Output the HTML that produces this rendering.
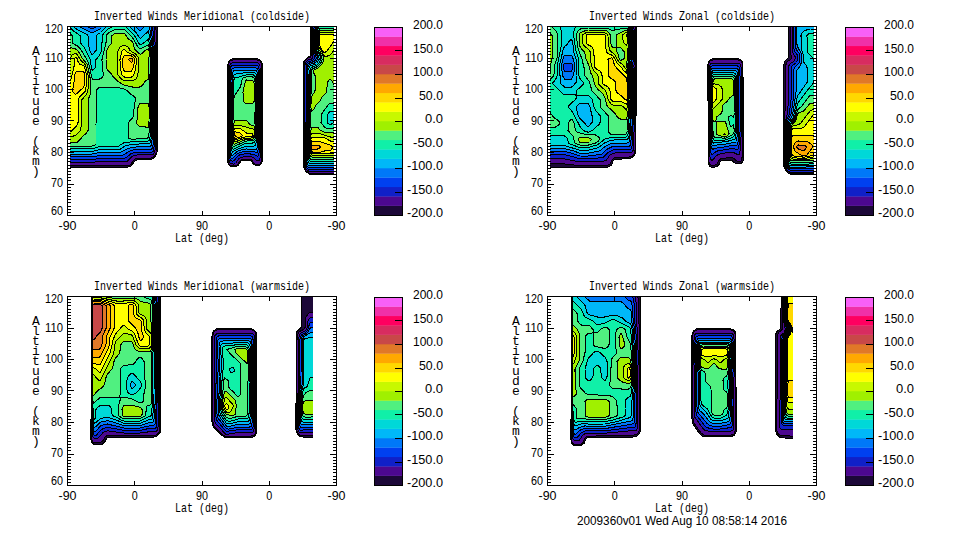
<!DOCTYPE html>
<html><head><meta charset="utf-8"><style>
html,body{margin:0;padding:0;background:#fff;width:960px;height:540px;overflow:hidden}
svg{display:block}
text{font-family:"Liberation Sans",sans-serif;fill:#000}
text.m{font-family:"Liberation Mono",monospace}
</style></head><body>
<svg width="960" height="540" viewBox="0 0 960 540">
<clipPath id="c0"><rect x="70" y="27" width="264" height="188"/></clipPath>
<g clip-path="url(#c0)">
<path fill="#1c0838" fill-rule="evenodd" d="M66.3 25.5L157.1 25.5L157.2 151.5L155.9 155.5L154.5 157.3L151.5 159.2L149.5 159.4L138.5 159.6L135.5 160.4L130.5 166.3L127.5 167.2L66.5 167.3Z"/>
<path fill="#4c0890" fill-rule="evenodd" d="M66.4 25.5L155.9 25.5L156.7 51.5L156.5 151.5L155.6 154.5L154.5 156L152.7 157.5L149.9 158.5L135.5 158.8L132.6 161.5L130.5 164.6L128.5 165.6L66.5 165.8Z"/>
<path fill="#1020c8" fill-rule="evenodd" d="M66.4 25.5L154.1 25.5L155.5 51.5L155.2 148.5L154.9 151.5L153.5 154L151.5 154.9L149.5 154.9L138.5 154.8L134.5 155.3L131.5 156.9L127.5 161.1L125.5 161.5L100.5 161.5L91.5 162.3L66.5 162.3Z"/>
<path fill="#0040f0" fill-rule="evenodd" d="M66.4 25.5L152.6 25.5L154.5 51.5L154.1 145.5L153.8 149.5L153 151.5L151.5 152.3L148.5 152.1L134.5 152.4L130.5 154L126.5 157.5L124.5 158.3L100.5 158.5L91.5 159.5L66.5 159.5Z"/>
<path fill="#0078f8" fill-rule="evenodd" d="M66.4 25.5L88 25.5L88 26.5L89 27.5L91.5 28.8L95 27.5L96 26.5L96 25.5L151 25.5L153.6 51.5L153.2 83.5L153.6 122.5L153.1 144.5L152.5 148.1L151.5 149.2L134.5 149.6L129.5 151.1L124.4 154.5L121.5 155.4L100.5 155.4L91.5 156.9L66.5 156.9Z"/>
<path fill="#00b8f8" fill-rule="evenodd" d="M66.4 25.5L80 25.5L80 26.5L81 27.5L91.5 32.8L92.5 32.8L99.5 29.2L101.5 27.5L102 25.5L136 25.5L136.7 27.5L139.5 30.3L140.5 30.5L143.5 27.5L144 25.5L149.5 25.5L152.7 51.5L152.7 74.5L152.2 83.5L152.7 122.5L152.2 137.5L151.7 144.5L150.5 146.4L133.5 147.1L127.5 148.6L120.5 152.3L100.5 152.4L91.5 154.2L66.5 154.2Z"/>
<path fill="#00d8d8" fill-rule="evenodd" d="M66.5 25.5L74 25.5L74.5 27.5L75.5 28.5L87 34.5L88 35.5L88.2 43.5L90.2 51.5L91.5 54L92.5 54.5L96 50.5L96 35.5L100.5 32.5L105.5 27.5L106 25.5L130 25.5L130.5 27.5L136.1 32.5L139.5 37.8L140.5 38.5L148.5 31L151.8 51.5L151.8 74.5L151.2 83.5L151.8 112.5L151 139.5L150.5 142.5L149.5 143.7L135.5 144.1L128.5 145.1L124.5 146.2L120.5 149L118.5 149.4L100.5 149.4L91.5 151.5L66.5 151.5Z"/>
<path fill="#10f0a8" fill-rule="evenodd" d="M66.5 25.5L70 25.5L70.3 27.5L72.5 30.2L80 35.5L80 42.5L84.3 47.5L89.8 58.5L90.6 61.5L91.5 68.5L92.5 70.7L95.7 67.5L96 59.5L99.5 55.5L101.2 51.5L102 42.5L102 35.5L107.5 29.5L111 27.5L112 26.5L112 25.5L126 25.5L126.5 27.5L134.5 35.6L139.5 44.3L140.5 44.8L144.5 42.5L148.5 39L150.9 51.5L150.9 74.5L150.2 83.5L150.2 96.5L150.9 107.5L150.9 122.5L150 137.5L149.5 139.8L148.5 141L126.5 142.2L123.5 143L118.5 146.2L100.5 146.4L91.5 148.9L66.5 148.9Z"/>
<path fill="#50f080" fill-rule="evenodd" d="M115 29.5L116.5 29L123.5 29L124.5 29.5L133.2 38.5L137.5 46.3L139.5 48.6L140.5 48.8L147.5 45.2L148.5 45L148.7 45.5L150 51.5L150 74.5L149.1 83.5L149.1 98.5L150 107.5L150 122.5L148.7 136.5L147.5 138.3L146.5 138.6L131.5 139.2L128 138.5L128 123.5L129.5 120.8L132.5 118.2L133.8 115.5L134.1 106.5L135.7 98.5L134.2 96.5L129.8 93.5L127.2 90.5L124.5 89.2L115.5 87L100.5 87L98.5 87.9L96.3 90.5L96 125.5L96 144.5L91.5 146.2L66.5 146.4L66.5 31L68.5 31.7L72 35.5L72 42.5L72.8 43.5L77.5 46L80.5 48.9L87.9 61.5L89.3 65.5L91.5 76.6L92.5 79L99.5 79L101.5 78.1L103.7 75.5L102.1 67.5L102 59.5L106 42.5L106 35.5L108.5 32.8Z"/>
<path fill="#a0f000" fill-rule="evenodd" d="M115 33.5L116.5 33L123.5 33L124.5 33.5L126.1 35.5L127.6 38.5L132.5 41.7L134.9 49.5L140.5 54.7L145 50.5L148.5 49L149.1 51.5L148.7 77.5L148.5 79L145.8 80.5L143.5 83.9L141.5 86.1L139.5 87L132.5 87L123.5 84.8L118.1 81.5L113.5 77.2L110.5 72.8L107.5 70.2L106 66.5L106 59.5L106.8 50.5L108.5 46.7L111.7 43.5L112 35.5ZM66.5 47.5L66.5 47L67.5 47L75.5 48.9L78.4 51.5L83.1 59.5L85.5 61.9L87.1 64.5L89.5 74.5L91 83.5L90.3 93.5L89.5 96.6L88 99.5L88 130.5L86.5 133.2L83.5 135.5L78.5 141.2L76.5 142.7L66.5 143ZM139.9 103.5L140.5 103L148.5 103L149.1 107.5L149 123.5L148.5 127L145.5 127L139.5 126.7L136.3 123.5L137.9 115.5L138 107.5Z"/>
<path fill="#c8f800" fill-rule="evenodd" d="M122.4 45.5L124.5 45.1L127.5 46.6L129.1 48.5L129.9 50.5L136.3 54.5L138.8 58.5L137.9 75.5L136.4 78.5L133.6 80.5L131.5 81L123.5 80.7L119.9 77.5L117.9 74.5L117.3 66.5L117.9 51.5L119.5 47.6ZM74.4 53.5L75.5 53.1L76.5 53.6L80.9 60.5L84.5 63.6L85.7 65.5L87.9 74.5L88.9 82.5L87.5 92.3L85.6 95.5L82 99.5L81.9 123.5L80.2 130.5L77.5 133.5L75.5 135.2L73.5 136L66.5 137L66.5 79L67.9 78.5L69.2 75.5L70.1 58.5L71.6 55.5Z"/>
<path fill="#ffff00" fill-rule="evenodd" d="M123.4 49.5L124.5 49.4L127.8 52.5L133.5 54.9L136.7 58.5L135.7 68.5L133.5 75.6L131.5 77L124.5 77L123.5 76.5L121.8 74.5L120.1 67.5L120 59.5L121.8 51.5ZM75.4 57.5L76.5 57.7L77 58.5L78.4 62.5L79.5 64L83.5 65.6L84.5 66.5L86.3 74.5L87 82.5L85 91.5L79.9 96.5L78 99.5L78 122.5L76.5 126.2L73.8 128.5L71.2 131.5L68.5 132.8L66.5 133L66.5 87L67.5 87L68.5 86.2L70.5 81.5L74 66.5L74 59.5Z"/>
<path fill="#ffd800" fill-rule="evenodd" d="M124.2 55.5L131.5 56L134.6 58.5L134.5 61.9L132.6 69.5L131.5 71L124.5 71L123.5 69.7L122.7 66.5L122.7 59.5L123.5 56.3ZM76.1 71.5L76.5 71L83.5 71L84.7 74.5L85 82.5L84.5 85.1L83.5 87.3L78.5 92.1L75.5 94.7L72.3 91.5L73.8 84.5L74.8 74.5Z"/>
<path fill="#ffa800" fill-rule="evenodd" d="M129.5 58.5L131.5 58.1L132.5 58.5L132.7 60.5L131.5 62.7L128.3 59.5Z"/>
<path fill="none" stroke="#000" stroke-width="1.0" shape-rendering="crispEdges" d="M66.3 25.5L157.1 25.5L157.2 151.5L155.9 155.5L154.5 157.3L151.5 159.2L149.5 159.4L138.5 159.6L135.5 160.4L130.5 166.3L127.5 167.2L66.5 167.3ZM66.4 25.5L155.9 25.5L156.7 51.5L156.5 151.5L155.6 154.5L154.5 156L152.7 157.5L149.9 158.5L135.5 158.8L132.6 161.5L130.5 164.6L128.5 165.6L66.5 165.8ZM66.4 25.5L154.1 25.5L155.5 51.5L155.2 148.5L154.9 151.5L153.5 154L151.5 154.9L149.5 154.9L138.5 154.8L134.5 155.3L131.5 156.9L127.5 161.1L125.5 161.5L100.5 161.5L91.5 162.3L66.5 162.3ZM66.4 25.5L152.6 25.5L154.5 51.5L154.1 145.5L153.8 149.5L153 151.5L151.5 152.3L148.5 152.1L134.5 152.4L130.5 154L126.5 157.5L124.5 158.3L100.5 158.5L91.5 159.5L66.5 159.5ZM66.4 25.5L88 25.5L88 26.5L89 27.5L91.5 28.8L95 27.5L96 26.5L96 25.5L151 25.5L153.6 51.5L153.2 83.5L153.6 122.5L153.1 144.5L152.5 148.1L151.5 149.2L134.5 149.6L129.5 151.1L124.4 154.5L121.5 155.4L100.5 155.4L91.5 156.9L66.5 156.9ZM66.4 25.5L80 25.5L80 26.5L81 27.5L91.5 32.8L92.5 32.8L99.5 29.2L101.5 27.5L102 25.5L136 25.5L136.7 27.5L139.5 30.3L140.5 30.5L143.5 27.5L144 25.5L149.5 25.5L152.7 51.5L152.7 74.5L152.2 83.5L152.7 122.5L152.2 137.5L151.7 144.5L150.5 146.4L133.5 147.1L127.5 148.6L120.5 152.3L100.5 152.4L91.5 154.2L66.5 154.2ZM66.5 25.5L74 25.5L74.5 27.5L75.5 28.5L87 34.5L88 35.5L88.2 43.5L90.2 51.5L91.5 54L92.5 54.5L96 50.5L96 35.5L100.5 32.5L105.5 27.5L106 25.5L130 25.5L130.5 27.5L136.1 32.5L139.5 37.8L140.5 38.5L148.5 31L151.8 51.5L151.8 74.5L151.2 83.5L151.8 112.5L151 139.5L150.5 142.5L149.5 143.7L135.5 144.1L128.5 145.1L124.5 146.2L120.5 149L118.5 149.4L100.5 149.4L91.5 151.5L66.5 151.5ZM66.5 25.5L70 25.5L70.3 27.5L72.5 30.2L80 35.5L80 42.5L84.3 47.5L89.8 58.5L90.6 61.5L91.5 68.5L92.5 70.7L95.7 67.5L96 59.5L99.5 55.5L101.2 51.5L102 42.5L102 35.5L107.5 29.5L111 27.5L112 26.5L112 25.5L126 25.5L126.5 27.5L134.5 35.6L139.5 44.3L140.5 44.8L144.5 42.5L148.5 39L150.9 51.5L150.9 74.5L150.2 83.5L150.2 96.5L150.9 107.5L150.9 122.5L150 137.5L149.5 139.8L148.5 141L126.5 142.2L123.5 143L118.5 146.2L100.5 146.4L91.5 148.9L66.5 148.9ZM115 29.5L116.5 29L123.5 29L124.5 29.5L133.2 38.5L137.5 46.3L139.5 48.6L140.5 48.8L147.5 45.2L148.5 45L148.7 45.5L150 51.5L150 74.5L149.1 83.5L149.1 98.5L150 107.5L150 122.5L148.7 136.5L147.5 138.3L146.5 138.6L131.5 139.2L128 138.5L128 123.5L129.5 120.8L132.5 118.2L133.8 115.5L134.1 106.5L135.7 98.5L134.2 96.5L129.8 93.5L127.2 90.5L124.5 89.2L115.5 87L100.5 87L98.5 87.9L96.3 90.5L96 125.5L96 144.5L91.5 146.2L66.5 146.4L66.5 31L68.5 31.7L72 35.5L72 42.5L72.8 43.5L77.5 46L80.5 48.9L87.9 61.5L89.3 65.5L91.5 76.6L92.5 79L99.5 79L101.5 78.1L103.7 75.5L102.1 67.5L102 59.5L106 42.5L106 35.5L108.5 32.8ZM115 33.5L116.5 33L123.5 33L124.5 33.5L126.1 35.5L127.6 38.5L132.5 41.7L134.9 49.5L140.5 54.7L145 50.5L148.5 49L149.1 51.5L148.7 77.5L148.5 79L145.8 80.5L143.5 83.9L141.5 86.1L139.5 87L132.5 87L123.5 84.8L118.1 81.5L113.5 77.2L110.5 72.8L107.5 70.2L106 66.5L106 59.5L106.8 50.5L108.5 46.7L111.7 43.5L112 35.5ZM66.5 47.5L66.5 47L67.5 47L75.5 48.9L78.4 51.5L83.1 59.5L85.5 61.9L87.1 64.5L89.5 74.5L91 83.5L90.3 93.5L89.5 96.6L88 99.5L88 130.5L86.5 133.2L83.5 135.5L78.5 141.2L76.5 142.7L66.5 143ZM139.9 103.5L140.5 103L148.5 103L149.1 107.5L149 123.5L148.5 127L145.5 127L139.5 126.7L136.3 123.5L137.9 115.5L138 107.5ZM122.4 45.5L124.5 45.1L127.5 46.6L129.1 48.5L129.9 50.5L136.3 54.5L138.8 58.5L137.9 75.5L136.4 78.5L133.6 80.5L131.5 81L123.5 80.7L119.9 77.5L117.9 74.5L117.3 66.5L117.9 51.5L119.5 47.6ZM74.4 53.5L75.5 53.1L76.5 53.6L80.9 60.5L84.5 63.6L85.7 65.5L87.9 74.5L88.9 82.5L87.5 92.3L85.6 95.5L82 99.5L81.9 123.5L80.2 130.5L77.5 133.5L75.5 135.2L73.5 136L66.5 137L66.5 79L67.9 78.5L69.2 75.5L70.1 58.5L71.6 55.5ZM123.4 49.5L124.5 49.4L127.8 52.5L133.5 54.9L136.7 58.5L135.7 68.5L133.5 75.6L131.5 77L124.5 77L123.5 76.5L121.8 74.5L120.1 67.5L120 59.5L121.8 51.5ZM75.4 57.5L76.5 57.7L77 58.5L78.4 62.5L79.5 64L83.5 65.6L84.5 66.5L86.3 74.5L87 82.5L85 91.5L79.9 96.5L78 99.5L78 122.5L76.5 126.2L73.8 128.5L71.2 131.5L68.5 132.8L66.5 133L66.5 87L67.5 87L68.5 86.2L70.5 81.5L74 66.5L74 59.5ZM124.2 55.5L131.5 56L134.6 58.5L134.5 61.9L132.6 69.5L131.5 71L124.5 71L123.5 69.7L122.7 66.5L122.7 59.5L123.5 56.3ZM76.1 71.5L76.5 71L83.5 71L84.7 74.5L85 82.5L84.5 85.1L83.5 87.3L78.5 92.1L75.5 94.7L72.3 91.5L73.8 84.5L74.8 74.5ZM129.5 58.5L131.5 58.1L132.5 58.5L132.7 60.5L131.5 62.7L128.3 59.5Z"/>
<path fill="#1c0838" fill-rule="evenodd" d="M230.7 59.5L233.5 58.6L257.5 58.7L260.5 60.6L262.1 63.5L262.1 161.5L261.4 163.5L259.5 165.4L255.5 165.4L253.8 164.5L251.5 161.4L249.5 160.4L241.5 160.5L238.1 165.5L236.5 166.4L230.5 166.4L228.6 164.5L227.8 162.5L227.9 64.5L228.7 61.5Z"/>
<path fill="#4c0890" fill-rule="evenodd" d="M230.4 60.5L234.5 59.6L255.5 59.6L259.5 60.5L260.5 61.5L261.5 64.2L261.6 160.5L260.6 163.5L258.9 164.5L256.5 164.6L254.5 163.7L251.5 159.9L248.5 159.1L243.5 159.2L240.5 160.1L237.8 164.5L235.5 165.8L230.5 165.6L229.2 164.5L228.3 162.5L228.4 66.5L228.5 63.5Z"/>
<path fill="#1020c8" fill-rule="evenodd" d="M230.7 63.5L232.5 62.9L257.5 62.9L259.5 64.1L260 65.5L260.5 155.5L259.8 159.5L258.5 160.9L256.5 160.4L254.5 158.4L252.5 157.2L249.5 156.5L241.5 157.1L238.5 159L235.5 163.5L233.5 164.1L230.5 163.8L229.1 161.5L228.6 155.5L228.4 136.5L229.1 115.5L229.3 69.5L229.6 65.5Z"/>
<path fill="#0040f0" fill-rule="evenodd" d="M232.2 65.5L256.5 65.4L258.5 66.4L258.9 67.5L259.4 74.5L259.6 150.5L258.5 155.8L257.5 156.2L253.5 154.3L246.5 153.6L240.5 154.5L237.5 156.1L234.5 160.1L232.5 161.1L230.5 160.3L229.8 158.5L229 136.5L229.9 116.5L230.2 70.5L230.5 67.4L231.5 65.8Z"/>
<path fill="#0078f8" fill-rule="evenodd" d="M232.1 68.5L234.5 67.8L255.5 67.8L257.5 68.6L258.2 70.5L258.9 130.5L258.6 148.5L257.5 152L256.5 152.3L250.5 151.4L245.5 151.4L239.5 152.6L236.5 154.4L232.5 158.6L231.5 158.6L230.5 157L229.6 135.5L230.6 116.5L231.1 72.5Z"/>
<path fill="#00b8f8" fill-rule="evenodd" d="M240.6 70.5L255.5 70.3L256.5 70.9L257.2 72.5L257.6 77.5L257.6 123.5L258.1 135.5L257.3 147.5L256.5 149L255.5 149.3L246.5 149L242.5 149.6L237.5 151.3L232.5 155.4L231.5 155L230.5 150.2L230 136.5L231.3 116.5L232.2 73.5L233.5 70.9Z"/>
<path fill="#00d8d8" fill-rule="evenodd" d="M245.8 72.5L254.5 72.6L255.7 73.5L256.4 75.5L256.9 84.5L256.7 123.5L257.3 136.5L255.5 145.7L252.5 146.5L246.5 146.3L238.5 148.7L232.5 152L231.5 150.6L231 146.5L230.5 135.5L232 116.5L232.8 79.5L233.5 75.5L234.5 74.1L239.5 73.8Z"/>
<path fill="#10f0a8" fill-rule="evenodd" d="M243.8 75.5L246.5 74.8L253.5 75L254.6 75.5L255.5 77.5L256.1 84.5L255.8 123.5L256.7 135.5L256.1 139.5L254.5 142.1L252.5 143L246.5 143L241.2 145.5L233.5 149.2L232.5 148.9L231.5 145.2L231 135.5L232.7 116.5L232.8 100.5L234 79.5L234.5 78.1L235.5 77.2L239.5 77Z"/>
<path fill="#50f080" fill-rule="evenodd" d="M244.3 77.5L246.5 76.9L252.5 77L253.7 77.5L254.8 79.5L255.3 86.5L254.9 123.5L255.8 129.5L256 135.5L255.4 138.5L253.5 140.6L245.5 141.1L240.5 143.6L233.5 146.6L232.3 144.5L231.4 135.5L233.4 116.5L233.5 99.5L234.5 95.6L240.5 86.9L242.3 78.5Z"/>
<path fill="#a0f000" fill-rule="evenodd" d="M246 80.5L246.5 80L252.5 80.4L253.5 81.3L254.2 83.5L254.5 100.3L253.5 102.7L252.5 103.6L246.5 104L244.5 102.7L243.2 100.5L243 92.5L244.6 83.5ZM234.4 120.5L234.5 120L245.5 120L247.5 121.3L249.8 124.5L254.5 126.1L255.3 132.5L254.7 137.5L252.5 139.4L248.5 139.5L245.5 139.6L234.5 144.2L233.5 143.9L232.5 141.2L231.9 135.5Z"/>
<path fill="#c8f800" fill-rule="evenodd" d="M233.9 126.5L234.5 125.5L240.5 125.6L253.5 129.1L254.5 131.5L254.1 136.5L252.5 137.9L249.5 138.1L245.5 138.2L235.5 141.7L233.9 141.5L232.9 139.5L232.4 135.5Z"/>
<path fill="#ffff00" fill-rule="evenodd" d="M234 129.5L234.5 128.5L240.5 128.7L246.5 133L251.5 133L252.5 133.8L253.1 135.5L252.5 136.5L249.5 136.8L245.5 136.9L234.5 140L233.5 138.8L233 136.5Z"/>
<path fill="#ffd800" fill-rule="evenodd" d="M234.2 132.5L234.5 131.6L239.5 132.8L242.5 135.5L241.5 136.6L236.5 138.2L234.5 138.1L233.6 135.5Z"/>
<path fill="#ffa800" fill-rule="evenodd" d="M234.5 135.5L234.5 135L235.5 135.1L236.5 136.5L235.5 136.8Z"/>
<path fill="none" stroke="#000" stroke-width="1.0" shape-rendering="crispEdges" d="M230.7 59.5L233.5 58.6L257.5 58.7L260.5 60.6L262.1 63.5L262.1 161.5L261.4 163.5L259.5 165.4L255.5 165.4L253.8 164.5L251.5 161.4L249.5 160.4L241.5 160.5L238.1 165.5L236.5 166.4L230.5 166.4L228.6 164.5L227.8 162.5L227.9 64.5L228.7 61.5ZM230.4 60.5L234.5 59.6L255.5 59.6L259.5 60.5L260.5 61.5L261.5 64.2L261.6 160.5L260.6 163.5L258.9 164.5L256.5 164.6L254.5 163.7L251.5 159.9L248.5 159.1L243.5 159.2L240.5 160.1L237.8 164.5L235.5 165.8L230.5 165.6L229.2 164.5L228.3 162.5L228.4 66.5L228.5 63.5ZM230.7 63.5L232.5 62.9L257.5 62.9L259.5 64.1L260 65.5L260.5 155.5L259.8 159.5L258.5 160.9L256.5 160.4L254.5 158.4L252.5 157.2L249.5 156.5L241.5 157.1L238.5 159L235.5 163.5L233.5 164.1L230.5 163.8L229.1 161.5L228.6 155.5L228.4 136.5L229.1 115.5L229.3 69.5L229.6 65.5ZM232.2 65.5L256.5 65.4L258.5 66.4L258.9 67.5L259.4 74.5L259.6 150.5L258.5 155.8L257.5 156.2L253.5 154.3L246.5 153.6L240.5 154.5L237.5 156.1L234.5 160.1L232.5 161.1L230.5 160.3L229.8 158.5L229 136.5L229.9 116.5L230.2 70.5L230.5 67.4L231.5 65.8ZM232.1 68.5L234.5 67.8L255.5 67.8L257.5 68.6L258.2 70.5L258.9 130.5L258.6 148.5L257.5 152L256.5 152.3L250.5 151.4L245.5 151.4L239.5 152.6L236.5 154.4L232.5 158.6L231.5 158.6L230.5 157L229.6 135.5L230.6 116.5L231.1 72.5ZM240.6 70.5L255.5 70.3L256.5 70.9L257.2 72.5L257.6 77.5L257.6 123.5L258.1 135.5L257.3 147.5L256.5 149L255.5 149.3L246.5 149L242.5 149.6L237.5 151.3L232.5 155.4L231.5 155L230.5 150.2L230 136.5L231.3 116.5L232.2 73.5L233.5 70.9ZM245.8 72.5L254.5 72.6L255.7 73.5L256.4 75.5L256.9 84.5L256.7 123.5L257.3 136.5L255.5 145.7L252.5 146.5L246.5 146.3L238.5 148.7L232.5 152L231.5 150.6L231 146.5L230.5 135.5L232 116.5L232.8 79.5L233.5 75.5L234.5 74.1L239.5 73.8ZM243.8 75.5L246.5 74.8L253.5 75L254.6 75.5L255.5 77.5L256.1 84.5L255.8 123.5L256.7 135.5L256.1 139.5L254.5 142.1L252.5 143L246.5 143L241.2 145.5L233.5 149.2L232.5 148.9L231.5 145.2L231 135.5L232.7 116.5L232.8 100.5L234 79.5L234.5 78.1L235.5 77.2L239.5 77ZM244.3 77.5L246.5 76.9L252.5 77L253.7 77.5L254.8 79.5L255.3 86.5L254.9 123.5L255.8 129.5L256 135.5L255.4 138.5L253.5 140.6L245.5 141.1L240.5 143.6L233.5 146.6L232.3 144.5L231.4 135.5L233.4 116.5L233.5 99.5L234.5 95.6L240.5 86.9L242.3 78.5ZM246 80.5L246.5 80L252.5 80.4L253.5 81.3L254.2 83.5L254.5 100.3L253.5 102.7L252.5 103.6L246.5 104L244.5 102.7L243.2 100.5L243 92.5L244.6 83.5ZM234.4 120.5L234.5 120L245.5 120L247.5 121.3L249.8 124.5L254.5 126.1L255.3 132.5L254.7 137.5L252.5 139.4L248.5 139.5L245.5 139.6L234.5 144.2L233.5 143.9L232.5 141.2L231.9 135.5ZM233.9 126.5L234.5 125.5L240.5 125.6L253.5 129.1L254.5 131.5L254.1 136.5L252.5 137.9L249.5 138.1L245.5 138.2L235.5 141.7L233.9 141.5L232.9 139.5L232.4 135.5ZM234 129.5L234.5 128.5L240.5 128.7L246.5 133L251.5 133L252.5 133.8L253.1 135.5L252.5 136.5L249.5 136.8L245.5 136.9L234.5 140L233.5 138.8L233 136.5ZM234.2 132.5L234.5 131.6L239.5 132.8L242.5 135.5L241.5 136.6L236.5 138.2L234.5 138.1L233.6 135.5ZM234.5 135.5L234.5 135L235.5 135.1L236.5 136.5L235.5 136.8Z"/>
<path fill="#1c0838" fill-rule="evenodd" d="M310.8 25.5L337.7 25.5L337.5 174.5L331.5 174.5L309.5 174.2L305.7 171.5L303.7 167.5L303.5 64.5L303.9 61.5L305.2 59.5L310.6 55.5Z"/>
<path fill="#4c0890" fill-rule="evenodd" d="M311.5 25.5L337.6 25.5L337.5 173.8L330.5 173.8L310.5 173.6L306.5 171.5L304.2 167.5L304.2 64.5L304.5 61.7L305.5 60.2L307.5 58.4L310.5 57L311.2 55.5Z"/>
<path fill="#1020c8" fill-rule="evenodd" d="M313.1 25.5L337.6 25.5L337.5 171.8L328.5 171.8L309.5 171.6L306.2 169.5L304.6 165.5L305 65.5L305.6 62.5L306.5 61.2L308.5 59.9L311.5 59L312.7 57.5L312.1 50.5L312.1 35.5Z"/>
<path fill="#0040f0" fill-rule="evenodd" d="M314.4 25.5L337.6 25.5L337.5 169.1L327.5 169.1L308.5 169.2L306.5 167.5L305.4 163.5L304.9 146.5L306 122.5L306 66.5L306.5 63.6L307.5 62.2L312.5 60.6L314.5 58.5L314.5 56.5L313.3 52.5L313.1 48.5L313.1 35.5Z"/>
<path fill="#0078f8" fill-rule="evenodd" d="M315.6 25.5L337.6 25.5L337.5 167.1L325.5 167.1L308.5 167.5L306.7 165.5L306.1 162.5L305.6 146.5L307 122.5L306.6 106.5L307.3 90.5L307 66.5L308.1 63.5L314 61.5L315.5 60L316.1 58.5L316 56.5L314.3 52.5L313.9 49.5L313.9 35.5Z"/>
<path fill="#00b8f8" fill-rule="evenodd" d="M316.8 25.5L337.6 25.5L337.5 165.2L322.5 165.2L309.5 165.6L308.5 165.4L307.6 164.5L306.8 160.5L306.2 147.5L307.9 122.5L307.4 106.5L308.3 90.5L307.9 67.5L308.4 65.5L309.4 64.5L314.5 63L316.3 61.5L317.5 59.5L317.5 56.5L315 51.5L314.7 48.5L314.8 34.5Z"/>
<path fill="#00d8d8" fill-rule="evenodd" d="M317.9 25.5L337.5 25.5L337.5 163.2L322.5 163.2L309.5 163.4L308.5 162.8L307.6 159.5L306.8 147.5L308.8 122.5L308.2 105.5L309.3 90.5L309 68.5L309.5 66.6L310.5 65.8L314.5 64.7L316.5 63.5L319.1 59.5L318.9 56.5L316.1 51.5L315.5 47.5L315.6 34.5Z"/>
<path fill="#10f0a8" fill-rule="evenodd" d="M319.1 25.5L337.5 25.5L337.5 111L330.5 111L329.5 111.7L327 115.5L327 122.5L329.5 124.7L330.5 124.7L332.4 123.5L335.5 119.4L337.5 119L337.5 161.2L310.5 161.3L309.1 160.5L308.4 158.5L307.4 146.5L309.7 122.5L309 105.5L310.3 90.5L310.1 69.5L311.2 67.5L315.5 65.9L317.6 64.5L319.5 62.2L320.7 59.5L320 55.5L316.8 50.5L316.3 47.5L316.4 34.5Z"/>
<path fill="#50f080" fill-rule="evenodd" d="M319.5 28.5L320.5 28L337.5 28L337.5 103L330.5 103L328.5 104.3L321.2 114.5L321 122.5L324.5 127.3L327.5 128.5L330.5 128.9L337.5 127L337.5 156.5L337.5 159.3L311.5 159.3L310.5 159.1L309.5 158L308.5 152.9L307.9 146.5L310.7 122.5L310.7 115.5L309.8 106.5L311.3 90.5L311.2 71.5L311.5 70.1L312.5 68.9L316.5 67.1L319.5 64.7L321.1 62.5L322.2 59.5L321.4 55.5L318.1 50.5L317.2 47.5L317 35.5Z"/>
<path fill="#a0f000" fill-rule="evenodd" d="M319.5 30.5L320.5 30L337.5 30L337.5 87L335.3 86.5L331.6 80.5L330.5 79.4L329.5 79.4L327.2 82.5L326.8 91.5L325.5 93.7L322.4 96.5L320.3 100.5L316.4 104.5L314.3 108.5L312.5 110.6L311.5 111L310.8 106.5L311.5 97.6L312.5 94.6L314.3 92.5L315 90.5L315 75.5L313.1 71.5L313.5 70.5L318.5 67.6L320.8 65.5L322.8 62.5L323.8 59.5L322.8 55.5L318.9 49.5L317.9 46.5L317.8 35.5ZM311.4 127.5L311.5 127L317.5 127L320.6 130.5L324.5 132.4L337.5 133L337.5 157.3L336.5 157.3L312.5 157.3L310.5 156.5L309.2 152.5L308.5 146.5Z"/>
<path fill="#c8f800" fill-rule="evenodd" d="M319.6 32.5L320.5 32L337.5 32L337.5 47L335.5 47.7L332.5 52.1L330.7 54.5L329.1 55.5L325.5 56.7L324.5 56.2L318.8 46.5L318.6 35.5ZM311.3 133.5L311.5 133L317.5 133L330.5 137L337.5 137L337.5 155.3L336.5 155.3L313.5 155.3L311.5 154.9L310 152.5L309.1 147.5L310.3 137.5Z"/>
<path fill="#ffff00" fill-rule="evenodd" d="M319.7 34.5L320.5 34L337.5 34L337.5 39L335.5 39.4L334.5 40.3L330.5 46.3L326.4 51.5L324.5 52.7L323.5 52.1L320.4 47.5L319.5 44.8ZM311.3 137.5L311.5 137L317.5 137L323.5 137.6L326 138.5L329.5 140.7L337.5 143L337.5 153.4L336.5 153.4L314.5 153.9L311.5 153.2L310.5 151.6L309.7 147.5L310.5 140.3Z"/>
<path fill="#ffd800" fill-rule="evenodd" d="M311.4 141.5L311.5 141L318.5 141.1L330.5 145.3L332.4 146.5L332.8 147.5L330.5 150.6L324.5 151L319 152.5L312.5 152.2L311.1 150.5L310.3 147.5Z"/>
<path fill="#ffa800" fill-rule="evenodd" d="M311.4 145.5L311.5 145L318.5 145.3L320.4 146.5L320.4 147.5L319.5 148.1L317.5 149L311.5 149Z"/>
<path fill="none" stroke="#000" stroke-width="1.0" shape-rendering="crispEdges" d="M310.8 25.5L337.7 25.5L337.5 174.5L331.5 174.5L309.5 174.2L305.7 171.5L303.7 167.5L303.5 64.5L303.9 61.5L305.2 59.5L310.6 55.5ZM311.5 25.5L337.6 25.5L337.5 173.8L330.5 173.8L310.5 173.6L306.5 171.5L304.2 167.5L304.2 64.5L304.5 61.7L305.5 60.2L307.5 58.4L310.5 57L311.2 55.5ZM313.1 25.5L337.6 25.5L337.5 171.8L328.5 171.8L309.5 171.6L306.2 169.5L304.6 165.5L305 65.5L305.6 62.5L306.5 61.2L308.5 59.9L311.5 59L312.7 57.5L312.1 50.5L312.1 35.5ZM314.4 25.5L337.6 25.5L337.5 169.1L327.5 169.1L308.5 169.2L306.5 167.5L305.4 163.5L304.9 146.5L306 122.5L306 66.5L306.5 63.6L307.5 62.2L312.5 60.6L314.5 58.5L314.5 56.5L313.3 52.5L313.1 48.5L313.1 35.5ZM315.6 25.5L337.6 25.5L337.5 167.1L325.5 167.1L308.5 167.5L306.7 165.5L306.1 162.5L305.6 146.5L307 122.5L306.6 106.5L307.3 90.5L307 66.5L308.1 63.5L314 61.5L315.5 60L316.1 58.5L316 56.5L314.3 52.5L313.9 49.5L313.9 35.5ZM316.8 25.5L337.6 25.5L337.5 165.2L322.5 165.2L309.5 165.6L308.5 165.4L307.6 164.5L306.8 160.5L306.2 147.5L307.9 122.5L307.4 106.5L308.3 90.5L307.9 67.5L308.4 65.5L309.4 64.5L314.5 63L316.3 61.5L317.5 59.5L317.5 56.5L315 51.5L314.7 48.5L314.8 34.5ZM317.9 25.5L337.5 25.5L337.5 163.2L322.5 163.2L309.5 163.4L308.5 162.8L307.6 159.5L306.8 147.5L308.8 122.5L308.2 105.5L309.3 90.5L309 68.5L309.5 66.6L310.5 65.8L314.5 64.7L316.5 63.5L319.1 59.5L318.9 56.5L316.1 51.5L315.5 47.5L315.6 34.5ZM319.1 25.5L337.5 25.5L337.5 111L330.5 111L329.5 111.7L327 115.5L327 122.5L329.5 124.7L330.5 124.7L332.4 123.5L335.5 119.4L337.5 119L337.5 161.2L310.5 161.3L309.1 160.5L308.4 158.5L307.4 146.5L309.7 122.5L309 105.5L310.3 90.5L310.1 69.5L311.2 67.5L315.5 65.9L317.6 64.5L319.5 62.2L320.7 59.5L320 55.5L316.8 50.5L316.3 47.5L316.4 34.5ZM319.5 28.5L320.5 28L337.5 28L337.5 103L330.5 103L328.5 104.3L321.2 114.5L321 122.5L324.5 127.3L327.5 128.5L330.5 128.9L337.5 127L337.5 156.5L337.5 159.3L311.5 159.3L310.5 159.1L309.5 158L308.5 152.9L307.9 146.5L310.7 122.5L310.7 115.5L309.8 106.5L311.3 90.5L311.2 71.5L311.5 70.1L312.5 68.9L316.5 67.1L319.5 64.7L321.1 62.5L322.2 59.5L321.4 55.5L318.1 50.5L317.2 47.5L317 35.5ZM319.5 30.5L320.5 30L337.5 30L337.5 87L335.3 86.5L331.6 80.5L330.5 79.4L329.5 79.4L327.2 82.5L326.8 91.5L325.5 93.7L322.4 96.5L320.3 100.5L316.4 104.5L314.3 108.5L312.5 110.6L311.5 111L310.8 106.5L311.5 97.6L312.5 94.6L314.3 92.5L315 90.5L315 75.5L313.1 71.5L313.5 70.5L318.5 67.6L320.8 65.5L322.8 62.5L323.8 59.5L322.8 55.5L318.9 49.5L317.9 46.5L317.8 35.5ZM311.4 127.5L311.5 127L317.5 127L320.6 130.5L324.5 132.4L337.5 133L337.5 157.3L336.5 157.3L312.5 157.3L310.5 156.5L309.2 152.5L308.5 146.5ZM319.6 32.5L320.5 32L337.5 32L337.5 47L335.5 47.7L332.5 52.1L330.7 54.5L329.1 55.5L325.5 56.7L324.5 56.2L318.8 46.5L318.6 35.5ZM311.3 133.5L311.5 133L317.5 133L330.5 137L337.5 137L337.5 155.3L336.5 155.3L313.5 155.3L311.5 154.9L310 152.5L309.1 147.5L310.3 137.5ZM319.7 34.5L320.5 34L337.5 34L337.5 39L335.5 39.4L334.5 40.3L330.5 46.3L326.4 51.5L324.5 52.7L323.5 52.1L320.4 47.5L319.5 44.8ZM311.3 137.5L311.5 137L317.5 137L323.5 137.6L326 138.5L329.5 140.7L337.5 143L337.5 153.4L336.5 153.4L314.5 153.9L311.5 153.2L310.5 151.6L309.7 147.5L310.5 140.3ZM311.4 141.5L311.5 141L318.5 141.1L330.5 145.3L332.4 146.5L332.8 147.5L330.5 150.6L324.5 151L319 152.5L312.5 152.2L311.1 150.5L310.3 147.5ZM311.4 145.5L311.5 145L318.5 145.3L320.4 146.5L320.4 147.5L319.5 148.1L317.5 149L311.5 149Z"/>
</g>
<rect x="67.5" y="26.5" width="269" height="189" fill="none" stroke="#000" stroke-width="1"/>
<line x1="68" y1="212.5" x2="71" y2="212.5" stroke="#000" stroke-width="1"/>
<line x1="336" y1="212.5" x2="333" y2="212.5" stroke="#000" stroke-width="1"/>
<line x1="68" y1="209.5" x2="71" y2="209.5" stroke="#000" stroke-width="1"/>
<line x1="336" y1="209.5" x2="333" y2="209.5" stroke="#000" stroke-width="1"/>
<line x1="68" y1="206.5" x2="71" y2="206.5" stroke="#000" stroke-width="1"/>
<line x1="336" y1="206.5" x2="333" y2="206.5" stroke="#000" stroke-width="1"/>
<line x1="68" y1="202.5" x2="71" y2="202.5" stroke="#000" stroke-width="1"/>
<line x1="336" y1="202.5" x2="333" y2="202.5" stroke="#000" stroke-width="1"/>
<line x1="68" y1="199.5" x2="71" y2="199.5" stroke="#000" stroke-width="1"/>
<line x1="336" y1="199.5" x2="333" y2="199.5" stroke="#000" stroke-width="1"/>
<line x1="68" y1="196.5" x2="71" y2="196.5" stroke="#000" stroke-width="1"/>
<line x1="336" y1="196.5" x2="333" y2="196.5" stroke="#000" stroke-width="1"/>
<line x1="68" y1="193.5" x2="71" y2="193.5" stroke="#000" stroke-width="1"/>
<line x1="336" y1="193.5" x2="333" y2="193.5" stroke="#000" stroke-width="1"/>
<line x1="68" y1="190.5" x2="71" y2="190.5" stroke="#000" stroke-width="1"/>
<line x1="336" y1="190.5" x2="333" y2="190.5" stroke="#000" stroke-width="1"/>
<line x1="68" y1="187.5" x2="71" y2="187.5" stroke="#000" stroke-width="1"/>
<line x1="336" y1="187.5" x2="333" y2="187.5" stroke="#000" stroke-width="1"/>
<line x1="68" y1="184.5" x2="74" y2="184.5" stroke="#000" stroke-width="1"/>
<line x1="336" y1="184.5" x2="330" y2="184.5" stroke="#000" stroke-width="1"/>
<line x1="68" y1="180.5" x2="71" y2="180.5" stroke="#000" stroke-width="1"/>
<line x1="336" y1="180.5" x2="333" y2="180.5" stroke="#000" stroke-width="1"/>
<line x1="68" y1="177.5" x2="71" y2="177.5" stroke="#000" stroke-width="1"/>
<line x1="336" y1="177.5" x2="333" y2="177.5" stroke="#000" stroke-width="1"/>
<line x1="68" y1="174.5" x2="71" y2="174.5" stroke="#000" stroke-width="1"/>
<line x1="336" y1="174.5" x2="333" y2="174.5" stroke="#000" stroke-width="1"/>
<line x1="68" y1="171.5" x2="71" y2="171.5" stroke="#000" stroke-width="1"/>
<line x1="336" y1="171.5" x2="333" y2="171.5" stroke="#000" stroke-width="1"/>
<line x1="68" y1="168.5" x2="71" y2="168.5" stroke="#000" stroke-width="1"/>
<line x1="336" y1="168.5" x2="333" y2="168.5" stroke="#000" stroke-width="1"/>
<line x1="68" y1="165.5" x2="71" y2="165.5" stroke="#000" stroke-width="1"/>
<line x1="336" y1="165.5" x2="333" y2="165.5" stroke="#000" stroke-width="1"/>
<line x1="68" y1="161.5" x2="71" y2="161.5" stroke="#000" stroke-width="1"/>
<line x1="336" y1="161.5" x2="333" y2="161.5" stroke="#000" stroke-width="1"/>
<line x1="68" y1="158.5" x2="71" y2="158.5" stroke="#000" stroke-width="1"/>
<line x1="336" y1="158.5" x2="333" y2="158.5" stroke="#000" stroke-width="1"/>
<line x1="68" y1="155.5" x2="71" y2="155.5" stroke="#000" stroke-width="1"/>
<line x1="336" y1="155.5" x2="333" y2="155.5" stroke="#000" stroke-width="1"/>
<line x1="68" y1="152.5" x2="74" y2="152.5" stroke="#000" stroke-width="1"/>
<line x1="336" y1="152.5" x2="330" y2="152.5" stroke="#000" stroke-width="1"/>
<line x1="68" y1="149.5" x2="71" y2="149.5" stroke="#000" stroke-width="1"/>
<line x1="336" y1="149.5" x2="333" y2="149.5" stroke="#000" stroke-width="1"/>
<line x1="68" y1="146.5" x2="71" y2="146.5" stroke="#000" stroke-width="1"/>
<line x1="336" y1="146.5" x2="333" y2="146.5" stroke="#000" stroke-width="1"/>
<line x1="68" y1="143.5" x2="71" y2="143.5" stroke="#000" stroke-width="1"/>
<line x1="336" y1="143.5" x2="333" y2="143.5" stroke="#000" stroke-width="1"/>
<line x1="68" y1="139.5" x2="71" y2="139.5" stroke="#000" stroke-width="1"/>
<line x1="336" y1="139.5" x2="333" y2="139.5" stroke="#000" stroke-width="1"/>
<line x1="68" y1="136.5" x2="71" y2="136.5" stroke="#000" stroke-width="1"/>
<line x1="336" y1="136.5" x2="333" y2="136.5" stroke="#000" stroke-width="1"/>
<line x1="68" y1="133.5" x2="71" y2="133.5" stroke="#000" stroke-width="1"/>
<line x1="336" y1="133.5" x2="333" y2="133.5" stroke="#000" stroke-width="1"/>
<line x1="68" y1="130.5" x2="71" y2="130.5" stroke="#000" stroke-width="1"/>
<line x1="336" y1="130.5" x2="333" y2="130.5" stroke="#000" stroke-width="1"/>
<line x1="68" y1="127.5" x2="71" y2="127.5" stroke="#000" stroke-width="1"/>
<line x1="336" y1="127.5" x2="333" y2="127.5" stroke="#000" stroke-width="1"/>
<line x1="68" y1="124.5" x2="71" y2="124.5" stroke="#000" stroke-width="1"/>
<line x1="336" y1="124.5" x2="333" y2="124.5" stroke="#000" stroke-width="1"/>
<line x1="68" y1="120.5" x2="74" y2="120.5" stroke="#000" stroke-width="1"/>
<line x1="336" y1="120.5" x2="330" y2="120.5" stroke="#000" stroke-width="1"/>
<line x1="68" y1="117.5" x2="71" y2="117.5" stroke="#000" stroke-width="1"/>
<line x1="336" y1="117.5" x2="333" y2="117.5" stroke="#000" stroke-width="1"/>
<line x1="68" y1="114.5" x2="71" y2="114.5" stroke="#000" stroke-width="1"/>
<line x1="336" y1="114.5" x2="333" y2="114.5" stroke="#000" stroke-width="1"/>
<line x1="68" y1="111.5" x2="71" y2="111.5" stroke="#000" stroke-width="1"/>
<line x1="336" y1="111.5" x2="333" y2="111.5" stroke="#000" stroke-width="1"/>
<line x1="68" y1="108.5" x2="71" y2="108.5" stroke="#000" stroke-width="1"/>
<line x1="336" y1="108.5" x2="333" y2="108.5" stroke="#000" stroke-width="1"/>
<line x1="68" y1="105.5" x2="71" y2="105.5" stroke="#000" stroke-width="1"/>
<line x1="336" y1="105.5" x2="333" y2="105.5" stroke="#000" stroke-width="1"/>
<line x1="68" y1="102.5" x2="71" y2="102.5" stroke="#000" stroke-width="1"/>
<line x1="336" y1="102.5" x2="333" y2="102.5" stroke="#000" stroke-width="1"/>
<line x1="68" y1="98.5" x2="71" y2="98.5" stroke="#000" stroke-width="1"/>
<line x1="336" y1="98.5" x2="333" y2="98.5" stroke="#000" stroke-width="1"/>
<line x1="68" y1="95.5" x2="71" y2="95.5" stroke="#000" stroke-width="1"/>
<line x1="336" y1="95.5" x2="333" y2="95.5" stroke="#000" stroke-width="1"/>
<line x1="68" y1="92.5" x2="71" y2="92.5" stroke="#000" stroke-width="1"/>
<line x1="336" y1="92.5" x2="333" y2="92.5" stroke="#000" stroke-width="1"/>
<line x1="68" y1="89.5" x2="74" y2="89.5" stroke="#000" stroke-width="1"/>
<line x1="336" y1="89.5" x2="330" y2="89.5" stroke="#000" stroke-width="1"/>
<line x1="68" y1="86.5" x2="71" y2="86.5" stroke="#000" stroke-width="1"/>
<line x1="336" y1="86.5" x2="333" y2="86.5" stroke="#000" stroke-width="1"/>
<line x1="68" y1="83.5" x2="71" y2="83.5" stroke="#000" stroke-width="1"/>
<line x1="336" y1="83.5" x2="333" y2="83.5" stroke="#000" stroke-width="1"/>
<line x1="68" y1="80.5" x2="71" y2="80.5" stroke="#000" stroke-width="1"/>
<line x1="336" y1="80.5" x2="333" y2="80.5" stroke="#000" stroke-width="1"/>
<line x1="68" y1="76.5" x2="71" y2="76.5" stroke="#000" stroke-width="1"/>
<line x1="336" y1="76.5" x2="333" y2="76.5" stroke="#000" stroke-width="1"/>
<line x1="68" y1="73.5" x2="71" y2="73.5" stroke="#000" stroke-width="1"/>
<line x1="336" y1="73.5" x2="333" y2="73.5" stroke="#000" stroke-width="1"/>
<line x1="68" y1="70.5" x2="71" y2="70.5" stroke="#000" stroke-width="1"/>
<line x1="336" y1="70.5" x2="333" y2="70.5" stroke="#000" stroke-width="1"/>
<line x1="68" y1="67.5" x2="71" y2="67.5" stroke="#000" stroke-width="1"/>
<line x1="336" y1="67.5" x2="333" y2="67.5" stroke="#000" stroke-width="1"/>
<line x1="68" y1="64.5" x2="71" y2="64.5" stroke="#000" stroke-width="1"/>
<line x1="336" y1="64.5" x2="333" y2="64.5" stroke="#000" stroke-width="1"/>
<line x1="68" y1="61.5" x2="71" y2="61.5" stroke="#000" stroke-width="1"/>
<line x1="336" y1="61.5" x2="333" y2="61.5" stroke="#000" stroke-width="1"/>
<line x1="68" y1="58.5" x2="74" y2="58.5" stroke="#000" stroke-width="1"/>
<line x1="336" y1="58.5" x2="330" y2="58.5" stroke="#000" stroke-width="1"/>
<line x1="68" y1="54.5" x2="71" y2="54.5" stroke="#000" stroke-width="1"/>
<line x1="336" y1="54.5" x2="333" y2="54.5" stroke="#000" stroke-width="1"/>
<line x1="68" y1="51.5" x2="71" y2="51.5" stroke="#000" stroke-width="1"/>
<line x1="336" y1="51.5" x2="333" y2="51.5" stroke="#000" stroke-width="1"/>
<line x1="68" y1="48.5" x2="71" y2="48.5" stroke="#000" stroke-width="1"/>
<line x1="336" y1="48.5" x2="333" y2="48.5" stroke="#000" stroke-width="1"/>
<line x1="68" y1="45.5" x2="71" y2="45.5" stroke="#000" stroke-width="1"/>
<line x1="336" y1="45.5" x2="333" y2="45.5" stroke="#000" stroke-width="1"/>
<line x1="68" y1="42.5" x2="71" y2="42.5" stroke="#000" stroke-width="1"/>
<line x1="336" y1="42.5" x2="333" y2="42.5" stroke="#000" stroke-width="1"/>
<line x1="68" y1="39.5" x2="71" y2="39.5" stroke="#000" stroke-width="1"/>
<line x1="336" y1="39.5" x2="333" y2="39.5" stroke="#000" stroke-width="1"/>
<line x1="68" y1="35.5" x2="71" y2="35.5" stroke="#000" stroke-width="1"/>
<line x1="336" y1="35.5" x2="333" y2="35.5" stroke="#000" stroke-width="1"/>
<line x1="68" y1="32.5" x2="71" y2="32.5" stroke="#000" stroke-width="1"/>
<line x1="336" y1="32.5" x2="333" y2="32.5" stroke="#000" stroke-width="1"/>
<line x1="68" y1="29.5" x2="71" y2="29.5" stroke="#000" stroke-width="1"/>
<line x1="336" y1="29.5" x2="333" y2="29.5" stroke="#000" stroke-width="1"/>
<line x1="134.5" y1="215" x2="134.5" y2="211" stroke="#000" stroke-width="1"/>
<line x1="134.5" y1="27" x2="134.5" y2="31" stroke="#000" stroke-width="1"/>
<line x1="202.5" y1="215" x2="202.5" y2="211" stroke="#000" stroke-width="1"/>
<line x1="202.5" y1="27" x2="202.5" y2="31" stroke="#000" stroke-width="1"/>
<line x1="269.5" y1="215" x2="269.5" y2="211" stroke="#000" stroke-width="1"/>
<line x1="269.5" y1="27" x2="269.5" y2="31" stroke="#000" stroke-width="1"/>
<text x="51.00" y="215.00" font-size="13.0" textLength="12.00" lengthAdjust="spacingAndGlyphs">60</text>
<text x="51.00" y="186.50" font-size="13.0" textLength="12.00" lengthAdjust="spacingAndGlyphs">70</text>
<text x="51.00" y="156.00" font-size="13.0" textLength="12.00" lengthAdjust="spacingAndGlyphs">80</text>
<text x="51.00" y="124.50" font-size="13.0" textLength="12.00" lengthAdjust="spacingAndGlyphs">90</text>
<text x="45.00" y="93.00" font-size="13.0" textLength="18.00" lengthAdjust="spacingAndGlyphs">100</text>
<text x="45.00" y="61.50" font-size="13.0" textLength="18.00" lengthAdjust="spacingAndGlyphs">110</text>
<text x="45.00" y="33.00" font-size="13.0" textLength="18.00" lengthAdjust="spacingAndGlyphs">120</text>
<text x="58.50" y="230.00" font-size="13.0" textLength="18.00" lengthAdjust="spacingAndGlyphs">-90</text>
<text x="131.75" y="230.00" font-size="13.0" textLength="6.00" lengthAdjust="spacingAndGlyphs">0</text>
<text x="196.00" y="230.00" font-size="13.0" textLength="12.00" lengthAdjust="spacingAndGlyphs">90</text>
<text x="266.25" y="230.00" font-size="13.0" textLength="6.00" lengthAdjust="spacingAndGlyphs">0</text>
<text x="327.50" y="230.00" font-size="13.0" textLength="18.00" lengthAdjust="spacingAndGlyphs">-90</text>
<text class="m" x="175.00" y="242.00" font-size="13.0" textLength="54.00" lengthAdjust="spacingAndGlyphs">Lat (deg)</text>
<text class="m" x="36.00" y="55.00" font-size="13.0" text-anchor="middle">A</text>
<text class="m" x="36.00" y="65.00" font-size="13.0" text-anchor="middle">l</text>
<text class="m" x="36.00" y="75.00" font-size="13.0" text-anchor="middle">t</text>
<text class="m" x="36.00" y="85.00" font-size="13.0" text-anchor="middle">i</text>
<text class="m" x="36.00" y="95.00" font-size="13.0" text-anchor="middle">t</text>
<text class="m" x="36.00" y="105.00" font-size="13.0" text-anchor="middle">u</text>
<text class="m" x="36.00" y="115.00" font-size="13.0" text-anchor="middle">d</text>
<text class="m" x="36.00" y="125.00" font-size="13.0" text-anchor="middle">e</text>
<text class="m" x="36.00" y="145.00" font-size="13.0" text-anchor="middle">(</text>
<text class="m" x="36.00" y="155.00" font-size="13.0" text-anchor="middle">k</text>
<text class="m" x="36.00" y="165.00" font-size="13.0" text-anchor="middle">m</text>
<text class="m" x="36.00" y="175.00" font-size="13.0" text-anchor="middle">)</text>
<text class="m" x="94.00" y="20.00" font-size="13.0" textLength="216.00" lengthAdjust="spacingAndGlyphs">Inverted Winds Meridional (coldside)</text>
<rect x="374" y="205.60" width="29" height="9.70" fill="#1c0838"/>
<rect x="374" y="196.20" width="29" height="9.70" fill="#4c0890"/>
<rect x="374" y="186.80" width="29" height="9.70" fill="#1020c8"/>
<rect x="374" y="177.40" width="29" height="9.70" fill="#0040f0"/>
<rect x="374" y="168.00" width="29" height="9.70" fill="#0078f8"/>
<rect x="374" y="158.60" width="29" height="9.70" fill="#00b8f8"/>
<rect x="374" y="149.20" width="29" height="9.70" fill="#00d8d8"/>
<rect x="374" y="139.80" width="29" height="9.70" fill="#10f0a8"/>
<rect x="374" y="130.40" width="29" height="9.70" fill="#50f080"/>
<rect x="374" y="121.00" width="29" height="9.70" fill="#a0f000"/>
<rect x="374" y="111.60" width="29" height="9.70" fill="#c8f800"/>
<rect x="374" y="102.20" width="29" height="9.70" fill="#ffff00"/>
<rect x="374" y="92.80" width="29" height="9.70" fill="#ffd800"/>
<rect x="374" y="83.40" width="29" height="9.70" fill="#ffa800"/>
<rect x="374" y="74.00" width="29" height="9.70" fill="#e07828"/>
<rect x="374" y="64.60" width="29" height="9.70" fill="#c84848"/>
<rect x="374" y="55.20" width="29" height="9.70" fill="#d82c60"/>
<rect x="374" y="45.80" width="29" height="9.70" fill="#ff0060"/>
<rect x="374" y="36.40" width="29" height="9.70" fill="#f030a8"/>
<rect x="374" y="27.00" width="29" height="9.70" fill="#f860f8"/>
<rect x="374.5" y="27.5" width="28" height="188" fill="none" stroke="#000"/>
<line x1="395" y1="50.5" x2="402" y2="50.5" stroke="#000" stroke-width="1"/>
<line x1="395" y1="74.5" x2="402" y2="74.5" stroke="#000" stroke-width="1"/>
<line x1="395" y1="98.5" x2="402" y2="98.5" stroke="#000" stroke-width="1"/>
<line x1="395" y1="121.5" x2="402" y2="121.5" stroke="#000" stroke-width="1"/>
<line x1="395" y1="144.5" x2="402" y2="144.5" stroke="#000" stroke-width="1"/>
<line x1="395" y1="168.5" x2="402" y2="168.5" stroke="#000" stroke-width="1"/>
<line x1="395" y1="192.5" x2="402" y2="192.5" stroke="#000" stroke-width="1"/>
<text x="413.00" y="29.00" font-size="13.0" textLength="30.00" lengthAdjust="spacingAndGlyphs">200.0</text>
<text x="413.00" y="52.50" font-size="13.0" textLength="30.00" lengthAdjust="spacingAndGlyphs">150.0</text>
<text x="413.00" y="76.00" font-size="13.0" textLength="30.00" lengthAdjust="spacingAndGlyphs">100.0</text>
<text x="419.00" y="99.50" font-size="13.0" textLength="24.00" lengthAdjust="spacingAndGlyphs">50.0</text>
<text x="425.00" y="123.00" font-size="13.0" textLength="18.00" lengthAdjust="spacingAndGlyphs">0.0</text>
<text x="413.00" y="146.50" font-size="13.0" textLength="30.00" lengthAdjust="spacingAndGlyphs">-50.0</text>
<text x="407.00" y="170.00" font-size="13.0" textLength="36.00" lengthAdjust="spacingAndGlyphs">-100.0</text>
<text x="407.00" y="193.50" font-size="13.0" textLength="36.00" lengthAdjust="spacingAndGlyphs">-150.0</text>
<text x="407.00" y="217.00" font-size="13.0" textLength="36.00" lengthAdjust="spacingAndGlyphs">-200.0</text>
<clipPath id="c1"><rect x="550" y="27" width="264" height="188"/></clipPath>
<g clip-path="url(#c1)">
<path fill="#1c0838" fill-rule="evenodd" d="M546.3 25.5L636.1 25.5L636 149.5L635.3 153.5L634.2 155.5L632.5 157.2L630.5 158.3L628.5 158.6L614.5 159.5L613.4 160.5L611.2 165.5L607.5 167.2L546.5 167.2Z"/>
<path fill="#4c0890" fill-rule="evenodd" d="M546.3 25.5L635.2 25.5L635.6 35.5L635.7 98.5L635.2 148.5L634.5 153.1L633.5 154.7L631.5 156.4L628.5 157.2L614.5 157.6L612.2 159.5L609.7 164.5L607 165.5L579.5 165.7L563.5 163.8L546.5 163.8Z"/>
<path fill="#1020c8" fill-rule="evenodd" d="M546.4 25.5L633.7 25.5L634.7 35.5L634 66.5L634.7 75.5L634.9 98.5L633.6 147.5L633.1 150.5L631.7 152.5L630.5 153L627.5 152.9L616.5 152.8L612.6 153.5L609.5 155.5L606.5 160L603.5 161.1L580.5 162L563.5 158.7L546.5 158.7Z"/>
<path fill="#0040f0" fill-rule="evenodd" d="M546.4 25.5L632.4 25.5L633.7 35.5L632.9 66.5L633.7 75.5L634 98.5L632.3 144.5L631.5 148.8L630.5 149.6L626.5 149.6L616.5 149.6L612.5 150.1L608.5 152.1L603.1 157.5L587.5 159L579.5 158.9L571.5 156.3L563.5 154.5L546.5 154.5Z"/>
<path fill="#0078f8" fill-rule="evenodd" d="M546.4 25.5L631.2 25.5L632.9 35.5L631.8 66.5L632.8 74.5L633.1 83.5L633.1 98.5L631.8 131.5L630.5 145L629.5 146.1L628.5 146.3L624.5 146.3L615.5 146.4L611.5 147L606.5 149.5L601.5 154.2L587.5 156.1L579.5 156L572.5 153.3L563.5 151.3L546.5 151.3ZM564.5 63L563.5 65L563.1 67.5L564.5 71L571.5 71L572.9 67.5L572.5 64.9L571.5 63Z"/>
<path fill="#00b8f8" fill-rule="evenodd" d="M546.4 25.5L630 25.5L632.1 35.5L630.8 66.5L632.1 74.5L632.4 83.5L632.4 98.5L630.8 122.5L630.7 131.5L629.3 141.5L628.5 142.6L627.5 143L623.5 143.1L614.5 143.2L610.5 143.9L605.5 146.2L599.5 151L587.5 153.3L579.5 153.1L572.5 150.6L563.5 148.4L546.5 148.4ZM564.5 55L563.5 56.9L561.1 66.5L563 76.5L564.5 79L571.5 79L573 76.5L574.9 67.5L573.5 59.5L571.5 55Z"/>
<path fill="#00d8d8" fill-rule="evenodd" d="M546.4 25.5L628.9 25.5L631.3 35.5L629.7 66.5L631.4 75.5L631.7 99.5L629.1 135.5L628.5 137.9L627.5 139.3L623.5 139.8L614.5 139.9L609.5 140.8L604.5 143L598.5 147.6L587.5 150.4L579.5 150.2L563.5 145.2L546.5 145.2ZM571.5 39.3L569.5 40.8L567.1 44.5L564.5 46.7L563.5 48.3L559.1 66.5L560 75.5L560 82.5L560.5 83.5L564.5 87L571.5 87L572.5 86.5L576 82.5L576 75.5L576.9 65.5L576.1 59.5L573.3 50.5L572.9 42.5ZM579.5 103.5L576.5 106.5L576.2 107.5L578.2 115.5L580.5 119.3L582.5 120.8L587.5 126.5L588.5 126.5L592 122.5L592 115.5L589.8 106.5L588.5 103.8L587.5 103L580.5 103Z"/>
<path fill="#10f0a8" fill-rule="evenodd" d="M546.5 25.5L560 25.5L561.9 34.5L562 42.5L557.1 66.5L557.2 75.5L555.6 79.5L552.3 83.5L563.5 94.7L575.5 95L576 95.5L576 98.5L575.5 99.5L569.5 104.8L568.3 106.5L568.3 107.5L572.5 111.8L580.5 127.5L583.5 130.5L585.5 131.6L588.5 132.2L592.5 130.5L599.5 123.9L600 122.5L600 115.5L595.5 110.2L594.2 107.5L592.2 99.5L588.5 95.5L587.5 95L576.5 95L576 94.5L576 91.5L576.5 90.5L582.2 85.5L583.7 83.5L583.5 82.5L579.9 78.5L578.8 75.5L578.7 59.5L575.9 50.5L573.4 34.5L574.1 30.5L576 25.5L595.5 25.5L627.7 25.5L630.5 35.5L628.7 66.5L630.6 75.5L630.9 99.5L628.7 122.5L628.6 131.5L628 134.5L626.9 136.5L625.5 137.1L613.5 137.4L607.5 138.2L604.5 139.3L597.5 144.9L587.5 147.6L579.5 147.4L568.5 143.5L567.5 138.5L563.5 135L546.5 135Z"/>
<path fill="#50f080" fill-rule="evenodd" d="M546.5 25.5L552 25.5L552.5 27.5L556.5 31.8L558 35.5L557 58.5L554.2 66.5L554 74.5L553.5 75.8L549.5 80L546.5 81ZM582.7 28.5L588.5 28L604.5 28L609.5 29.1L612.5 30.8L616.8 29.5L626.5 28.1L627.5 28.9L628.5 31.1L629.8 35.5L627.8 66.5L629.8 75.5L630.3 98.5L627.7 122.5L627.5 130.5L626.7 133.5L625.5 134.7L612.5 134.8L611.1 134.5L608.9 132.5L608 130.5L608 115.5L600.5 107.5L600 106.5L600 99.5L591.8 90.5L589.4 81.5L584 74.5L584 67.5L581.8 58.5L578.3 49.5L576.1 35.5L576.6 33.5L578.5 30.4L580.5 28.9ZM546.5 111.5L546.5 111L547.5 111L549.5 111.9L553.8 117.5L558.5 120.8L559.7 122.5L559.7 123.5L558.5 125.2L555.5 127L546.5 127ZM571.1 119.5L571.5 119.3L572.5 120L573.8 122.5L575.5 129.9L576.3 131.5L577.5 132.4L587.5 134.9L595.5 135L598.2 136.5L599.7 138.5L599.7 139.5L598 141.5L595.5 143L587.5 145.3L580.5 145.3L575.2 143.5L574.6 142.5L573.4 136.5L568 130.5L568.3 122.5Z"/>
<path fill="#a0f000" fill-rule="evenodd" d="M585.7 30.5L588.5 30L603.5 30L606.5 30.9L608.5 32.2L610.7 35.5L610.7 42.5L611.5 45.7L612.5 47L615.5 47L616 47.5L616 50.5L617.9 53.5L619.3 59.5L620.5 60.3L623.3 59.5L624 58.5L624 51.5L620.5 47.5L619.5 47L616.5 47L616 46.5L616 35.5L616.8 34.5L623.5 31.2L626.5 30.3L627.5 31.1L629 35.5L626.6 66.5L628.9 74.5L629.6 85.5L629.5 99.5L627.5 115.3L626.5 119L620.5 119L619.1 118.5L616.9 116.5L614.5 112.8L607.6 106.5L606.5 104.5L605.2 98.5L603.5 94.5L597.1 88.5L594.6 84.5L592.6 76.5L590.5 72.5L588.9 65.5L586.2 59.5L584.5 52.1L580.5 47.7L579.5 45.1L579 42.5L579 34.5L580.7 32.5ZM546.5 31.5L546.5 31L548.5 31.5L552 35.5L552 58.5L550.1 66.5L550 74.5L548.5 76.5L546.5 77ZM579.3 137.5L580.5 137.1L587.5 137.6L590.9 138.5L591.5 139.5L589.5 141.5L587.5 142.8L580.5 142.8L579.5 142.2L578.2 139.5L578.3 138.5Z"/>
<path fill="#c8f800" fill-rule="evenodd" d="M586.5 32.5L588.5 32L603.5 32L607.5 34.4L608 35.5L608.1 43.5L609.8 50.5L614.8 54.5L618.5 61.5L622.6 64.5L626.5 69.9L628.3 75.5L628.9 83.5L628.9 98.5L626.5 110.1L625.5 109.2L623 106.5L620.5 105.2L612.5 105L611.4 104.5L608.5 100.3L605.6 90.5L600.8 86.5L598.3 83.5L598 75.5L597.5 74.4L593.6 70.5L592.2 67.5L590 58.5L590 51.5L588.6 49.5L583.9 45.5L582 42.5L582 35.5L582.7 34.5ZM624.3 33.5L626.5 32.5L627.5 33.2L628 34.5L627.5 42.4L626.5 45.5L623.8 42.5L622.4 37.5L622.1 35.5Z"/>
<path fill="#ffff00" fill-rule="evenodd" d="M586.9 34.5L588.5 34L603.5 34L604.7 34.5L605.3 35.5L605.5 45.7L606.5 52.1L607.8 53.5L611.5 54.9L613.5 56.5L617.2 63.5L620.9 66.5L623.5 70.5L626.5 72.9L627.5 75.3L628.1 83.5L628.1 98.5L626.9 103.5L626.5 104.2L619.5 101L612.5 101L611 99.5L610.1 91.5L609.1 88.5L607.4 86.5L603.5 84.5L602.5 83.5L602 82.5L602 75.5L601.1 72.5L599.5 70.6L596.5 69.1L595 67.5L594.1 59.5L593.9 50.5L592.4 47.5L590.5 45.9L587.5 44.5L586 42.5L586 35.5ZM626.2 35.5L626.5 35.1L626.7 35.5L626.5 36.2Z"/>
<path fill="#ffd800" fill-rule="evenodd" d="M608.9 58.5L611.5 57.8L612.5 58.3L614.6 65.5L617.5 69.2L626.5 78.1L627.3 83.5L627.2 98.5L626.5 100.2L623.7 98.5L622.2 96.5L616.9 92.5L616 90.5L615.7 82.5L614.2 80.5L610.5 78.1L608.3 75.5L608 59.5Z"/>
<path fill="none" stroke="#000" stroke-width="1.0" shape-rendering="crispEdges" d="M546.3 25.5L636.1 25.5L636 149.5L635.3 153.5L634.2 155.5L632.5 157.2L630.5 158.3L628.5 158.6L614.5 159.5L613.4 160.5L611.2 165.5L607.5 167.2L546.5 167.2ZM546.3 25.5L635.2 25.5L635.6 35.5L635.7 98.5L635.2 148.5L634.5 153.1L633.5 154.7L631.5 156.4L628.5 157.2L614.5 157.6L612.2 159.5L609.7 164.5L607 165.5L579.5 165.7L563.5 163.8L546.5 163.8ZM546.4 25.5L633.7 25.5L634.7 35.5L634 66.5L634.7 75.5L634.9 98.5L633.6 147.5L633.1 150.5L631.7 152.5L630.5 153L627.5 152.9L616.5 152.8L612.6 153.5L609.5 155.5L606.5 160L603.5 161.1L580.5 162L563.5 158.7L546.5 158.7ZM546.4 25.5L632.4 25.5L633.7 35.5L632.9 66.5L633.7 75.5L634 98.5L632.3 144.5L631.5 148.8L630.5 149.6L626.5 149.6L616.5 149.6L612.5 150.1L608.5 152.1L603.1 157.5L587.5 159L579.5 158.9L571.5 156.3L563.5 154.5L546.5 154.5ZM546.4 25.5L631.2 25.5L632.9 35.5L631.8 66.5L632.8 74.5L633.1 83.5L633.1 98.5L631.8 131.5L630.5 145L629.5 146.1L628.5 146.3L624.5 146.3L615.5 146.4L611.5 147L606.5 149.5L601.5 154.2L587.5 156.1L579.5 156L572.5 153.3L563.5 151.3L546.5 151.3ZM564.5 63L563.5 65L563.1 67.5L564.5 71L571.5 71L572.9 67.5L572.5 64.9L571.5 63ZM546.4 25.5L630 25.5L632.1 35.5L630.8 66.5L632.1 74.5L632.4 83.5L632.4 98.5L630.8 122.5L630.7 131.5L629.3 141.5L628.5 142.6L627.5 143L623.5 143.1L614.5 143.2L610.5 143.9L605.5 146.2L599.5 151L587.5 153.3L579.5 153.1L572.5 150.6L563.5 148.4L546.5 148.4ZM564.5 55L563.5 56.9L561.1 66.5L563 76.5L564.5 79L571.5 79L573 76.5L574.9 67.5L573.5 59.5L571.5 55ZM546.4 25.5L628.9 25.5L631.3 35.5L629.7 66.5L631.4 75.5L631.7 99.5L629.1 135.5L628.5 137.9L627.5 139.3L623.5 139.8L614.5 139.9L609.5 140.8L604.5 143L598.5 147.6L587.5 150.4L579.5 150.2L563.5 145.2L546.5 145.2ZM571.5 39.3L569.5 40.8L567.1 44.5L564.5 46.7L563.5 48.3L559.1 66.5L560 75.5L560 82.5L560.5 83.5L564.5 87L571.5 87L572.5 86.5L576 82.5L576 75.5L576.9 65.5L576.1 59.5L573.3 50.5L572.9 42.5ZM579.5 103.5L576.5 106.5L576.2 107.5L578.2 115.5L580.5 119.3L582.5 120.8L587.5 126.5L588.5 126.5L592 122.5L592 115.5L589.8 106.5L588.5 103.8L587.5 103L580.5 103ZM546.5 25.5L560 25.5L561.9 34.5L562 42.5L557.1 66.5L557.2 75.5L555.6 79.5L552.3 83.5L563.5 94.7L575.5 95L576 95.5L576 98.5L575.5 99.5L569.5 104.8L568.3 106.5L568.3 107.5L572.5 111.8L580.5 127.5L583.5 130.5L585.5 131.6L588.5 132.2L592.5 130.5L599.5 123.9L600 122.5L600 115.5L595.5 110.2L594.2 107.5L592.2 99.5L588.5 95.5L587.5 95L576.5 95L576 94.5L576 91.5L576.5 90.5L582.2 85.5L583.7 83.5L583.5 82.5L579.9 78.5L578.8 75.5L578.7 59.5L575.9 50.5L573.4 34.5L574.1 30.5L576 25.5L595.5 25.5L627.7 25.5L630.5 35.5L628.7 66.5L630.6 75.5L630.9 99.5L628.7 122.5L628.6 131.5L628 134.5L626.9 136.5L625.5 137.1L613.5 137.4L607.5 138.2L604.5 139.3L597.5 144.9L587.5 147.6L579.5 147.4L568.5 143.5L567.5 138.5L563.5 135L546.5 135ZM546.5 25.5L552 25.5L552.5 27.5L556.5 31.8L558 35.5L557 58.5L554.2 66.5L554 74.5L553.5 75.8L549.5 80L546.5 81ZM582.7 28.5L588.5 28L604.5 28L609.5 29.1L612.5 30.8L616.8 29.5L626.5 28.1L627.5 28.9L628.5 31.1L629.8 35.5L627.8 66.5L629.8 75.5L630.3 98.5L627.7 122.5L627.5 130.5L626.7 133.5L625.5 134.7L612.5 134.8L611.1 134.5L608.9 132.5L608 130.5L608 115.5L600.5 107.5L600 106.5L600 99.5L591.8 90.5L589.4 81.5L584 74.5L584 67.5L581.8 58.5L578.3 49.5L576.1 35.5L576.6 33.5L578.5 30.4L580.5 28.9ZM546.5 111.5L546.5 111L547.5 111L549.5 111.9L553.8 117.5L558.5 120.8L559.7 122.5L559.7 123.5L558.5 125.2L555.5 127L546.5 127ZM571.1 119.5L571.5 119.3L572.5 120L573.8 122.5L575.5 129.9L576.3 131.5L577.5 132.4L587.5 134.9L595.5 135L598.2 136.5L599.7 138.5L599.7 139.5L598 141.5L595.5 143L587.5 145.3L580.5 145.3L575.2 143.5L574.6 142.5L573.4 136.5L568 130.5L568.3 122.5ZM585.7 30.5L588.5 30L603.5 30L606.5 30.9L608.5 32.2L610.7 35.5L610.7 42.5L611.5 45.7L612.5 47L615.5 47L616 47.5L616 50.5L617.9 53.5L619.3 59.5L620.5 60.3L623.3 59.5L624 58.5L624 51.5L620.5 47.5L619.5 47L616.5 47L616 46.5L616 35.5L616.8 34.5L623.5 31.2L626.5 30.3L627.5 31.1L629 35.5L626.6 66.5L628.9 74.5L629.6 85.5L629.5 99.5L627.5 115.3L626.5 119L620.5 119L619.1 118.5L616.9 116.5L614.5 112.8L607.6 106.5L606.5 104.5L605.2 98.5L603.5 94.5L597.1 88.5L594.6 84.5L592.6 76.5L590.5 72.5L588.9 65.5L586.2 59.5L584.5 52.1L580.5 47.7L579.5 45.1L579 42.5L579 34.5L580.7 32.5ZM546.5 31.5L546.5 31L548.5 31.5L552 35.5L552 58.5L550.1 66.5L550 74.5L548.5 76.5L546.5 77ZM579.3 137.5L580.5 137.1L587.5 137.6L590.9 138.5L591.5 139.5L589.5 141.5L587.5 142.8L580.5 142.8L579.5 142.2L578.2 139.5L578.3 138.5ZM586.5 32.5L588.5 32L603.5 32L607.5 34.4L608 35.5L608.1 43.5L609.8 50.5L614.8 54.5L618.5 61.5L622.6 64.5L626.5 69.9L628.3 75.5L628.9 83.5L628.9 98.5L626.5 110.1L625.5 109.2L623 106.5L620.5 105.2L612.5 105L611.4 104.5L608.5 100.3L605.6 90.5L600.8 86.5L598.3 83.5L598 75.5L597.5 74.4L593.6 70.5L592.2 67.5L590 58.5L590 51.5L588.6 49.5L583.9 45.5L582 42.5L582 35.5L582.7 34.5ZM624.3 33.5L626.5 32.5L627.5 33.2L628 34.5L627.5 42.4L626.5 45.5L623.8 42.5L622.4 37.5L622.1 35.5ZM586.9 34.5L588.5 34L603.5 34L604.7 34.5L605.3 35.5L605.5 45.7L606.5 52.1L607.8 53.5L611.5 54.9L613.5 56.5L617.2 63.5L620.9 66.5L623.5 70.5L626.5 72.9L627.5 75.3L628.1 83.5L628.1 98.5L626.9 103.5L626.5 104.2L619.5 101L612.5 101L611 99.5L610.1 91.5L609.1 88.5L607.4 86.5L603.5 84.5L602.5 83.5L602 82.5L602 75.5L601.1 72.5L599.5 70.6L596.5 69.1L595 67.5L594.1 59.5L593.9 50.5L592.4 47.5L590.5 45.9L587.5 44.5L586 42.5L586 35.5ZM626.2 35.5L626.5 35.1L626.7 35.5L626.5 36.2ZM608.9 58.5L611.5 57.8L612.5 58.3L614.6 65.5L617.5 69.2L626.5 78.1L627.3 83.5L627.2 98.5L626.5 100.2L623.7 98.5L622.2 96.5L616.9 92.5L616 90.5L615.7 82.5L614.2 80.5L610.5 78.1L608.3 75.5L608 59.5Z"/>
<path fill="#1c0838" fill-rule="evenodd" d="M710.8 59.5L713.5 58.6L738.5 58.7L741.5 60.3L743 62.5L743.1 160.5L742.3 162.5L740.5 163.9L736.5 164L734.5 162.8L731.5 160.3L722.5 160.2L720.5 161.3L719 164.5L717.5 166.3L714.5 167.2L711.5 167.1L709.5 166.2L708.2 163.5L707.9 64.5L708.8 61.5Z"/>
<path fill="#4c0890" fill-rule="evenodd" d="M710.5 60.5L714.5 59.7L736.5 59.7L740.5 60.5L742.5 63.5L742.2 156.5L741.5 160.4L740.5 161.3L737.5 161.4L735.5 160.1L733.5 158.2L731.5 157.5L721.5 158.4L719.5 159.6L716.5 164.7L713.5 165.4L711.5 165.4L709.7 164.5L708.7 161.5L708.4 66.5L708.7 63.5L709.5 61.5Z"/>
<path fill="#1020c8" fill-rule="evenodd" d="M710.8 63.5L712.5 63.1L737.5 63.2L739.5 63.6L740.9 65.5L741.3 71.5L741.3 129.5L740.6 147.5L739.5 154.4L738.5 154.9L733.5 152.6L730.5 152.4L720.5 153.6L716.5 155.5L712.5 160.2L711.5 160.2L710.1 158.5L708.9 142.5L708.6 88.5L709.1 69.5L709.6 65.5Z"/>
<path fill="#0040f0" fill-rule="evenodd" d="M711 66.5L712.5 65.8L736.5 65.8L738.5 66.2L739.5 67.5L740.1 77.5L740.1 129.5L739.6 142.5L738.4 148.5L737.5 149.3L733.5 148.8L730.5 148.7L725.5 149.8L718.5 150.5L715.5 151.9L712.5 154.3L711.5 154.4L710.5 151.6L709.6 141.5L709 88.5L709.7 71.5Z"/>
<path fill="#0078f8" fill-rule="evenodd" d="M712.2 68.5L735.5 68.3L737.5 68.8L738.5 70.3L739 76.5L738.9 130.5L737.9 143.5L736.5 145.7L734.5 145.8L731.5 145.5L725.5 146.9L719.5 147.3L712.5 149.3L711.2 147.5L710.3 141.5L709.5 88.5L710.3 72.5L711.1 69.5Z"/>
<path fill="#00b8f8" fill-rule="evenodd" d="M713.2 70.5L734.5 70.6L736.5 71.3L737.5 73.2L737.8 130.5L736.5 141.5L735.5 142.6L732.5 142.7L725.5 144.2L718.5 144.7L713.5 145.9L712.5 145.8L711.5 144.1L710.8 136.5L709.9 88.5L710.8 74.5L711.5 71.7Z"/>
<path fill="#00d8d8" fill-rule="evenodd" d="M713.7 72.5L732.5 72.6L735.5 73.5L736.4 75.5L736.7 130.5L735.3 138.5L734.5 139.6L730.5 140.4L725.5 141.9L719.5 142.1L713.5 143.1L712.5 142.4L712.2 141.5L711.4 134.5L710.4 88.5L711.4 75.5L712.5 73Z"/>
<path fill="#10f0a8" fill-rule="evenodd" d="M713.8 74.5L731.5 74.4L734.5 75.5L735.5 77.5L735.6 129.5L734.5 135.6L732.5 137.6L724.5 140.2L714.5 140.1L713.5 139.7L712.5 137.5L711.4 118.5L710.8 88.5L712.1 76.5L712.5 75.4Z"/>
<path fill="#50f080" fill-rule="evenodd" d="M714.1 76.5L730.5 76.2L732.5 76.8L734.2 78.5L734.9 85.5L734.5 112.5L733.5 117.1L731.5 115.3L730.5 115.3L728.5 117.1L728.2 118.5L730.5 126.2L731.5 126.7L733.5 124.9L734.3 130.5L733.5 133.5L732.5 134.8L725.5 138.4L715.5 137.4L714.5 137.1L713.5 135.8L711.9 118.5L711.2 88.5L712.5 78.9Z"/>
<path fill="#a0f000" fill-rule="evenodd" d="M715.4 78.5L730.5 78.4L732.5 79.3L733.6 81.5L733.5 94.9L729.5 98L727 101.5L722.5 105.5L722 106.5L722 111.5L721 113.5L716.5 117.1L716 120.5L715.5 121L713.5 121L712.5 119.5L711.6 99.5L711.7 87.5L713.5 79.7ZM716 121.5L716.5 121L724.5 121L725.5 121.8L729.1 133.5L727.9 135.5L724.5 137L716 134.5Z"/>
<path fill="#c8f800" fill-rule="evenodd" d="M713 84.5L713.5 83.6L718.5 84.8L721 86.5L722 88.5L722 99.5L717.5 104.5L713.5 108.7L712.5 107.6L712 88.5ZM724.1 133.5L724.9 133.5L725.2 134.5L724 134.5Z"/>
<path fill="#ffff00" fill-rule="evenodd" d="M712.8 87.5L713.5 86.7L716 88.5L716 99.5L714.5 101.5L713.5 102.5L712.5 101.4L712.5 88.5Z"/>
<path fill="none" stroke="#000" stroke-width="1.0" shape-rendering="crispEdges" d="M710.8 59.5L713.5 58.6L738.5 58.7L741.5 60.3L743 62.5L743.1 160.5L742.3 162.5L740.5 163.9L736.5 164L734.5 162.8L731.5 160.3L722.5 160.2L720.5 161.3L719 164.5L717.5 166.3L714.5 167.2L711.5 167.1L709.5 166.2L708.2 163.5L707.9 64.5L708.8 61.5ZM710.5 60.5L714.5 59.7L736.5 59.7L740.5 60.5L742.5 63.5L742.2 156.5L741.5 160.4L740.5 161.3L737.5 161.4L735.5 160.1L733.5 158.2L731.5 157.5L721.5 158.4L719.5 159.6L716.5 164.7L713.5 165.4L711.5 165.4L709.7 164.5L708.7 161.5L708.4 66.5L708.7 63.5L709.5 61.5ZM710.8 63.5L712.5 63.1L737.5 63.2L739.5 63.6L740.9 65.5L741.3 71.5L741.3 129.5L740.6 147.5L739.5 154.4L738.5 154.9L733.5 152.6L730.5 152.4L720.5 153.6L716.5 155.5L712.5 160.2L711.5 160.2L710.1 158.5L708.9 142.5L708.6 88.5L709.1 69.5L709.6 65.5ZM711 66.5L712.5 65.8L736.5 65.8L738.5 66.2L739.5 67.5L740.1 77.5L740.1 129.5L739.6 142.5L738.4 148.5L737.5 149.3L733.5 148.8L730.5 148.7L725.5 149.8L718.5 150.5L715.5 151.9L712.5 154.3L711.5 154.4L710.5 151.6L709.6 141.5L709 88.5L709.7 71.5ZM712.2 68.5L735.5 68.3L737.5 68.8L738.5 70.3L739 76.5L738.9 130.5L737.9 143.5L736.5 145.7L734.5 145.8L731.5 145.5L725.5 146.9L719.5 147.3L712.5 149.3L711.2 147.5L710.3 141.5L709.5 88.5L710.3 72.5L711.1 69.5ZM713.2 70.5L734.5 70.6L736.5 71.3L737.5 73.2L737.8 130.5L736.5 141.5L735.5 142.6L732.5 142.7L725.5 144.2L718.5 144.7L713.5 145.9L712.5 145.8L711.5 144.1L710.8 136.5L709.9 88.5L710.8 74.5L711.5 71.7ZM713.7 72.5L732.5 72.6L735.5 73.5L736.4 75.5L736.7 130.5L735.3 138.5L734.5 139.6L730.5 140.4L725.5 141.9L719.5 142.1L713.5 143.1L712.5 142.4L712.2 141.5L711.4 134.5L710.4 88.5L711.4 75.5L712.5 73ZM713.8 74.5L731.5 74.4L734.5 75.5L735.5 77.5L735.6 129.5L734.5 135.6L732.5 137.6L724.5 140.2L714.5 140.1L713.5 139.7L712.5 137.5L711.4 118.5L710.8 88.5L712.1 76.5L712.5 75.4ZM714.1 76.5L730.5 76.2L732.5 76.8L734.2 78.5L734.9 85.5L734.5 112.5L733.5 117.1L731.5 115.3L730.5 115.3L728.5 117.1L728.2 118.5L730.5 126.2L731.5 126.7L733.5 124.9L734.3 130.5L733.5 133.5L732.5 134.8L725.5 138.4L715.5 137.4L714.5 137.1L713.5 135.8L711.9 118.5L711.2 88.5L712.5 78.9ZM715.4 78.5L730.5 78.4L732.5 79.3L733.6 81.5L733.5 94.9L729.5 98L727 101.5L722.5 105.5L722 106.5L722 111.5L721 113.5L716.5 117.1L716 120.5L715.5 121L713.5 121L712.5 119.5L711.6 99.5L711.7 87.5L713.5 79.7ZM716 121.5L716.5 121L724.5 121L725.5 121.8L729.1 133.5L727.9 135.5L724.5 137L716 134.5ZM713 84.5L713.5 83.6L718.5 84.8L721 86.5L722 88.5L722 99.5L717.5 104.5L713.5 108.7L712.5 107.6L712 88.5ZM724.1 133.5L724.9 133.5L725.2 134.5L724 134.5ZM712.8 87.5L713.5 86.7L716 88.5L716 99.5L714.5 101.5L713.5 102.5L712.5 101.4L712.5 88.5Z"/>
<path fill="#1c0838" fill-rule="evenodd" d="M788.9 25.5L817.6 25.5L817.5 173.5L817.5 174.5L813.5 174.5L790.5 174.1L788.5 173.2L785.7 170.5L783.8 166.5L783.7 65.5L784.8 61.5L788.5 57.8L788.9 56.5Z"/>
<path fill="#4c0890" fill-rule="evenodd" d="M790.2 25.5L817.6 25.5L817.5 173.8L810.5 173.9L791.5 173.7L786.5 170.7L784.3 166.5L784.2 125.5L785.7 98.5L785.7 65.5L786.6 62.5L788.5 60.7L790.7 59.5L791.6 58.5L791.7 57.5L790.2 52.5Z"/>
<path fill="#1020c8" fill-rule="evenodd" d="M792 25.5L817.6 25.5L817.5 172.2L808.5 172.6L793.5 172.5L790.5 172.1L788.5 171.2L786.5 169.3L784.7 164.5L784.8 130.5L785.5 120.5L787.2 114.5L788.6 99.5L788.7 66.5L789.5 64.1L793.7 61.5L795.3 58.5L795.1 56.5L792.5 52.5L792.1 50.5Z"/>
<path fill="#0040f0" fill-rule="evenodd" d="M793.7 25.5L817.6 25.5L817.5 169.9L806.5 170.3L792.5 170.4L789.5 169.9L786.8 167.5L785.6 163.5L786 125.5L786.5 120.5L789.1 114.5L791.1 99.5L791.3 67.5L792.4 65.5L796.5 62.5L798 58.5L797.5 55.3L794.5 51.1L793.8 48.5Z"/>
<path fill="#0078f8" fill-rule="evenodd" d="M795.3 25.5L817.5 25.5L817.5 168.2L804.5 168.7L789.5 168.5L787.3 166.5L786.3 162.5L786.2 138.5L786.8 125.5L787.5 121.1L791 114.5L793.3 99.5L793.9 69.5L794.8 67.5L798.8 63.5L800 59.5L799.9 56.5L799.2 53.5L796.4 49.5L795.5 47.3Z"/>
<path fill="#00b8f8" fill-rule="evenodd" d="M796.9 25.5L817.5 25.5L817.5 166.5L803.5 167.1L789.5 167.1L787.5 165L786.9 161.5L786.9 138.5L787.8 124.5L788.5 121.7L791.6 117.5L792.7 114.5L796.3 90.5L796.6 70.5L800.5 65.5L801.8 60.5L801.2 53.5L797.5 46.6L797 44.5Z"/>
<path fill="#00d8d8" fill-rule="evenodd" d="M807.6 29.5L810.5 29L817.5 29L817.5 164.8L809.5 165.6L791.5 165.9L789.5 165.6L788.5 164.8L787.6 161.5L787.5 139.5L788.2 127.5L789.4 122.5L792.5 118.8L793.5 116.5L797.5 95.9L807 82.5L807 67.5L806.3 65.5L804 62.5L803.2 54.5L801.2 48.5L801 35.5L801.7 33.5L803.3 31.5Z"/>
<path fill="#10f0a8" fill-rule="evenodd" d="M809.1 33.5L810.5 33L817.5 33L817.5 63L816.5 63L814.4 61.5L811.6 56.5L808.5 53.7L807.2 51.5L807 35.5ZM815.3 79.5L817.5 79L817.5 163.1L809.5 164L791.5 164.3L789.2 163.5L788.2 159.5L788.2 138.5L788.6 130.5L789.5 124.8L794.1 118.5L797.5 104.2L798.5 102.3L809.5 87.7L811.6 85.5Z"/>
<path fill="#50f080" fill-rule="evenodd" d="M809.8 95.5L810.5 95L817.5 95L817.5 161.4L809.5 162.5L797.5 162.5L790.5 162.5L789.2 160.5L788.8 139.5L789.7 127.5L790.8 124.5L795 119.5L797.5 109.8L801.4 106.5Z"/>
<path fill="#a0f000" fill-rule="evenodd" d="M809.8 103.5L810.5 103L817.5 103L817.5 159.7L809.5 160.9L797.5 160.9L791.5 160.9L790.5 160.3L789.8 158.5L789.4 139.5L790.5 127.7L791.5 125.3L796 120.5L797.5 113.9L798.5 112.9L803.5 111.3Z"/>
<path fill="#c8f800" fill-rule="evenodd" d="M813.6 109.5L817.5 109L817.5 158L804.5 159.8L795.5 159.3L791.5 158.9L790.4 156.5L790.1 138.5L791.4 127.5L793.5 125.2L797.5 125L800.4 123.5L809.5 111.7L810.9 110.5Z"/>
<path fill="#ffff00" fill-rule="evenodd" d="M815.1 113.5L817.5 113L817.5 156.3L804.5 158.5L794.5 157.8L792.5 157.5L791.5 156.5L790.9 153.5L790.7 139.5L791.5 130.3L792.5 129L798.5 128.9L802.5 127.8L804.5 126.6L813.6 114.5Z"/>
<path fill="#ffd800" fill-rule="evenodd" d="M792.3 135.5L792.5 135L817.5 135L817.5 151L815.5 151.7L814.1 153.5L812.7 155.5L804.5 157.2L794.5 156.2L792.5 155.4L791.6 152.5L791.4 148.5L791.4 138.5Z"/>
<path fill="#ffa800" fill-rule="evenodd" d="M796.8 141.5L798.5 141L804.5 141.1L808.5 142.2L811.5 144.3L812.8 146.5L812.6 147.5L808.1 153.5L806.5 155.5L803.5 155.9L801.5 155.5L795.4 151.5L794.2 149.5L793.6 146.5L794.7 143.5Z"/>
<path fill="#e07828" fill-rule="evenodd" d="M797.6 145.5L798.5 145L804.5 145.3L806.4 146.5L806.6 147.5L805.1 149.5L803.5 150.7L798.5 149.1L796.8 147.5L796.8 146.5Z"/>
<path fill="none" stroke="#000" stroke-width="1.0" shape-rendering="crispEdges" d="M788.9 25.5L817.6 25.5L817.5 173.5L817.5 174.5L813.5 174.5L790.5 174.1L788.5 173.2L785.7 170.5L783.8 166.5L783.7 65.5L784.8 61.5L788.5 57.8L788.9 56.5ZM790.2 25.5L817.6 25.5L817.5 173.8L810.5 173.9L791.5 173.7L786.5 170.7L784.3 166.5L784.2 125.5L785.7 98.5L785.7 65.5L786.6 62.5L788.5 60.7L790.7 59.5L791.6 58.5L791.7 57.5L790.2 52.5ZM792 25.5L817.6 25.5L817.5 172.2L808.5 172.6L793.5 172.5L790.5 172.1L788.5 171.2L786.5 169.3L784.7 164.5L784.8 130.5L785.5 120.5L787.2 114.5L788.6 99.5L788.7 66.5L789.5 64.1L793.7 61.5L795.3 58.5L795.1 56.5L792.5 52.5L792.1 50.5ZM793.7 25.5L817.6 25.5L817.5 169.9L806.5 170.3L792.5 170.4L789.5 169.9L786.8 167.5L785.6 163.5L786 125.5L786.5 120.5L789.1 114.5L791.1 99.5L791.3 67.5L792.4 65.5L796.5 62.5L798 58.5L797.5 55.3L794.5 51.1L793.8 48.5ZM795.3 25.5L817.5 25.5L817.5 168.2L804.5 168.7L789.5 168.5L787.3 166.5L786.3 162.5L786.2 138.5L786.8 125.5L787.5 121.1L791 114.5L793.3 99.5L793.9 69.5L794.8 67.5L798.8 63.5L800 59.5L799.9 56.5L799.2 53.5L796.4 49.5L795.5 47.3ZM796.9 25.5L817.5 25.5L817.5 166.5L803.5 167.1L789.5 167.1L787.5 165L786.9 161.5L786.9 138.5L787.8 124.5L788.5 121.7L791.6 117.5L792.7 114.5L796.3 90.5L796.6 70.5L800.5 65.5L801.8 60.5L801.2 53.5L797.5 46.6L797 44.5ZM807.6 29.5L810.5 29L817.5 29L817.5 164.8L809.5 165.6L791.5 165.9L789.5 165.6L788.5 164.8L787.6 161.5L787.5 139.5L788.2 127.5L789.4 122.5L792.5 118.8L793.5 116.5L797.5 95.9L807 82.5L807 67.5L806.3 65.5L804 62.5L803.2 54.5L801.2 48.5L801 35.5L801.7 33.5L803.3 31.5ZM809.1 33.5L810.5 33L817.5 33L817.5 63L816.5 63L814.4 61.5L811.6 56.5L808.5 53.7L807.2 51.5L807 35.5ZM815.3 79.5L817.5 79L817.5 163.1L809.5 164L791.5 164.3L789.2 163.5L788.2 159.5L788.2 138.5L788.6 130.5L789.5 124.8L794.1 118.5L797.5 104.2L798.5 102.3L809.5 87.7L811.6 85.5ZM809.8 95.5L810.5 95L817.5 95L817.5 161.4L809.5 162.5L797.5 162.5L790.5 162.5L789.2 160.5L788.8 139.5L789.7 127.5L790.8 124.5L795 119.5L797.5 109.8L801.4 106.5ZM809.8 103.5L810.5 103L817.5 103L817.5 159.7L809.5 160.9L797.5 160.9L791.5 160.9L790.5 160.3L789.8 158.5L789.4 139.5L790.5 127.7L791.5 125.3L796 120.5L797.5 113.9L798.5 112.9L803.5 111.3ZM813.6 109.5L817.5 109L817.5 158L804.5 159.8L795.5 159.3L791.5 158.9L790.4 156.5L790.1 138.5L791.4 127.5L793.5 125.2L797.5 125L800.4 123.5L809.5 111.7L810.9 110.5ZM815.1 113.5L817.5 113L817.5 156.3L804.5 158.5L794.5 157.8L792.5 157.5L791.5 156.5L790.9 153.5L790.7 139.5L791.5 130.3L792.5 129L798.5 128.9L802.5 127.8L804.5 126.6L813.6 114.5ZM792.3 135.5L792.5 135L817.5 135L817.5 151L815.5 151.7L814.1 153.5L812.7 155.5L804.5 157.2L794.5 156.2L792.5 155.4L791.6 152.5L791.4 148.5L791.4 138.5ZM796.8 141.5L798.5 141L804.5 141.1L808.5 142.2L811.5 144.3L812.8 146.5L812.6 147.5L808.1 153.5L806.5 155.5L803.5 155.9L801.5 155.5L795.4 151.5L794.2 149.5L793.6 146.5L794.7 143.5ZM797.6 145.5L798.5 145L804.5 145.3L806.4 146.5L806.6 147.5L805.1 149.5L803.5 150.7L798.5 149.1L796.8 147.5L796.8 146.5Z"/>
</g>
<rect x="547.5" y="26.5" width="269" height="189" fill="none" stroke="#000" stroke-width="1"/>
<line x1="548" y1="212.5" x2="551" y2="212.5" stroke="#000" stroke-width="1"/>
<line x1="816" y1="212.5" x2="813" y2="212.5" stroke="#000" stroke-width="1"/>
<line x1="548" y1="209.5" x2="551" y2="209.5" stroke="#000" stroke-width="1"/>
<line x1="816" y1="209.5" x2="813" y2="209.5" stroke="#000" stroke-width="1"/>
<line x1="548" y1="206.5" x2="551" y2="206.5" stroke="#000" stroke-width="1"/>
<line x1="816" y1="206.5" x2="813" y2="206.5" stroke="#000" stroke-width="1"/>
<line x1="548" y1="202.5" x2="551" y2="202.5" stroke="#000" stroke-width="1"/>
<line x1="816" y1="202.5" x2="813" y2="202.5" stroke="#000" stroke-width="1"/>
<line x1="548" y1="199.5" x2="551" y2="199.5" stroke="#000" stroke-width="1"/>
<line x1="816" y1="199.5" x2="813" y2="199.5" stroke="#000" stroke-width="1"/>
<line x1="548" y1="196.5" x2="551" y2="196.5" stroke="#000" stroke-width="1"/>
<line x1="816" y1="196.5" x2="813" y2="196.5" stroke="#000" stroke-width="1"/>
<line x1="548" y1="193.5" x2="551" y2="193.5" stroke="#000" stroke-width="1"/>
<line x1="816" y1="193.5" x2="813" y2="193.5" stroke="#000" stroke-width="1"/>
<line x1="548" y1="190.5" x2="551" y2="190.5" stroke="#000" stroke-width="1"/>
<line x1="816" y1="190.5" x2="813" y2="190.5" stroke="#000" stroke-width="1"/>
<line x1="548" y1="187.5" x2="551" y2="187.5" stroke="#000" stroke-width="1"/>
<line x1="816" y1="187.5" x2="813" y2="187.5" stroke="#000" stroke-width="1"/>
<line x1="548" y1="184.5" x2="554" y2="184.5" stroke="#000" stroke-width="1"/>
<line x1="816" y1="184.5" x2="810" y2="184.5" stroke="#000" stroke-width="1"/>
<line x1="548" y1="180.5" x2="551" y2="180.5" stroke="#000" stroke-width="1"/>
<line x1="816" y1="180.5" x2="813" y2="180.5" stroke="#000" stroke-width="1"/>
<line x1="548" y1="177.5" x2="551" y2="177.5" stroke="#000" stroke-width="1"/>
<line x1="816" y1="177.5" x2="813" y2="177.5" stroke="#000" stroke-width="1"/>
<line x1="548" y1="174.5" x2="551" y2="174.5" stroke="#000" stroke-width="1"/>
<line x1="816" y1="174.5" x2="813" y2="174.5" stroke="#000" stroke-width="1"/>
<line x1="548" y1="171.5" x2="551" y2="171.5" stroke="#000" stroke-width="1"/>
<line x1="816" y1="171.5" x2="813" y2="171.5" stroke="#000" stroke-width="1"/>
<line x1="548" y1="168.5" x2="551" y2="168.5" stroke="#000" stroke-width="1"/>
<line x1="816" y1="168.5" x2="813" y2="168.5" stroke="#000" stroke-width="1"/>
<line x1="548" y1="165.5" x2="551" y2="165.5" stroke="#000" stroke-width="1"/>
<line x1="816" y1="165.5" x2="813" y2="165.5" stroke="#000" stroke-width="1"/>
<line x1="548" y1="161.5" x2="551" y2="161.5" stroke="#000" stroke-width="1"/>
<line x1="816" y1="161.5" x2="813" y2="161.5" stroke="#000" stroke-width="1"/>
<line x1="548" y1="158.5" x2="551" y2="158.5" stroke="#000" stroke-width="1"/>
<line x1="816" y1="158.5" x2="813" y2="158.5" stroke="#000" stroke-width="1"/>
<line x1="548" y1="155.5" x2="551" y2="155.5" stroke="#000" stroke-width="1"/>
<line x1="816" y1="155.5" x2="813" y2="155.5" stroke="#000" stroke-width="1"/>
<line x1="548" y1="152.5" x2="554" y2="152.5" stroke="#000" stroke-width="1"/>
<line x1="816" y1="152.5" x2="810" y2="152.5" stroke="#000" stroke-width="1"/>
<line x1="548" y1="149.5" x2="551" y2="149.5" stroke="#000" stroke-width="1"/>
<line x1="816" y1="149.5" x2="813" y2="149.5" stroke="#000" stroke-width="1"/>
<line x1="548" y1="146.5" x2="551" y2="146.5" stroke="#000" stroke-width="1"/>
<line x1="816" y1="146.5" x2="813" y2="146.5" stroke="#000" stroke-width="1"/>
<line x1="548" y1="143.5" x2="551" y2="143.5" stroke="#000" stroke-width="1"/>
<line x1="816" y1="143.5" x2="813" y2="143.5" stroke="#000" stroke-width="1"/>
<line x1="548" y1="139.5" x2="551" y2="139.5" stroke="#000" stroke-width="1"/>
<line x1="816" y1="139.5" x2="813" y2="139.5" stroke="#000" stroke-width="1"/>
<line x1="548" y1="136.5" x2="551" y2="136.5" stroke="#000" stroke-width="1"/>
<line x1="816" y1="136.5" x2="813" y2="136.5" stroke="#000" stroke-width="1"/>
<line x1="548" y1="133.5" x2="551" y2="133.5" stroke="#000" stroke-width="1"/>
<line x1="816" y1="133.5" x2="813" y2="133.5" stroke="#000" stroke-width="1"/>
<line x1="548" y1="130.5" x2="551" y2="130.5" stroke="#000" stroke-width="1"/>
<line x1="816" y1="130.5" x2="813" y2="130.5" stroke="#000" stroke-width="1"/>
<line x1="548" y1="127.5" x2="551" y2="127.5" stroke="#000" stroke-width="1"/>
<line x1="816" y1="127.5" x2="813" y2="127.5" stroke="#000" stroke-width="1"/>
<line x1="548" y1="124.5" x2="551" y2="124.5" stroke="#000" stroke-width="1"/>
<line x1="816" y1="124.5" x2="813" y2="124.5" stroke="#000" stroke-width="1"/>
<line x1="548" y1="120.5" x2="554" y2="120.5" stroke="#000" stroke-width="1"/>
<line x1="816" y1="120.5" x2="810" y2="120.5" stroke="#000" stroke-width="1"/>
<line x1="548" y1="117.5" x2="551" y2="117.5" stroke="#000" stroke-width="1"/>
<line x1="816" y1="117.5" x2="813" y2="117.5" stroke="#000" stroke-width="1"/>
<line x1="548" y1="114.5" x2="551" y2="114.5" stroke="#000" stroke-width="1"/>
<line x1="816" y1="114.5" x2="813" y2="114.5" stroke="#000" stroke-width="1"/>
<line x1="548" y1="111.5" x2="551" y2="111.5" stroke="#000" stroke-width="1"/>
<line x1="816" y1="111.5" x2="813" y2="111.5" stroke="#000" stroke-width="1"/>
<line x1="548" y1="108.5" x2="551" y2="108.5" stroke="#000" stroke-width="1"/>
<line x1="816" y1="108.5" x2="813" y2="108.5" stroke="#000" stroke-width="1"/>
<line x1="548" y1="105.5" x2="551" y2="105.5" stroke="#000" stroke-width="1"/>
<line x1="816" y1="105.5" x2="813" y2="105.5" stroke="#000" stroke-width="1"/>
<line x1="548" y1="102.5" x2="551" y2="102.5" stroke="#000" stroke-width="1"/>
<line x1="816" y1="102.5" x2="813" y2="102.5" stroke="#000" stroke-width="1"/>
<line x1="548" y1="98.5" x2="551" y2="98.5" stroke="#000" stroke-width="1"/>
<line x1="816" y1="98.5" x2="813" y2="98.5" stroke="#000" stroke-width="1"/>
<line x1="548" y1="95.5" x2="551" y2="95.5" stroke="#000" stroke-width="1"/>
<line x1="816" y1="95.5" x2="813" y2="95.5" stroke="#000" stroke-width="1"/>
<line x1="548" y1="92.5" x2="551" y2="92.5" stroke="#000" stroke-width="1"/>
<line x1="816" y1="92.5" x2="813" y2="92.5" stroke="#000" stroke-width="1"/>
<line x1="548" y1="89.5" x2="554" y2="89.5" stroke="#000" stroke-width="1"/>
<line x1="816" y1="89.5" x2="810" y2="89.5" stroke="#000" stroke-width="1"/>
<line x1="548" y1="86.5" x2="551" y2="86.5" stroke="#000" stroke-width="1"/>
<line x1="816" y1="86.5" x2="813" y2="86.5" stroke="#000" stroke-width="1"/>
<line x1="548" y1="83.5" x2="551" y2="83.5" stroke="#000" stroke-width="1"/>
<line x1="816" y1="83.5" x2="813" y2="83.5" stroke="#000" stroke-width="1"/>
<line x1="548" y1="80.5" x2="551" y2="80.5" stroke="#000" stroke-width="1"/>
<line x1="816" y1="80.5" x2="813" y2="80.5" stroke="#000" stroke-width="1"/>
<line x1="548" y1="76.5" x2="551" y2="76.5" stroke="#000" stroke-width="1"/>
<line x1="816" y1="76.5" x2="813" y2="76.5" stroke="#000" stroke-width="1"/>
<line x1="548" y1="73.5" x2="551" y2="73.5" stroke="#000" stroke-width="1"/>
<line x1="816" y1="73.5" x2="813" y2="73.5" stroke="#000" stroke-width="1"/>
<line x1="548" y1="70.5" x2="551" y2="70.5" stroke="#000" stroke-width="1"/>
<line x1="816" y1="70.5" x2="813" y2="70.5" stroke="#000" stroke-width="1"/>
<line x1="548" y1="67.5" x2="551" y2="67.5" stroke="#000" stroke-width="1"/>
<line x1="816" y1="67.5" x2="813" y2="67.5" stroke="#000" stroke-width="1"/>
<line x1="548" y1="64.5" x2="551" y2="64.5" stroke="#000" stroke-width="1"/>
<line x1="816" y1="64.5" x2="813" y2="64.5" stroke="#000" stroke-width="1"/>
<line x1="548" y1="61.5" x2="551" y2="61.5" stroke="#000" stroke-width="1"/>
<line x1="816" y1="61.5" x2="813" y2="61.5" stroke="#000" stroke-width="1"/>
<line x1="548" y1="58.5" x2="554" y2="58.5" stroke="#000" stroke-width="1"/>
<line x1="816" y1="58.5" x2="810" y2="58.5" stroke="#000" stroke-width="1"/>
<line x1="548" y1="54.5" x2="551" y2="54.5" stroke="#000" stroke-width="1"/>
<line x1="816" y1="54.5" x2="813" y2="54.5" stroke="#000" stroke-width="1"/>
<line x1="548" y1="51.5" x2="551" y2="51.5" stroke="#000" stroke-width="1"/>
<line x1="816" y1="51.5" x2="813" y2="51.5" stroke="#000" stroke-width="1"/>
<line x1="548" y1="48.5" x2="551" y2="48.5" stroke="#000" stroke-width="1"/>
<line x1="816" y1="48.5" x2="813" y2="48.5" stroke="#000" stroke-width="1"/>
<line x1="548" y1="45.5" x2="551" y2="45.5" stroke="#000" stroke-width="1"/>
<line x1="816" y1="45.5" x2="813" y2="45.5" stroke="#000" stroke-width="1"/>
<line x1="548" y1="42.5" x2="551" y2="42.5" stroke="#000" stroke-width="1"/>
<line x1="816" y1="42.5" x2="813" y2="42.5" stroke="#000" stroke-width="1"/>
<line x1="548" y1="39.5" x2="551" y2="39.5" stroke="#000" stroke-width="1"/>
<line x1="816" y1="39.5" x2="813" y2="39.5" stroke="#000" stroke-width="1"/>
<line x1="548" y1="35.5" x2="551" y2="35.5" stroke="#000" stroke-width="1"/>
<line x1="816" y1="35.5" x2="813" y2="35.5" stroke="#000" stroke-width="1"/>
<line x1="548" y1="32.5" x2="551" y2="32.5" stroke="#000" stroke-width="1"/>
<line x1="816" y1="32.5" x2="813" y2="32.5" stroke="#000" stroke-width="1"/>
<line x1="548" y1="29.5" x2="551" y2="29.5" stroke="#000" stroke-width="1"/>
<line x1="816" y1="29.5" x2="813" y2="29.5" stroke="#000" stroke-width="1"/>
<line x1="614.5" y1="215" x2="614.5" y2="211" stroke="#000" stroke-width="1"/>
<line x1="614.5" y1="27" x2="614.5" y2="31" stroke="#000" stroke-width="1"/>
<line x1="682.5" y1="215" x2="682.5" y2="211" stroke="#000" stroke-width="1"/>
<line x1="682.5" y1="27" x2="682.5" y2="31" stroke="#000" stroke-width="1"/>
<line x1="749.5" y1="215" x2="749.5" y2="211" stroke="#000" stroke-width="1"/>
<line x1="749.5" y1="27" x2="749.5" y2="31" stroke="#000" stroke-width="1"/>
<text x="531.00" y="215.00" font-size="13.0" textLength="12.00" lengthAdjust="spacingAndGlyphs">60</text>
<text x="531.00" y="186.50" font-size="13.0" textLength="12.00" lengthAdjust="spacingAndGlyphs">70</text>
<text x="531.00" y="156.00" font-size="13.0" textLength="12.00" lengthAdjust="spacingAndGlyphs">80</text>
<text x="531.00" y="124.50" font-size="13.0" textLength="12.00" lengthAdjust="spacingAndGlyphs">90</text>
<text x="525.00" y="93.00" font-size="13.0" textLength="18.00" lengthAdjust="spacingAndGlyphs">100</text>
<text x="525.00" y="61.50" font-size="13.0" textLength="18.00" lengthAdjust="spacingAndGlyphs">110</text>
<text x="525.00" y="33.00" font-size="13.0" textLength="18.00" lengthAdjust="spacingAndGlyphs">120</text>
<text x="538.50" y="230.00" font-size="13.0" textLength="18.00" lengthAdjust="spacingAndGlyphs">-90</text>
<text x="611.75" y="230.00" font-size="13.0" textLength="6.00" lengthAdjust="spacingAndGlyphs">0</text>
<text x="676.00" y="230.00" font-size="13.0" textLength="12.00" lengthAdjust="spacingAndGlyphs">90</text>
<text x="746.25" y="230.00" font-size="13.0" textLength="6.00" lengthAdjust="spacingAndGlyphs">0</text>
<text x="807.50" y="230.00" font-size="13.0" textLength="18.00" lengthAdjust="spacingAndGlyphs">-90</text>
<text class="m" x="655.00" y="242.00" font-size="13.0" textLength="54.00" lengthAdjust="spacingAndGlyphs">Lat (deg)</text>
<text class="m" x="516.00" y="55.00" font-size="13.0" text-anchor="middle">A</text>
<text class="m" x="516.00" y="65.00" font-size="13.0" text-anchor="middle">l</text>
<text class="m" x="516.00" y="75.00" font-size="13.0" text-anchor="middle">t</text>
<text class="m" x="516.00" y="85.00" font-size="13.0" text-anchor="middle">i</text>
<text class="m" x="516.00" y="95.00" font-size="13.0" text-anchor="middle">t</text>
<text class="m" x="516.00" y="105.00" font-size="13.0" text-anchor="middle">u</text>
<text class="m" x="516.00" y="115.00" font-size="13.0" text-anchor="middle">d</text>
<text class="m" x="516.00" y="125.00" font-size="13.0" text-anchor="middle">e</text>
<text class="m" x="516.00" y="145.00" font-size="13.0" text-anchor="middle">(</text>
<text class="m" x="516.00" y="155.00" font-size="13.0" text-anchor="middle">k</text>
<text class="m" x="516.00" y="165.00" font-size="13.0" text-anchor="middle">m</text>
<text class="m" x="516.00" y="175.00" font-size="13.0" text-anchor="middle">)</text>
<text class="m" x="589.00" y="20.00" font-size="13.0" textLength="186.00" lengthAdjust="spacingAndGlyphs">Inverted Winds Zonal (coldside)</text>
<rect x="845" y="205.60" width="29" height="9.70" fill="#1c0838"/>
<rect x="845" y="196.20" width="29" height="9.70" fill="#4c0890"/>
<rect x="845" y="186.80" width="29" height="9.70" fill="#1020c8"/>
<rect x="845" y="177.40" width="29" height="9.70" fill="#0040f0"/>
<rect x="845" y="168.00" width="29" height="9.70" fill="#0078f8"/>
<rect x="845" y="158.60" width="29" height="9.70" fill="#00b8f8"/>
<rect x="845" y="149.20" width="29" height="9.70" fill="#00d8d8"/>
<rect x="845" y="139.80" width="29" height="9.70" fill="#10f0a8"/>
<rect x="845" y="130.40" width="29" height="9.70" fill="#50f080"/>
<rect x="845" y="121.00" width="29" height="9.70" fill="#a0f000"/>
<rect x="845" y="111.60" width="29" height="9.70" fill="#c8f800"/>
<rect x="845" y="102.20" width="29" height="9.70" fill="#ffff00"/>
<rect x="845" y="92.80" width="29" height="9.70" fill="#ffd800"/>
<rect x="845" y="83.40" width="29" height="9.70" fill="#ffa800"/>
<rect x="845" y="74.00" width="29" height="9.70" fill="#e07828"/>
<rect x="845" y="64.60" width="29" height="9.70" fill="#c84848"/>
<rect x="845" y="55.20" width="29" height="9.70" fill="#d82c60"/>
<rect x="845" y="45.80" width="29" height="9.70" fill="#ff0060"/>
<rect x="845" y="36.40" width="29" height="9.70" fill="#f030a8"/>
<rect x="845" y="27.00" width="29" height="9.70" fill="#f860f8"/>
<rect x="845.5" y="27.5" width="28" height="188" fill="none" stroke="#000"/>
<line x1="866" y1="50.5" x2="873" y2="50.5" stroke="#000" stroke-width="1"/>
<line x1="866" y1="74.5" x2="873" y2="74.5" stroke="#000" stroke-width="1"/>
<line x1="866" y1="98.5" x2="873" y2="98.5" stroke="#000" stroke-width="1"/>
<line x1="866" y1="121.5" x2="873" y2="121.5" stroke="#000" stroke-width="1"/>
<line x1="866" y1="144.5" x2="873" y2="144.5" stroke="#000" stroke-width="1"/>
<line x1="866" y1="168.5" x2="873" y2="168.5" stroke="#000" stroke-width="1"/>
<line x1="866" y1="192.5" x2="873" y2="192.5" stroke="#000" stroke-width="1"/>
<text x="884.00" y="29.00" font-size="13.0" textLength="30.00" lengthAdjust="spacingAndGlyphs">200.0</text>
<text x="884.00" y="52.50" font-size="13.0" textLength="30.00" lengthAdjust="spacingAndGlyphs">150.0</text>
<text x="884.00" y="76.00" font-size="13.0" textLength="30.00" lengthAdjust="spacingAndGlyphs">100.0</text>
<text x="890.00" y="99.50" font-size="13.0" textLength="24.00" lengthAdjust="spacingAndGlyphs">50.0</text>
<text x="896.00" y="123.00" font-size="13.0" textLength="18.00" lengthAdjust="spacingAndGlyphs">0.0</text>
<text x="884.00" y="146.50" font-size="13.0" textLength="30.00" lengthAdjust="spacingAndGlyphs">-50.0</text>
<text x="878.00" y="170.00" font-size="13.0" textLength="36.00" lengthAdjust="spacingAndGlyphs">-100.0</text>
<text x="878.00" y="193.50" font-size="13.0" textLength="36.00" lengthAdjust="spacingAndGlyphs">-150.0</text>
<text x="878.00" y="217.00" font-size="13.0" textLength="36.00" lengthAdjust="spacingAndGlyphs">-200.0</text>
<clipPath id="c2"><rect x="70" y="297" width="264" height="188"/></clipPath>
<g clip-path="url(#c2)">
<path fill="#1c0838" fill-rule="evenodd" d="M91.2 295.5L160.5 295.5L160.5 429.5L160.1 432.5L158.5 434.7L156.5 436.3L153.5 437.2L108.5 437.4L106.5 438.4L105.1 441.5L102.5 444.2L94.5 444.4L93.5 444.2L91.8 442.5L91 439.5Z"/>
<path fill="#4c0890" fill-rule="evenodd" d="M91.3 295.5L159.7 295.5L159.6 429.5L159.4 431.5L157.5 434.3L155.5 435.3L152.5 435.6L124.5 436L108.5 435.2L105.2 436.5L103 440.5L101.5 442L94.5 442.8L92.5 441.9L91.7 439.5L91.5 434.5Z"/>
<path fill="#1020c8" fill-rule="evenodd" d="M91.4 295.5L158.2 295.5L158.8 337.5L158.1 426.5L157.7 429.5L156.5 431.2L154.5 431.7L150.5 431.6L139.5 433.1L124.5 433.1L107.5 430.8L103.1 432.5L98.5 437.9L94.5 438.7L93.1 437.5L92.1 431.5L91.6 416.5Z"/>
<path fill="#0040f0" fill-rule="evenodd" d="M91.5 295.5L156.9 295.5L157.7 337.5L156.8 424.5L156.5 426.7L155.5 428.3L147.5 428.8L139.5 430.5L124.5 430.5L115.5 428.6L106.5 427.5L101.3 429.5L96.5 435L94.5 435.4L93.5 434.5L92.3 426.5L91.6 396.5Z"/>
<path fill="#0078f8" fill-rule="evenodd" d="M91.7 295.5L155.7 295.5L156.3 305.5L156.7 337.5L156.3 345.5L156.3 400.5L155.6 421.5L154.9 424.5L153.7 425.5L146.5 426.3L139.5 428.2L124.5 428.2L107.5 424L103.5 424.7L100.5 426L95.5 431.6L94.5 431.9L93.5 430.5L92.4 420.5L91.7 394.5Z"/>
<path fill="#00b8f8" fill-rule="evenodd" d="M91.8 295.5L154.4 295.5L155.2 305.5L155.2 328.5L155.8 337.5L155.2 353.5L155.2 400.5L154.4 417.5L153.6 421.5L152.6 422.5L148.5 422.8L146.5 423.5L139.5 425.9L124.5 425.9L115.5 422.7L107.5 420.6L100.5 422.2L94.5 427.7L93.5 425.8L92.5 415.9L91.9 393.5Z"/>
<path fill="#00d8d8" fill-rule="evenodd" d="M92 295.5L153.2 295.5L154.2 305.5L154.2 328.5L154.9 337.5L154.1 353.5L154 401.5L152.5 418.4L151.5 419.5L148.5 419.9L146.5 420.7L139.5 423.6L124.5 423.6L115.5 419.7L107.5 417.2L100.5 418.5L95.5 422.9L94.5 423.2L94.1 422.5L93.5 421L92.9 415.5L92 393.5L91.6 336.5ZM132.5 381.5L131.5 381.8L130.2 384.5L131.5 388.2L132.5 388.5L135.5 385.5L135.5 384.5Z"/>
<path fill="#10f0a8" fill-rule="evenodd" d="M92.1 295.5L151.9 295.5L153.2 305.5L153.2 328.5L154.1 337.5L152.9 353.5L152.9 401.5L151.1 415.5L150.5 416.4L147.5 417.2L140.5 421L124.5 421.3L121.5 420.1L115.5 416.7L112.1 415.5L111.7 408.5L109.5 405.9L107.5 405L100.5 405L96.5 408.5L96 409.5L95.9 418.5L94.5 419.2L94.2 418.5L93.4 415.5L92.2 393.5L91.7 336.5ZM131.5 373.3L128.9 375.5L127.4 378.5L126.1 384.5L126.5 388.2L127.8 392.5L128.8 393.5L132.5 394.9L135.4 393.5L140.5 388.2L141.8 384.5L140.3 381.5L134.5 374.8L132.5 373.3Z"/>
<path fill="#50f080" fill-rule="evenodd" d="M92.3 295.5L144 295.5L144 296.5L144.8 297.5L147.5 298.8L150.5 299.4L151.5 300.5L152.3 305.5L152.3 328.5L153.3 337.5L151.8 353.5L151.5 403.5L150.5 405L147.5 405.3L146.6 406.5L146.1 408.5L145.9 415.5L139.5 418.9L124.5 418.9L122.5 418.2L118.1 415.5L118.2 407.5L120 400.5L120 397.5L120.5 397L123.5 397L132.5 399.1L136.5 401.3L140.5 402.9L143.7 401.5L144 393.5L145.9 385.5L145.4 381.5L144 376.5L144 361.5L142.2 358.5L140.5 357.3L139.5 357.3L136.9 359.5L134.5 363.2L132.5 364.7L123.5 365.3L120.3 368.5L120 396.5L119.5 397L100.5 397L93.5 403.5L92.5 398.9L92.3 392.5L91.8 329.5Z"/>
<path fill="#a0f000" fill-rule="evenodd" d="M92.4 295.5L104 295.5L104 296.5L108.5 297.8L116.5 298.3L134.5 298.3L137.5 299.1L141.1 301.5L148.5 303.2L150.8 304.5L151.1 328.5L152.5 337.5L152.1 345.5L150.9 350.5L150.5 351.1L147.5 351.7L139.5 351.6L136.5 350.6L134.4 348.5L132.5 342.5L131.5 341L124.5 341L123.5 341.5L120 345.5L120 350.5L119.7 353.5L115.5 358L114.2 360.5L113 366.5L111.7 369.5L107.5 374L106.2 376.5L105 382.5L103.5 385.9L101.5 388.1L97.8 390.5L93.5 395.5L92.5 394.8L91.9 336.5L91.9 305.5ZM123.9 405.5L124.5 405L131.5 405L140.5 407.3L142 409.5L142 414.5L141.9 415.5L139.9 416.5L124.5 416.6L122.1 415.5L122 409.5Z"/>
<path fill="#c8f800" fill-rule="evenodd" d="M92.4 298.5L92.5 297.7L100.5 297.8L116.5 301L123.5 301L132.5 300.1L135.5 301.5L137.5 303.2L138.7 305.5L138.7 312.5L139.5 313.9L143.7 315.5L145.5 317.3L146.6 320.5L147 329.5L150.5 332.9L151.5 335L151.5 344L150.8 346.5L149.5 348.1L147.5 349L139.5 348.7L136.3 345.5L132.5 335.7L131.5 334.9L124.5 333.2L122.5 334.5L116.5 340.5L115.5 342.3L114.6 345.5L113.8 353.5L100.5 380.2L99.5 380.7L98.5 380.1L92.5 373.5L92 336.5Z"/>
<path fill="#ffff00" fill-rule="evenodd" d="M92.5 299.5L92.5 299L100.5 299.1L111.5 301.8L116.5 303.7L123.5 303.7L131.5 302.1L134.5 303.5L136 305.5L136.3 313.5L137.8 315.5L141.5 317.9L143.7 320.5L144.2 329.5L145.6 332.5L149.5 336.5L149.9 337.5L149.4 344.5L148.5 345.9L147.5 346.3L140.5 346.3L139.5 345.9L138.5 344.5L134.4 333.5L132.5 331.4L128.8 329.5L125.5 326.5L123.5 325.3L122.5 325.9L115.5 334L113.2 339.5L110.2 352.5L100.5 372L99.5 372.5L95.5 368.7L92.5 367.2L92.1 336.5Z"/>
<path fill="#ffd800" fill-rule="evenodd" d="M92.5 300.5L100.5 300.5L110.8 303.5L113.1 304.5L114 305.5L114 328.5L109.9 337.5L109.4 344.5L108.6 347.5L104.8 355.5L100.5 364L99.5 364.8L92.5 363.1ZM129.9 304.5L132.5 304.3L133.3 305.5L133.4 313.5L134.5 316.7L136.3 318.5L140.5 320.1L141.3 321.5L141.5 330.5L143.7 337.5L141.5 340.1L140.5 340.7L139.5 339.5L137.5 331.5L135.5 328.1L128 320.5L128 305.5Z"/>
<path fill="#ffa800" fill-rule="evenodd" d="M92.4 302.5L92.5 301.7L100.5 301.8L108.8 304.5L110 305.5L110 328.5L106.2 336.5L106 344.5L103.5 350L100.5 356L99.5 357L92.5 357Z"/>
<path fill="#e07828" fill-rule="evenodd" d="M92.5 303.5L92.5 303L100.5 303.1L104.6 304.5L106 305.5L106 328.5L102.2 336.5L102 344.5L100.5 348L99.5 349L92.5 349Z"/>
<path fill="#c84848" fill-rule="evenodd" d="M92.5 304.5L99.5 304.3L102 305.5L102 328.5L100.5 332L96.9 335.5L95.1 338.5L92.5 340.7Z"/>
<path fill="none" stroke="#000" stroke-width="1.0" shape-rendering="crispEdges" d="M91.2 295.5L160.5 295.5L160.5 429.5L160.1 432.5L158.5 434.7L156.5 436.3L153.5 437.2L108.5 437.4L106.5 438.4L105.1 441.5L102.5 444.2L94.5 444.4L93.5 444.2L91.8 442.5L91 439.5ZM91.3 295.5L159.7 295.5L159.6 429.5L159.4 431.5L157.5 434.3L155.5 435.3L152.5 435.6L124.5 436L108.5 435.2L105.2 436.5L103 440.5L101.5 442L94.5 442.8L92.5 441.9L91.7 439.5L91.5 434.5ZM91.4 295.5L158.2 295.5L158.8 337.5L158.1 426.5L157.7 429.5L156.5 431.2L154.5 431.7L150.5 431.6L139.5 433.1L124.5 433.1L107.5 430.8L103.1 432.5L98.5 437.9L94.5 438.7L93.1 437.5L92.1 431.5L91.6 416.5ZM91.5 295.5L156.9 295.5L157.7 337.5L156.8 424.5L156.5 426.7L155.5 428.3L147.5 428.8L139.5 430.5L124.5 430.5L115.5 428.6L106.5 427.5L101.3 429.5L96.5 435L94.5 435.4L93.5 434.5L92.3 426.5L91.6 396.5ZM91.7 295.5L155.7 295.5L156.3 305.5L156.7 337.5L156.3 345.5L156.3 400.5L155.6 421.5L154.9 424.5L153.7 425.5L146.5 426.3L139.5 428.2L124.5 428.2L107.5 424L103.5 424.7L100.5 426L95.5 431.6L94.5 431.9L93.5 430.5L92.4 420.5L91.7 394.5ZM91.8 295.5L154.4 295.5L155.2 305.5L155.2 328.5L155.8 337.5L155.2 353.5L155.2 400.5L154.4 417.5L153.6 421.5L152.6 422.5L148.5 422.8L146.5 423.5L139.5 425.9L124.5 425.9L115.5 422.7L107.5 420.6L100.5 422.2L94.5 427.7L93.5 425.8L92.5 415.9L91.9 393.5ZM92 295.5L153.2 295.5L154.2 305.5L154.2 328.5L154.9 337.5L154.1 353.5L154 401.5L152.5 418.4L151.5 419.5L148.5 419.9L146.5 420.7L139.5 423.6L124.5 423.6L115.5 419.7L107.5 417.2L100.5 418.5L95.5 422.9L94.5 423.2L94.1 422.5L93.5 421L92.9 415.5L92 393.5L91.6 336.5ZM132.5 381.5L131.5 381.8L130.2 384.5L131.5 388.2L132.5 388.5L135.5 385.5L135.5 384.5ZM92.1 295.5L151.9 295.5L153.2 305.5L153.2 328.5L154.1 337.5L152.9 353.5L152.9 401.5L151.1 415.5L150.5 416.4L147.5 417.2L140.5 421L124.5 421.3L121.5 420.1L115.5 416.7L112.1 415.5L111.7 408.5L109.5 405.9L107.5 405L100.5 405L96.5 408.5L96 409.5L95.9 418.5L94.5 419.2L94.2 418.5L93.4 415.5L92.2 393.5L91.7 336.5ZM131.5 373.3L128.9 375.5L127.4 378.5L126.1 384.5L126.5 388.2L127.8 392.5L128.8 393.5L132.5 394.9L135.4 393.5L140.5 388.2L141.8 384.5L140.3 381.5L134.5 374.8L132.5 373.3ZM92.3 295.5L144 295.5L144 296.5L144.8 297.5L147.5 298.8L150.5 299.4L151.5 300.5L152.3 305.5L152.3 328.5L153.3 337.5L151.8 353.5L151.5 403.5L150.5 405L147.5 405.3L146.6 406.5L146.1 408.5L145.9 415.5L139.5 418.9L124.5 418.9L122.5 418.2L118.1 415.5L118.2 407.5L120 400.5L120 397.5L120.5 397L123.5 397L132.5 399.1L136.5 401.3L140.5 402.9L143.7 401.5L144 393.5L145.9 385.5L145.4 381.5L144 376.5L144 361.5L142.2 358.5L140.5 357.3L139.5 357.3L136.9 359.5L134.5 363.2L132.5 364.7L123.5 365.3L120.3 368.5L120 396.5L119.5 397L100.5 397L93.5 403.5L92.5 398.9L92.3 392.5L91.8 329.5ZM92.4 295.5L104 295.5L104 296.5L108.5 297.8L116.5 298.3L134.5 298.3L137.5 299.1L141.1 301.5L148.5 303.2L150.8 304.5L151.1 328.5L152.5 337.5L152.1 345.5L150.9 350.5L150.5 351.1L147.5 351.7L139.5 351.6L136.5 350.6L134.4 348.5L132.5 342.5L131.5 341L124.5 341L123.5 341.5L120 345.5L120 350.5L119.7 353.5L115.5 358L114.2 360.5L113 366.5L111.7 369.5L107.5 374L106.2 376.5L105 382.5L103.5 385.9L101.5 388.1L97.8 390.5L93.5 395.5L92.5 394.8L91.9 336.5L91.9 305.5ZM123.9 405.5L124.5 405L131.5 405L140.5 407.3L142 409.5L142 414.5L141.9 415.5L139.9 416.5L124.5 416.6L122.1 415.5L122 409.5ZM92.4 298.5L92.5 297.7L100.5 297.8L116.5 301L123.5 301L132.5 300.1L135.5 301.5L137.5 303.2L138.7 305.5L138.7 312.5L139.5 313.9L143.7 315.5L145.5 317.3L146.6 320.5L147 329.5L150.5 332.9L151.5 335L151.5 344L150.8 346.5L149.5 348.1L147.5 349L139.5 348.7L136.3 345.5L132.5 335.7L131.5 334.9L124.5 333.2L122.5 334.5L116.5 340.5L115.5 342.3L114.6 345.5L113.8 353.5L100.5 380.2L99.5 380.7L98.5 380.1L92.5 373.5L92 336.5ZM92.5 299.5L92.5 299L100.5 299.1L111.5 301.8L116.5 303.7L123.5 303.7L131.5 302.1L134.5 303.5L136 305.5L136.3 313.5L137.8 315.5L141.5 317.9L143.7 320.5L144.2 329.5L145.6 332.5L149.5 336.5L149.9 337.5L149.4 344.5L148.5 345.9L147.5 346.3L140.5 346.3L139.5 345.9L138.5 344.5L134.4 333.5L132.5 331.4L128.8 329.5L125.5 326.5L123.5 325.3L122.5 325.9L115.5 334L113.2 339.5L110.2 352.5L100.5 372L99.5 372.5L95.5 368.7L92.5 367.2L92.1 336.5ZM92.5 300.5L100.5 300.5L110.8 303.5L113.1 304.5L114 305.5L114 328.5L109.9 337.5L109.4 344.5L108.6 347.5L104.8 355.5L100.5 364L99.5 364.8L92.5 363.1ZM129.9 304.5L132.5 304.3L133.3 305.5L133.4 313.5L134.5 316.7L136.3 318.5L140.5 320.1L141.3 321.5L141.5 330.5L143.7 337.5L141.5 340.1L140.5 340.7L139.5 339.5L137.5 331.5L135.5 328.1L128 320.5L128 305.5ZM92.4 302.5L92.5 301.7L100.5 301.8L108.8 304.5L110 305.5L110 328.5L106.2 336.5L106 344.5L103.5 350L100.5 356L99.5 357L92.5 357ZM92.5 303.5L92.5 303L100.5 303.1L104.6 304.5L106 305.5L106 328.5L102.2 336.5L102 344.5L100.5 348L99.5 349L92.5 349ZM92.5 304.5L99.5 304.3L102 305.5L102 328.5L100.5 332L96.9 335.5L95.1 338.5L92.5 340.7Z"/>
<path fill="#1c0838" fill-rule="evenodd" d="M215.5 329.5L216.5 328.8L218.5 328.6L250.5 328.6L253.5 329.6L256.2 332.5L256.8 338.5L256.7 429.5L256 434.5L253.5 436.9L250.5 437.4L224.5 437.2L221.5 435.1L213.8 427.5L212.2 424.5L211.8 419.5L211.8 336.5L213.1 331.5Z"/>
<path fill="#4c0890" fill-rule="evenodd" d="M219.1 329.5L249.7 329.5L253.5 330.5L255.5 332.9L256 352.5L255.8 431.5L255.5 433.6L253.7 435.5L248.5 436.4L225.5 436.5L223.3 435.5L213.4 425.5L212.5 418.5L212.7 337.5L213.5 332.4L215.5 330.4Z"/>
<path fill="#1020c8" fill-rule="evenodd" d="M216.8 333.5L219.5 333.1L251.5 333.1L253.5 334.1L254.2 335.5L255 352.5L254.6 426.5L253.6 431.5L252.5 432.3L250.5 432.5L237.7 432.5L227.5 434.2L225.5 434.1L215.8 423.5L214.7 421.5L214.2 413.5L215 369.5L214.6 338.5L215 335.5Z"/>
<path fill="#0040f0" fill-rule="evenodd" d="M217.1 336.5L219.5 335.7L250.5 335.7L252.5 336.5L252.9 337.5L253.8 352.5L253.5 422.5L253 427.5L252.5 428.8L251.5 429.5L238.5 429.7L226.5 431.3L224.5 429.7L216.2 419.5L215.7 412.5L216.1 376.5L216.7 369.5L216.1 342.5L216.3 338.5Z"/>
<path fill="#0078f8" fill-rule="evenodd" d="M219.3 338.5L248.5 338.2L250.5 338.5L251.6 339.5L252.8 352.5L252.3 420.5L251.7 425.5L250.9 426.5L249.5 427L238.5 427L228.5 429.1L226.5 428.8L217.5 417.5L217 413.5L216.9 400.5L217.5 393.5L217.5 376.5L218.3 369.5L217.6 343.5L217.9 340.5Z"/>
<path fill="#00b8f8" fill-rule="evenodd" d="M234.7 340.5L248.5 340.6L250.1 341.5L251 343.5L251.9 352.5L251.2 417.5L250.7 422.5L249.5 424L238.5 424.3L233.1 425.5L228.5 426.7L226.5 426.2L219.4 416.5L218.5 414.4L218.2 400.5L219 393.5L219 376.5L219.9 369.5L219.9 358.5L219 352.5L219 346.5L219.4 342.5L220.5 341.1Z"/>
<path fill="#00d8d8" fill-rule="evenodd" d="M236.4 342.5L243.5 342.3L247.5 342.8L249.5 344.4L250.3 347.5L250.9 352.5L250.9 375.5L250.2 382.5L250.1 416.5L249.5 420L248.5 421.2L238.5 421.6L231.5 423.5L228.5 424L226.5 423.4L221 415.5L219.8 412.5L219.5 400.5L220.3 393.5L220.5 376.5L221.5 369.5L221.5 358.5L220.5 351.5L220.5 347.1L221.1 344.5L222.5 343.4L231.5 343.2Z"/>
<path fill="#10f0a8" fill-rule="evenodd" d="M236.6 344.5L243.5 344.2L246.5 344.8L248.5 346.3L249.5 349.5L249.8 375.5L249 382.5L249 413.5L248.5 417L247.5 418.5L238.5 418.9L233.2 420.5L229.5 421.4L226.5 420.6L221.7 413.5L220.8 410.5L220.7 400.5L221.5 393.5L222.1 378.5L223.1 369.5L223.1 358.5L222.2 349.5L222.5 347.4L223.5 346.1L231.5 345.7ZM231.5 367.3L229.5 369.1L229.3 370.5L231.1 372.5L232.5 372.7L234.5 370.9L234.7 369.5L232.9 367.5Z"/>
<path fill="#50f080" fill-rule="evenodd" d="M236.7 346.5L243.5 346.1L245.5 346.6L247.5 347.8L248.7 351.5L248.7 375.5L247.9 382.5L247.5 413.9L246.7 415.5L245.5 416.1L238.5 416.2L230.5 418.4L226.5 417.7L222.9 412.5L221.8 409.5L221.6 404.5L222.1 397.5L223.2 388.5L223.3 381.5L224.5 378L227.5 380L228.7 381.5L229 387.5L229.5 388.5L233.5 392L237.5 396.5L238.5 396.7L240.7 394.5L241 364.5L240.5 363.5L230 353.5L227 349.5Z"/>
<path fill="#a0f000" fill-rule="evenodd" d="M237.6 348.5L244.5 348.5L246.5 349.4L247.2 350.5L247.7 352.5L247.8 358.5L247.5 363.5L246.5 363.1L235.5 352.5L235 349.5ZM225.1 391.5L226.5 391.5L234.5 399.5L235.5 401.2L236.4 406.5L235 412.5L235 414.5L233.5 415.2L226.5 414.9L223 409.5L222.5 405.5L222.9 399.5L224.5 392Z"/>
<path fill="#c8f800" fill-rule="evenodd" d="M224.5 398.5L225.5 397.5L226.5 397.5L232.9 404.5L233.3 406.5L230.7 411.5L229.5 412.2L226.5 412.1L224.5 409.5L223.4 405.5Z"/>
<path fill="#ffff00" fill-rule="evenodd" d="M225.1 404.5L226.5 403.5L228.5 405.5L228.8 406.5L228.1 408.5L227.5 409.6L225.5 408.6L224.7 406.5Z"/>
<path fill="none" stroke="#000" stroke-width="1.0" shape-rendering="crispEdges" d="M215.5 329.5L216.5 328.8L218.5 328.6L250.5 328.6L253.5 329.6L256.2 332.5L256.8 338.5L256.7 429.5L256 434.5L253.5 436.9L250.5 437.4L224.5 437.2L221.5 435.1L213.8 427.5L212.2 424.5L211.8 419.5L211.8 336.5L213.1 331.5ZM219.1 329.5L249.7 329.5L253.5 330.5L255.5 332.9L256 352.5L255.8 431.5L255.5 433.6L253.7 435.5L248.5 436.4L225.5 436.5L223.3 435.5L213.4 425.5L212.5 418.5L212.7 337.5L213.5 332.4L215.5 330.4ZM216.8 333.5L219.5 333.1L251.5 333.1L253.5 334.1L254.2 335.5L255 352.5L254.6 426.5L253.6 431.5L252.5 432.3L250.5 432.5L237.7 432.5L227.5 434.2L225.5 434.1L215.8 423.5L214.7 421.5L214.2 413.5L215 369.5L214.6 338.5L215 335.5ZM217.1 336.5L219.5 335.7L250.5 335.7L252.5 336.5L252.9 337.5L253.8 352.5L253.5 422.5L253 427.5L252.5 428.8L251.5 429.5L238.5 429.7L226.5 431.3L224.5 429.7L216.2 419.5L215.7 412.5L216.1 376.5L216.7 369.5L216.1 342.5L216.3 338.5ZM219.3 338.5L248.5 338.2L250.5 338.5L251.6 339.5L252.8 352.5L252.3 420.5L251.7 425.5L250.9 426.5L249.5 427L238.5 427L228.5 429.1L226.5 428.8L217.5 417.5L217 413.5L216.9 400.5L217.5 393.5L217.5 376.5L218.3 369.5L217.6 343.5L217.9 340.5ZM234.7 340.5L248.5 340.6L250.1 341.5L251 343.5L251.9 352.5L251.2 417.5L250.7 422.5L249.5 424L238.5 424.3L233.1 425.5L228.5 426.7L226.5 426.2L219.4 416.5L218.5 414.4L218.2 400.5L219 393.5L219 376.5L219.9 369.5L219.9 358.5L219 352.5L219 346.5L219.4 342.5L220.5 341.1ZM236.4 342.5L243.5 342.3L247.5 342.8L249.5 344.4L250.3 347.5L250.9 352.5L250.9 375.5L250.2 382.5L250.1 416.5L249.5 420L248.5 421.2L238.5 421.6L231.5 423.5L228.5 424L226.5 423.4L221 415.5L219.8 412.5L219.5 400.5L220.3 393.5L220.5 376.5L221.5 369.5L221.5 358.5L220.5 351.5L220.5 347.1L221.1 344.5L222.5 343.4L231.5 343.2ZM236.6 344.5L243.5 344.2L246.5 344.8L248.5 346.3L249.5 349.5L249.8 375.5L249 382.5L249 413.5L248.5 417L247.5 418.5L238.5 418.9L233.2 420.5L229.5 421.4L226.5 420.6L221.7 413.5L220.8 410.5L220.7 400.5L221.5 393.5L222.1 378.5L223.1 369.5L223.1 358.5L222.2 349.5L222.5 347.4L223.5 346.1L231.5 345.7ZM231.5 367.3L229.5 369.1L229.3 370.5L231.1 372.5L232.5 372.7L234.5 370.9L234.7 369.5L232.9 367.5ZM236.7 346.5L243.5 346.1L245.5 346.6L247.5 347.8L248.7 351.5L248.7 375.5L247.9 382.5L247.5 413.9L246.7 415.5L245.5 416.1L238.5 416.2L230.5 418.4L226.5 417.7L222.9 412.5L221.8 409.5L221.6 404.5L222.1 397.5L223.2 388.5L223.3 381.5L224.5 378L227.5 380L228.7 381.5L229 387.5L229.5 388.5L233.5 392L237.5 396.5L238.5 396.7L240.7 394.5L241 364.5L240.5 363.5L230 353.5L227 349.5ZM237.6 348.5L244.5 348.5L246.5 349.4L247.2 350.5L247.7 352.5L247.8 358.5L247.5 363.5L246.5 363.1L235.5 352.5L235 349.5ZM225.1 391.5L226.5 391.5L234.5 399.5L235.5 401.2L236.4 406.5L235 412.5L235 414.5L233.5 415.2L226.5 414.9L223 409.5L222.5 405.5L222.9 399.5L224.5 392ZM224.5 398.5L225.5 397.5L226.5 397.5L232.9 404.5L233.3 406.5L230.7 411.5L229.5 412.2L226.5 412.1L224.5 409.5L223.4 405.5ZM225.1 404.5L226.5 403.5L228.5 405.5L228.8 406.5L228.1 408.5L227.5 409.6L225.5 408.6L224.7 406.5Z"/>
<clipPath id="c2_2"><rect x="290" y="296" width="23" height="189"/></clipPath><g clip-path="url(#c2_2)">
<path fill="#1c0838" fill-rule="evenodd" d="M301.5 295.5L317.5 295.5L318.2 433.5L317.9 435.5L317.2 436.5L315.5 437.2L313.5 437.3L303.5 437.2L299.5 436L297.2 433.5L296 429.5L296.1 335.5L297 331.5L301 327.5L301.3 326.5Z"/>
<path fill="#4c0890" fill-rule="evenodd" d="M308.3 313.5L310.5 312.5L316.5 312.5L317.5 316.5L317.7 430.5L317.6 433.5L316.5 435.7L305.5 435.9L300.5 435.6L299 434.5L297.3 432.5L296.4 428.5L296.9 340.5L297.7 334.5L298.7 332.5L300.5 330.9L303.5 329.5L305 327.5L305.7 325.5L305.1 321.5L305.5 317.7Z"/>
<path fill="#1020c8" fill-rule="evenodd" d="M309.3 318.5L310.5 317.5L316.5 317.5L317 321.5L317.7 341.5L317.5 421L317 428.5L316.5 430.9L315.5 432.3L306.5 432.8L301.5 433L299.5 432.5L298.5 431.5L297.6 428.5L297.4 405.5L298.5 383.5L298.5 340.5L299.3 335.5L300.3 333.5L305.5 330.7L306.6 329.5L307.6 326.5L307.9 321.5Z"/>
<path fill="#0040f0" fill-rule="evenodd" d="M309.6 323.5L310.5 322.5L316.5 322.5L316.7 324.5L317.6 341.5L317.4 413.5L316.8 424.5L315.5 429.2L313.5 429.9L306.5 429.9L300.5 430.1L299.5 429.6L299 428.5L298.4 425.5L298.2 404.5L299.7 383.5L299.7 340.5L300.5 336.8L301.5 334.7L305.6 332.5L307.6 330.5Z"/>
<path fill="#0078f8" fill-rule="evenodd" d="M310 328.5L310.5 327.5L316.5 327.5L317.4 342.5L317.4 407.5L316.7 421.5L315.5 426.4L313.5 427.3L307.5 427.3L301.5 427.4L300.5 427.1L299.5 425.5L299 419.5L298.9 405.5L300 389.5L301 383.5L301.1 339.5L302.5 336L307.5 332.6Z"/>
<path fill="#00b8f8" fill-rule="evenodd" d="M309.1 333.5L310.5 332.5L316.5 332.5L317.1 342.5L317.3 402.5L316.6 418.5L315.5 423.6L313.5 424.8L308.5 424.8L302.5 424.8L301.5 424.6L300.5 423.5L299.8 418.5L299.6 405.5L300.9 390.5L302.2 384.5L302.2 340.5L303.9 336.5Z"/>
<path fill="#00d8d8" fill-rule="evenodd" d="M305.5 338.5L310.5 337.5L316.5 337.5L317.1 397.5L316.7 412.5L315.5 420.8L314.5 422L311.5 422.2L302.5 422L301.2 420.5L300.5 416.8L300.4 404.5L301.9 390.5L303.4 384.5L303.5 340.5L304.5 338.5Z"/>
<path fill="#10f0a8" fill-rule="evenodd" d="M309.6 378.5L310.5 377.5L316.5 377.5L316.9 404.5L316.5 412L315.5 418L314.5 419.4L313.5 419.6L308.5 419.7L303.5 419.5L302.2 418.5L301.3 414.5L301.1 405.5L302.5 392.8L303.5 388.6L306.5 387L307.7 385.5Z"/>
<path fill="#50f080" fill-rule="evenodd" d="M309.6 390.5L310.5 390L316.5 390L316.7 402.5L315.5 415.2L314.5 416.8L309.5 417.1L304.5 417L303.5 416.7L302.6 415.5L301.8 405.5L302.5 399.3L303.5 395.8L305.5 393Z"/>
<path fill="#a0f000" fill-rule="evenodd" d="M305.6 400.5L306.5 400L316.5 400L315.5 412.4L314.5 414.2L313.5 414.5L305.5 414.5L303.5 413.3L302.9 410.5L302.7 404.5L303.5 401.9Z"/>
<path fill="none" stroke="#000" stroke-width="1.0" shape-rendering="crispEdges" d="M301.5 295.5L317.5 295.5L318.2 433.5L317.9 435.5L317.2 436.5L315.5 437.2L313.5 437.3L303.5 437.2L299.5 436L297.2 433.5L296 429.5L296.1 335.5L297 331.5L301 327.5L301.3 326.5ZM308.3 313.5L310.5 312.5L316.5 312.5L317.5 316.5L317.7 430.5L317.6 433.5L316.5 435.7L305.5 435.9L300.5 435.6L299 434.5L297.3 432.5L296.4 428.5L296.9 340.5L297.7 334.5L298.7 332.5L300.5 330.9L303.5 329.5L305 327.5L305.7 325.5L305.1 321.5L305.5 317.7ZM309.3 318.5L310.5 317.5L316.5 317.5L317 321.5L317.7 341.5L317.5 421L317 428.5L316.5 430.9L315.5 432.3L306.5 432.8L301.5 433L299.5 432.5L298.5 431.5L297.6 428.5L297.4 405.5L298.5 383.5L298.5 340.5L299.3 335.5L300.3 333.5L305.5 330.7L306.6 329.5L307.6 326.5L307.9 321.5ZM309.6 323.5L310.5 322.5L316.5 322.5L316.7 324.5L317.6 341.5L317.4 413.5L316.8 424.5L315.5 429.2L313.5 429.9L306.5 429.9L300.5 430.1L299.5 429.6L299 428.5L298.4 425.5L298.2 404.5L299.7 383.5L299.7 340.5L300.5 336.8L301.5 334.7L305.6 332.5L307.6 330.5ZM310 328.5L310.5 327.5L316.5 327.5L317.4 342.5L317.4 407.5L316.7 421.5L315.5 426.4L313.5 427.3L307.5 427.3L301.5 427.4L300.5 427.1L299.5 425.5L299 419.5L298.9 405.5L300 389.5L301 383.5L301.1 339.5L302.5 336L307.5 332.6ZM309.1 333.5L310.5 332.5L316.5 332.5L317.1 342.5L317.3 402.5L316.6 418.5L315.5 423.6L313.5 424.8L308.5 424.8L302.5 424.8L301.5 424.6L300.5 423.5L299.8 418.5L299.6 405.5L300.9 390.5L302.2 384.5L302.2 340.5L303.9 336.5ZM305.5 338.5L310.5 337.5L316.5 337.5L317.1 397.5L316.7 412.5L315.5 420.8L314.5 422L311.5 422.2L302.5 422L301.2 420.5L300.5 416.8L300.4 404.5L301.9 390.5L303.4 384.5L303.5 340.5L304.5 338.5ZM309.6 378.5L310.5 377.5L316.5 377.5L316.9 404.5L316.5 412L315.5 418L314.5 419.4L313.5 419.6L308.5 419.7L303.5 419.5L302.2 418.5L301.3 414.5L301.1 405.5L302.5 392.8L303.5 388.6L306.5 387L307.7 385.5ZM309.6 390.5L310.5 390L316.5 390L316.7 402.5L315.5 415.2L314.5 416.8L309.5 417.1L304.5 417L303.5 416.7L302.6 415.5L301.8 405.5L302.5 399.3L303.5 395.8L305.5 393ZM305.6 400.5L306.5 400L316.5 400L315.5 412.4L314.5 414.2L313.5 414.5L305.5 414.5L303.5 413.3L302.9 410.5L302.7 404.5L303.5 401.9Z"/>
</g>
</g>
<rect x="67.5" y="296.5" width="269" height="189" fill="none" stroke="#000" stroke-width="1"/>
<line x1="68" y1="482.5" x2="71" y2="482.5" stroke="#000" stroke-width="1"/>
<line x1="336" y1="482.5" x2="333" y2="482.5" stroke="#000" stroke-width="1"/>
<line x1="68" y1="479.5" x2="71" y2="479.5" stroke="#000" stroke-width="1"/>
<line x1="336" y1="479.5" x2="333" y2="479.5" stroke="#000" stroke-width="1"/>
<line x1="68" y1="476.5" x2="71" y2="476.5" stroke="#000" stroke-width="1"/>
<line x1="336" y1="476.5" x2="333" y2="476.5" stroke="#000" stroke-width="1"/>
<line x1="68" y1="472.5" x2="71" y2="472.5" stroke="#000" stroke-width="1"/>
<line x1="336" y1="472.5" x2="333" y2="472.5" stroke="#000" stroke-width="1"/>
<line x1="68" y1="469.5" x2="71" y2="469.5" stroke="#000" stroke-width="1"/>
<line x1="336" y1="469.5" x2="333" y2="469.5" stroke="#000" stroke-width="1"/>
<line x1="68" y1="466.5" x2="71" y2="466.5" stroke="#000" stroke-width="1"/>
<line x1="336" y1="466.5" x2="333" y2="466.5" stroke="#000" stroke-width="1"/>
<line x1="68" y1="463.5" x2="71" y2="463.5" stroke="#000" stroke-width="1"/>
<line x1="336" y1="463.5" x2="333" y2="463.5" stroke="#000" stroke-width="1"/>
<line x1="68" y1="460.5" x2="71" y2="460.5" stroke="#000" stroke-width="1"/>
<line x1="336" y1="460.5" x2="333" y2="460.5" stroke="#000" stroke-width="1"/>
<line x1="68" y1="457.5" x2="71" y2="457.5" stroke="#000" stroke-width="1"/>
<line x1="336" y1="457.5" x2="333" y2="457.5" stroke="#000" stroke-width="1"/>
<line x1="68" y1="454.5" x2="74" y2="454.5" stroke="#000" stroke-width="1"/>
<line x1="336" y1="454.5" x2="330" y2="454.5" stroke="#000" stroke-width="1"/>
<line x1="68" y1="450.5" x2="71" y2="450.5" stroke="#000" stroke-width="1"/>
<line x1="336" y1="450.5" x2="333" y2="450.5" stroke="#000" stroke-width="1"/>
<line x1="68" y1="447.5" x2="71" y2="447.5" stroke="#000" stroke-width="1"/>
<line x1="336" y1="447.5" x2="333" y2="447.5" stroke="#000" stroke-width="1"/>
<line x1="68" y1="444.5" x2="71" y2="444.5" stroke="#000" stroke-width="1"/>
<line x1="336" y1="444.5" x2="333" y2="444.5" stroke="#000" stroke-width="1"/>
<line x1="68" y1="441.5" x2="71" y2="441.5" stroke="#000" stroke-width="1"/>
<line x1="336" y1="441.5" x2="333" y2="441.5" stroke="#000" stroke-width="1"/>
<line x1="68" y1="438.5" x2="71" y2="438.5" stroke="#000" stroke-width="1"/>
<line x1="336" y1="438.5" x2="333" y2="438.5" stroke="#000" stroke-width="1"/>
<line x1="68" y1="435.5" x2="71" y2="435.5" stroke="#000" stroke-width="1"/>
<line x1="336" y1="435.5" x2="333" y2="435.5" stroke="#000" stroke-width="1"/>
<line x1="68" y1="431.5" x2="71" y2="431.5" stroke="#000" stroke-width="1"/>
<line x1="336" y1="431.5" x2="333" y2="431.5" stroke="#000" stroke-width="1"/>
<line x1="68" y1="428.5" x2="71" y2="428.5" stroke="#000" stroke-width="1"/>
<line x1="336" y1="428.5" x2="333" y2="428.5" stroke="#000" stroke-width="1"/>
<line x1="68" y1="425.5" x2="71" y2="425.5" stroke="#000" stroke-width="1"/>
<line x1="336" y1="425.5" x2="333" y2="425.5" stroke="#000" stroke-width="1"/>
<line x1="68" y1="422.5" x2="74" y2="422.5" stroke="#000" stroke-width="1"/>
<line x1="336" y1="422.5" x2="330" y2="422.5" stroke="#000" stroke-width="1"/>
<line x1="68" y1="419.5" x2="71" y2="419.5" stroke="#000" stroke-width="1"/>
<line x1="336" y1="419.5" x2="333" y2="419.5" stroke="#000" stroke-width="1"/>
<line x1="68" y1="416.5" x2="71" y2="416.5" stroke="#000" stroke-width="1"/>
<line x1="336" y1="416.5" x2="333" y2="416.5" stroke="#000" stroke-width="1"/>
<line x1="68" y1="413.5" x2="71" y2="413.5" stroke="#000" stroke-width="1"/>
<line x1="336" y1="413.5" x2="333" y2="413.5" stroke="#000" stroke-width="1"/>
<line x1="68" y1="409.5" x2="71" y2="409.5" stroke="#000" stroke-width="1"/>
<line x1="336" y1="409.5" x2="333" y2="409.5" stroke="#000" stroke-width="1"/>
<line x1="68" y1="406.5" x2="71" y2="406.5" stroke="#000" stroke-width="1"/>
<line x1="336" y1="406.5" x2="333" y2="406.5" stroke="#000" stroke-width="1"/>
<line x1="68" y1="403.5" x2="71" y2="403.5" stroke="#000" stroke-width="1"/>
<line x1="336" y1="403.5" x2="333" y2="403.5" stroke="#000" stroke-width="1"/>
<line x1="68" y1="400.5" x2="71" y2="400.5" stroke="#000" stroke-width="1"/>
<line x1="336" y1="400.5" x2="333" y2="400.5" stroke="#000" stroke-width="1"/>
<line x1="68" y1="397.5" x2="71" y2="397.5" stroke="#000" stroke-width="1"/>
<line x1="336" y1="397.5" x2="333" y2="397.5" stroke="#000" stroke-width="1"/>
<line x1="68" y1="394.5" x2="71" y2="394.5" stroke="#000" stroke-width="1"/>
<line x1="336" y1="394.5" x2="333" y2="394.5" stroke="#000" stroke-width="1"/>
<line x1="68" y1="390.5" x2="74" y2="390.5" stroke="#000" stroke-width="1"/>
<line x1="336" y1="390.5" x2="330" y2="390.5" stroke="#000" stroke-width="1"/>
<line x1="68" y1="387.5" x2="71" y2="387.5" stroke="#000" stroke-width="1"/>
<line x1="336" y1="387.5" x2="333" y2="387.5" stroke="#000" stroke-width="1"/>
<line x1="68" y1="384.5" x2="71" y2="384.5" stroke="#000" stroke-width="1"/>
<line x1="336" y1="384.5" x2="333" y2="384.5" stroke="#000" stroke-width="1"/>
<line x1="68" y1="381.5" x2="71" y2="381.5" stroke="#000" stroke-width="1"/>
<line x1="336" y1="381.5" x2="333" y2="381.5" stroke="#000" stroke-width="1"/>
<line x1="68" y1="378.5" x2="71" y2="378.5" stroke="#000" stroke-width="1"/>
<line x1="336" y1="378.5" x2="333" y2="378.5" stroke="#000" stroke-width="1"/>
<line x1="68" y1="375.5" x2="71" y2="375.5" stroke="#000" stroke-width="1"/>
<line x1="336" y1="375.5" x2="333" y2="375.5" stroke="#000" stroke-width="1"/>
<line x1="68" y1="372.5" x2="71" y2="372.5" stroke="#000" stroke-width="1"/>
<line x1="336" y1="372.5" x2="333" y2="372.5" stroke="#000" stroke-width="1"/>
<line x1="68" y1="368.5" x2="71" y2="368.5" stroke="#000" stroke-width="1"/>
<line x1="336" y1="368.5" x2="333" y2="368.5" stroke="#000" stroke-width="1"/>
<line x1="68" y1="365.5" x2="71" y2="365.5" stroke="#000" stroke-width="1"/>
<line x1="336" y1="365.5" x2="333" y2="365.5" stroke="#000" stroke-width="1"/>
<line x1="68" y1="362.5" x2="71" y2="362.5" stroke="#000" stroke-width="1"/>
<line x1="336" y1="362.5" x2="333" y2="362.5" stroke="#000" stroke-width="1"/>
<line x1="68" y1="359.5" x2="74" y2="359.5" stroke="#000" stroke-width="1"/>
<line x1="336" y1="359.5" x2="330" y2="359.5" stroke="#000" stroke-width="1"/>
<line x1="68" y1="356.5" x2="71" y2="356.5" stroke="#000" stroke-width="1"/>
<line x1="336" y1="356.5" x2="333" y2="356.5" stroke="#000" stroke-width="1"/>
<line x1="68" y1="353.5" x2="71" y2="353.5" stroke="#000" stroke-width="1"/>
<line x1="336" y1="353.5" x2="333" y2="353.5" stroke="#000" stroke-width="1"/>
<line x1="68" y1="350.5" x2="71" y2="350.5" stroke="#000" stroke-width="1"/>
<line x1="336" y1="350.5" x2="333" y2="350.5" stroke="#000" stroke-width="1"/>
<line x1="68" y1="346.5" x2="71" y2="346.5" stroke="#000" stroke-width="1"/>
<line x1="336" y1="346.5" x2="333" y2="346.5" stroke="#000" stroke-width="1"/>
<line x1="68" y1="343.5" x2="71" y2="343.5" stroke="#000" stroke-width="1"/>
<line x1="336" y1="343.5" x2="333" y2="343.5" stroke="#000" stroke-width="1"/>
<line x1="68" y1="340.5" x2="71" y2="340.5" stroke="#000" stroke-width="1"/>
<line x1="336" y1="340.5" x2="333" y2="340.5" stroke="#000" stroke-width="1"/>
<line x1="68" y1="337.5" x2="71" y2="337.5" stroke="#000" stroke-width="1"/>
<line x1="336" y1="337.5" x2="333" y2="337.5" stroke="#000" stroke-width="1"/>
<line x1="68" y1="334.5" x2="71" y2="334.5" stroke="#000" stroke-width="1"/>
<line x1="336" y1="334.5" x2="333" y2="334.5" stroke="#000" stroke-width="1"/>
<line x1="68" y1="331.5" x2="71" y2="331.5" stroke="#000" stroke-width="1"/>
<line x1="336" y1="331.5" x2="333" y2="331.5" stroke="#000" stroke-width="1"/>
<line x1="68" y1="328.5" x2="74" y2="328.5" stroke="#000" stroke-width="1"/>
<line x1="336" y1="328.5" x2="330" y2="328.5" stroke="#000" stroke-width="1"/>
<line x1="68" y1="324.5" x2="71" y2="324.5" stroke="#000" stroke-width="1"/>
<line x1="336" y1="324.5" x2="333" y2="324.5" stroke="#000" stroke-width="1"/>
<line x1="68" y1="321.5" x2="71" y2="321.5" stroke="#000" stroke-width="1"/>
<line x1="336" y1="321.5" x2="333" y2="321.5" stroke="#000" stroke-width="1"/>
<line x1="68" y1="318.5" x2="71" y2="318.5" stroke="#000" stroke-width="1"/>
<line x1="336" y1="318.5" x2="333" y2="318.5" stroke="#000" stroke-width="1"/>
<line x1="68" y1="315.5" x2="71" y2="315.5" stroke="#000" stroke-width="1"/>
<line x1="336" y1="315.5" x2="333" y2="315.5" stroke="#000" stroke-width="1"/>
<line x1="68" y1="312.5" x2="71" y2="312.5" stroke="#000" stroke-width="1"/>
<line x1="336" y1="312.5" x2="333" y2="312.5" stroke="#000" stroke-width="1"/>
<line x1="68" y1="309.5" x2="71" y2="309.5" stroke="#000" stroke-width="1"/>
<line x1="336" y1="309.5" x2="333" y2="309.5" stroke="#000" stroke-width="1"/>
<line x1="68" y1="305.5" x2="71" y2="305.5" stroke="#000" stroke-width="1"/>
<line x1="336" y1="305.5" x2="333" y2="305.5" stroke="#000" stroke-width="1"/>
<line x1="68" y1="302.5" x2="71" y2="302.5" stroke="#000" stroke-width="1"/>
<line x1="336" y1="302.5" x2="333" y2="302.5" stroke="#000" stroke-width="1"/>
<line x1="68" y1="299.5" x2="71" y2="299.5" stroke="#000" stroke-width="1"/>
<line x1="336" y1="299.5" x2="333" y2="299.5" stroke="#000" stroke-width="1"/>
<line x1="134.5" y1="485" x2="134.5" y2="481" stroke="#000" stroke-width="1"/>
<line x1="134.5" y1="297" x2="134.5" y2="301" stroke="#000" stroke-width="1"/>
<line x1="202.5" y1="485" x2="202.5" y2="481" stroke="#000" stroke-width="1"/>
<line x1="202.5" y1="297" x2="202.5" y2="301" stroke="#000" stroke-width="1"/>
<line x1="269.5" y1="485" x2="269.5" y2="481" stroke="#000" stroke-width="1"/>
<line x1="269.5" y1="297" x2="269.5" y2="301" stroke="#000" stroke-width="1"/>
<text x="51.00" y="485.00" font-size="13.0" textLength="12.00" lengthAdjust="spacingAndGlyphs">60</text>
<text x="51.00" y="456.50" font-size="13.0" textLength="12.00" lengthAdjust="spacingAndGlyphs">70</text>
<text x="51.00" y="426.00" font-size="13.0" textLength="12.00" lengthAdjust="spacingAndGlyphs">80</text>
<text x="51.00" y="394.50" font-size="13.0" textLength="12.00" lengthAdjust="spacingAndGlyphs">90</text>
<text x="45.00" y="363.00" font-size="13.0" textLength="18.00" lengthAdjust="spacingAndGlyphs">100</text>
<text x="45.00" y="331.50" font-size="13.0" textLength="18.00" lengthAdjust="spacingAndGlyphs">110</text>
<text x="45.00" y="303.00" font-size="13.0" textLength="18.00" lengthAdjust="spacingAndGlyphs">120</text>
<text x="58.50" y="500.00" font-size="13.0" textLength="18.00" lengthAdjust="spacingAndGlyphs">-90</text>
<text x="131.75" y="500.00" font-size="13.0" textLength="6.00" lengthAdjust="spacingAndGlyphs">0</text>
<text x="196.00" y="500.00" font-size="13.0" textLength="12.00" lengthAdjust="spacingAndGlyphs">90</text>
<text x="266.25" y="500.00" font-size="13.0" textLength="6.00" lengthAdjust="spacingAndGlyphs">0</text>
<text x="327.50" y="500.00" font-size="13.0" textLength="18.00" lengthAdjust="spacingAndGlyphs">-90</text>
<text class="m" x="175.00" y="512.00" font-size="13.0" textLength="54.00" lengthAdjust="spacingAndGlyphs">Lat (deg)</text>
<text class="m" x="36.00" y="325.00" font-size="13.0" text-anchor="middle">A</text>
<text class="m" x="36.00" y="335.00" font-size="13.0" text-anchor="middle">l</text>
<text class="m" x="36.00" y="345.00" font-size="13.0" text-anchor="middle">t</text>
<text class="m" x="36.00" y="355.00" font-size="13.0" text-anchor="middle">i</text>
<text class="m" x="36.00" y="365.00" font-size="13.0" text-anchor="middle">t</text>
<text class="m" x="36.00" y="375.00" font-size="13.0" text-anchor="middle">u</text>
<text class="m" x="36.00" y="385.00" font-size="13.0" text-anchor="middle">d</text>
<text class="m" x="36.00" y="395.00" font-size="13.0" text-anchor="middle">e</text>
<text class="m" x="36.00" y="415.00" font-size="13.0" text-anchor="middle">(</text>
<text class="m" x="36.00" y="425.00" font-size="13.0" text-anchor="middle">k</text>
<text class="m" x="36.00" y="435.00" font-size="13.0" text-anchor="middle">m</text>
<text class="m" x="36.00" y="445.00" font-size="13.0" text-anchor="middle">)</text>
<text class="m" x="94.00" y="290.00" font-size="13.0" textLength="216.00" lengthAdjust="spacingAndGlyphs">Inverted Winds Meridional (warmside)</text>
<rect x="374" y="475.60" width="29" height="9.70" fill="#1c0838"/>
<rect x="374" y="466.20" width="29" height="9.70" fill="#4c0890"/>
<rect x="374" y="456.80" width="29" height="9.70" fill="#1020c8"/>
<rect x="374" y="447.40" width="29" height="9.70" fill="#0040f0"/>
<rect x="374" y="438.00" width="29" height="9.70" fill="#0078f8"/>
<rect x="374" y="428.60" width="29" height="9.70" fill="#00b8f8"/>
<rect x="374" y="419.20" width="29" height="9.70" fill="#00d8d8"/>
<rect x="374" y="409.80" width="29" height="9.70" fill="#10f0a8"/>
<rect x="374" y="400.40" width="29" height="9.70" fill="#50f080"/>
<rect x="374" y="391.00" width="29" height="9.70" fill="#a0f000"/>
<rect x="374" y="381.60" width="29" height="9.70" fill="#c8f800"/>
<rect x="374" y="372.20" width="29" height="9.70" fill="#ffff00"/>
<rect x="374" y="362.80" width="29" height="9.70" fill="#ffd800"/>
<rect x="374" y="353.40" width="29" height="9.70" fill="#ffa800"/>
<rect x="374" y="344.00" width="29" height="9.70" fill="#e07828"/>
<rect x="374" y="334.60" width="29" height="9.70" fill="#c84848"/>
<rect x="374" y="325.20" width="29" height="9.70" fill="#d82c60"/>
<rect x="374" y="315.80" width="29" height="9.70" fill="#ff0060"/>
<rect x="374" y="306.40" width="29" height="9.70" fill="#f030a8"/>
<rect x="374" y="297.00" width="29" height="9.70" fill="#f860f8"/>
<rect x="374.5" y="297.5" width="28" height="188" fill="none" stroke="#000"/>
<line x1="395" y1="320.5" x2="402" y2="320.5" stroke="#000" stroke-width="1"/>
<line x1="395" y1="344.5" x2="402" y2="344.5" stroke="#000" stroke-width="1"/>
<line x1="395" y1="368.5" x2="402" y2="368.5" stroke="#000" stroke-width="1"/>
<line x1="395" y1="391.5" x2="402" y2="391.5" stroke="#000" stroke-width="1"/>
<line x1="395" y1="414.5" x2="402" y2="414.5" stroke="#000" stroke-width="1"/>
<line x1="395" y1="438.5" x2="402" y2="438.5" stroke="#000" stroke-width="1"/>
<line x1="395" y1="462.5" x2="402" y2="462.5" stroke="#000" stroke-width="1"/>
<text x="413.00" y="299.00" font-size="13.0" textLength="30.00" lengthAdjust="spacingAndGlyphs">200.0</text>
<text x="413.00" y="322.50" font-size="13.0" textLength="30.00" lengthAdjust="spacingAndGlyphs">150.0</text>
<text x="413.00" y="346.00" font-size="13.0" textLength="30.00" lengthAdjust="spacingAndGlyphs">100.0</text>
<text x="419.00" y="369.50" font-size="13.0" textLength="24.00" lengthAdjust="spacingAndGlyphs">50.0</text>
<text x="425.00" y="393.00" font-size="13.0" textLength="18.00" lengthAdjust="spacingAndGlyphs">0.0</text>
<text x="413.00" y="416.50" font-size="13.0" textLength="30.00" lengthAdjust="spacingAndGlyphs">-50.0</text>
<text x="407.00" y="440.00" font-size="13.0" textLength="36.00" lengthAdjust="spacingAndGlyphs">-100.0</text>
<text x="407.00" y="463.50" font-size="13.0" textLength="36.00" lengthAdjust="spacingAndGlyphs">-150.0</text>
<text x="407.00" y="487.00" font-size="13.0" textLength="36.00" lengthAdjust="spacingAndGlyphs">-200.0</text>
<clipPath id="c3"><rect x="550" y="297" width="264" height="188"/></clipPath>
<g clip-path="url(#c3)">
<path fill="#1c0838" fill-rule="evenodd" d="M571.2 295.5L640.4 295.5L640.4 429.5L639.9 432.5L638.5 434.5L636.5 436.3L632.5 437.2L587.5 437.5L585.5 439.4L584 443.5L581.5 445.3L574.5 445.4L573.5 445.2L571.8 443.5L571 439.5Z"/>
<path fill="#4c0890" fill-rule="evenodd" d="M571.3 295.5L637.9 295.5L639.5 336.5L639.5 428.6L639 431.5L637.5 433.7L634.5 435L630.5 435.1L588.5 436.2L586.5 436.7L585.6 437.5L584.7 438.5L582.6 443.5L580.5 444.5L574.5 444.2L572.5 443L571.6 440.5L571.4 436.5Z"/>
<path fill="#1020c8" fill-rule="evenodd" d="M571.4 295.5L635.2 295.5L636.4 305.5L636.5 320.5L637.7 336.5L638.1 353.5L637.6 426.5L637 429.5L635.5 430.9L628.5 431L605.5 433.2L586.5 433.3L584.5 433.9L582.5 435.4L579.5 440.1L574.5 440.3L573.5 439.9L572.7 438.5L571.9 432.5L571.4 399.5Z"/>
<path fill="#0040f0" fill-rule="evenodd" d="M571.5 295.5L632.5 295.5L634.4 305.5L634.7 320.5L636.3 336.5L636.9 353.5L636.2 422.5L635.5 426.5L634.5 427.5L627.5 428L605.5 430.7L585.5 430.8L581.5 432.5L577.5 437.2L575.5 437.6L573.5 436.7L572.4 431.5L571.6 399.5Z"/>
<path fill="#0078f8" fill-rule="evenodd" d="M571.8 295.5L625 295.5L625.5 297.5L628.5 300.5L630.5 301L631.5 302.1L632.7 308.5L633.1 320.5L634.5 329.5L635.7 353.5L635.9 377.5L635 393.5L634.7 419.5L634.3 422.5L633.5 423.8L625.5 425.2L605.5 428.5L584.5 428.5L580.5 429.9L575.5 434.2L574.5 434.2L573.5 432.9L572.5 423.3L571.7 398.5Z"/>
<path fill="#00b8f8" fill-rule="evenodd" d="M572.1 295.5L585 295.5L585.5 297.5L589.5 301L620.5 301L624.5 304.5L626.8 307.5L630.5 309.9L631.4 312.5L631.5 320.5L633.3 329.5L634.6 353.5L635 377.5L633.4 400.5L633 418.5L632.5 420L631.5 420.9L626.5 421.9L605.5 426.2L584.5 426L579.5 427.3L575.5 429.8L574.5 429.9L573.8 428.5L572.5 417.1L571.9 397.5L571.5 337.5Z"/>
<path fill="#00d8d8" fill-rule="evenodd" d="M572.4 295.5L577 295.5L577.5 297.5L585.2 305.5L586.9 312.5L588.5 314.6L597.5 317L604.5 317L612.5 315.1L617.5 315.8L622.5 317.9L626 321.5L630.5 324L631.5 325.9L632.2 329.5L632.9 342.5L634.2 376.5L632 400.5L631.7 414.5L630.5 417.4L628.5 418L618.5 421.2L605.5 424L589.5 424.1L583.5 423.6L579.5 424.3L575.5 425.8L574.5 425.5L573.5 422.7L573 417.5L572 398.5L571.6 337.5Z"/>
<path fill="#10f0a8" fill-rule="evenodd" d="M572.5 301.5L572.5 301L573.5 301.5L580.5 308.5L582.4 311.5L583.9 315.5L585.5 317.4L592.2 320.5L596.5 324.5L597.5 324.8L605.5 322.9L611.5 319.6L613.5 319.2L628.5 326.8L630.5 328.4L632 344.5L633.5 368.5L633.4 377.5L631 394.5L630.5 396.1L627.5 397.9L625.3 400.5L625 408.5L625 415.5L624.3 416.5L613.5 419.9L604.5 421.8L589.5 421.8L583.5 421.1L575.5 422.2L574.5 421.7L573.3 416.5L572.2 397.5L571.8 337.5ZM595.5 351.5L593.6 352.5L591.5 355.2L588.5 357.8L587.5 359.8L585 369.5L585 376.5L585.9 378.5L588.5 380.7L589.5 380.7L591.2 379.5L593 376.5L593.3 368.5L596.5 365.3L598.5 365.9L600.7 368.5L601.3 377.5L604.5 380.7L605.5 380.2L607 376.5L607 361.5L605.5 357.6L602.8 355.5L600.2 352.5L597.5 351.2Z"/>
<path fill="#50f080" fill-rule="evenodd" d="M572.5 309.5L572.5 309L573.5 309.5L576.5 312.5L577 313.5L577 320.5L580.5 324.5L581.5 325L588.5 325L589.5 325.5L593 329.5L593 332.5L592.5 333L588.1 333.5L585.9 335.5L585 337.5L585 352.5L582.8 361.5L579 369.5L579 384.5L579.6 386.5L580.5 388.2L583.5 390.8L585.6 393.5L588.5 394.9L605.5 395.1L610.5 396L613.5 397.3L616.7 400.5L617 405.5L617 415.5L616.2 416.5L604.5 419.6L589.5 419.6L583.5 418.7L577 418.5L576.7 408.5L572.5 404.1L572.5 403.5L571.9 337.5ZM603.8 327.5L606.5 327.5L608.4 328.5L609 329.5L609 344.5L608.1 346.5L605.5 348.7L600.2 347.5L595.4 346.5L593.6 345.5L593 344.5L593 333.5L593.5 333L597.5 332.7L601.8 328.5ZM619.4 327.5L621.5 327.2L625.2 329.5L627.2 337.5L630.5 343.8L632.8 369.5L632.7 377.5L631.8 383.5L630.5 387.5L628.5 389L621.5 389L612.5 388.7L609.3 385.5L610.9 377.5L611.1 360.5L612.5 357.6L616.5 353.5L616.8 352.5L615.1 345.5L615.4 334.5L616.8 329.5Z"/>
<path fill="#a0f000" fill-rule="evenodd" d="M572.5 325.5L572.5 325L573.5 325.5L577.5 329.6L578.9 332.5L579.6 336.5L579.7 352.5L579.1 360.5L575 369.5L575.1 385.5L576.5 391.9L576.7 393.5L576.1 394.5L574.5 396.1L572.5 397L572.1 337.5ZM620.1 334.5L620.5 333.8L621.5 333.8L622.4 335.5L624.8 344.5L624.7 345.5L623.2 347.5L621.5 348.7L620.5 348.2L619.2 345.5L619 337.5ZM620.5 357.5L621.5 357L628.5 357L630.5 359.8L632 368.5L632 377.5L631.5 380.6L630.5 382.7L628.5 383.6L622.5 382.1L618.8 379.5L617.3 377.5L617 361.5ZM587.4 399.5L589.5 399L604.5 399L608.2 400.5L609 401.5L609 415.5L607.5 416.7L604.5 417.4L589.5 417.4L585.3 416.5L585 401.5L585.6 400.5Z"/>
<path fill="#c8f800" fill-rule="evenodd" d="M572.5 331.5L572.5 331L573.5 331.4L574.6 332.5L576.4 335.5L577 337.5L576.9 353.5L574.5 362L572.5 365ZM627.4 363.5L628.5 363.1L629.5 363.7L630.5 365.3L631.4 369.5L631.2 377.5L629.5 380.6L627.7 380.5L624.5 378.6L623 376.5L623 369.5L623.5 367.5L624.6 365.5Z"/>
<path fill="#ffff00" fill-rule="evenodd" d="M572.5 335.5L572.5 335L573.5 335.7L574.3 337.5L574.3 352.5L573.5 355.7L572.5 357ZM628.4 367.5L629.5 367.9L630 369.5L630 376.5L629.5 377.7L628.5 378L627 376.5L627 369.5Z"/>
<path fill="none" stroke="#000" stroke-width="1.0" shape-rendering="crispEdges" d="M571.2 295.5L640.4 295.5L640.4 429.5L639.9 432.5L638.5 434.5L636.5 436.3L632.5 437.2L587.5 437.5L585.5 439.4L584 443.5L581.5 445.3L574.5 445.4L573.5 445.2L571.8 443.5L571 439.5ZM571.3 295.5L637.9 295.5L639.5 336.5L639.5 428.6L639 431.5L637.5 433.7L634.5 435L630.5 435.1L588.5 436.2L586.5 436.7L585.6 437.5L584.7 438.5L582.6 443.5L580.5 444.5L574.5 444.2L572.5 443L571.6 440.5L571.4 436.5ZM571.4 295.5L635.2 295.5L636.4 305.5L636.5 320.5L637.7 336.5L638.1 353.5L637.6 426.5L637 429.5L635.5 430.9L628.5 431L605.5 433.2L586.5 433.3L584.5 433.9L582.5 435.4L579.5 440.1L574.5 440.3L573.5 439.9L572.7 438.5L571.9 432.5L571.4 399.5ZM571.5 295.5L632.5 295.5L634.4 305.5L634.7 320.5L636.3 336.5L636.9 353.5L636.2 422.5L635.5 426.5L634.5 427.5L627.5 428L605.5 430.7L585.5 430.8L581.5 432.5L577.5 437.2L575.5 437.6L573.5 436.7L572.4 431.5L571.6 399.5ZM571.8 295.5L625 295.5L625.5 297.5L628.5 300.5L630.5 301L631.5 302.1L632.7 308.5L633.1 320.5L634.5 329.5L635.7 353.5L635.9 377.5L635 393.5L634.7 419.5L634.3 422.5L633.5 423.8L625.5 425.2L605.5 428.5L584.5 428.5L580.5 429.9L575.5 434.2L574.5 434.2L573.5 432.9L572.5 423.3L571.7 398.5ZM572.1 295.5L585 295.5L585.5 297.5L589.5 301L620.5 301L624.5 304.5L626.8 307.5L630.5 309.9L631.4 312.5L631.5 320.5L633.3 329.5L634.6 353.5L635 377.5L633.4 400.5L633 418.5L632.5 420L631.5 420.9L626.5 421.9L605.5 426.2L584.5 426L579.5 427.3L575.5 429.8L574.5 429.9L573.8 428.5L572.5 417.1L571.9 397.5L571.5 337.5ZM572.4 295.5L577 295.5L577.5 297.5L585.2 305.5L586.9 312.5L588.5 314.6L597.5 317L604.5 317L612.5 315.1L617.5 315.8L622.5 317.9L626 321.5L630.5 324L631.5 325.9L632.2 329.5L632.9 342.5L634.2 376.5L632 400.5L631.7 414.5L630.5 417.4L628.5 418L618.5 421.2L605.5 424L589.5 424.1L583.5 423.6L579.5 424.3L575.5 425.8L574.5 425.5L573.5 422.7L573 417.5L572 398.5L571.6 337.5ZM572.5 301.5L572.5 301L573.5 301.5L580.5 308.5L582.4 311.5L583.9 315.5L585.5 317.4L592.2 320.5L596.5 324.5L597.5 324.8L605.5 322.9L611.5 319.6L613.5 319.2L628.5 326.8L630.5 328.4L632 344.5L633.5 368.5L633.4 377.5L631 394.5L630.5 396.1L627.5 397.9L625.3 400.5L625 408.5L625 415.5L624.3 416.5L613.5 419.9L604.5 421.8L589.5 421.8L583.5 421.1L575.5 422.2L574.5 421.7L573.3 416.5L572.2 397.5L571.8 337.5ZM595.5 351.5L593.6 352.5L591.5 355.2L588.5 357.8L587.5 359.8L585 369.5L585 376.5L585.9 378.5L588.5 380.7L589.5 380.7L591.2 379.5L593 376.5L593.3 368.5L596.5 365.3L598.5 365.9L600.7 368.5L601.3 377.5L604.5 380.7L605.5 380.2L607 376.5L607 361.5L605.5 357.6L602.8 355.5L600.2 352.5L597.5 351.2ZM572.5 309.5L572.5 309L573.5 309.5L576.5 312.5L577 313.5L577 320.5L580.5 324.5L581.5 325L588.5 325L589.5 325.5L593 329.5L593 332.5L592.5 333L588.1 333.5L585.9 335.5L585 337.5L585 352.5L582.8 361.5L579 369.5L579 384.5L579.6 386.5L580.5 388.2L583.5 390.8L585.6 393.5L588.5 394.9L605.5 395.1L610.5 396L613.5 397.3L616.7 400.5L617 405.5L617 415.5L616.2 416.5L604.5 419.6L589.5 419.6L583.5 418.7L577 418.5L576.7 408.5L572.5 404.1L572.5 403.5L571.9 337.5ZM603.8 327.5L606.5 327.5L608.4 328.5L609 329.5L609 344.5L608.1 346.5L605.5 348.7L600.2 347.5L595.4 346.5L593.6 345.5L593 344.5L593 333.5L593.5 333L597.5 332.7L601.8 328.5ZM619.4 327.5L621.5 327.2L625.2 329.5L627.2 337.5L630.5 343.8L632.8 369.5L632.7 377.5L631.8 383.5L630.5 387.5L628.5 389L621.5 389L612.5 388.7L609.3 385.5L610.9 377.5L611.1 360.5L612.5 357.6L616.5 353.5L616.8 352.5L615.1 345.5L615.4 334.5L616.8 329.5ZM572.5 325.5L572.5 325L573.5 325.5L577.5 329.6L578.9 332.5L579.6 336.5L579.7 352.5L579.1 360.5L575 369.5L575.1 385.5L576.5 391.9L576.7 393.5L576.1 394.5L574.5 396.1L572.5 397L572.1 337.5ZM620.1 334.5L620.5 333.8L621.5 333.8L622.4 335.5L624.8 344.5L624.7 345.5L623.2 347.5L621.5 348.7L620.5 348.2L619.2 345.5L619 337.5ZM620.5 357.5L621.5 357L628.5 357L630.5 359.8L632 368.5L632 377.5L631.5 380.6L630.5 382.7L628.5 383.6L622.5 382.1L618.8 379.5L617.3 377.5L617 361.5ZM587.4 399.5L589.5 399L604.5 399L608.2 400.5L609 401.5L609 415.5L607.5 416.7L604.5 417.4L589.5 417.4L585.3 416.5L585 401.5L585.6 400.5ZM572.5 331.5L572.5 331L573.5 331.4L574.6 332.5L576.4 335.5L577 337.5L576.9 353.5L574.5 362L572.5 365ZM627.4 363.5L628.5 363.1L629.5 363.7L630.5 365.3L631.4 369.5L631.2 377.5L629.5 380.6L627.7 380.5L624.5 378.6L623 376.5L623 369.5L623.5 367.5L624.6 365.5ZM572.5 335.5L572.5 335L573.5 335.7L574.3 337.5L574.3 352.5L573.5 355.7L572.5 357ZM628.4 367.5L629.5 367.9L630 369.5L630 376.5L629.5 377.7L628.5 378L627 376.5L627 369.5Z"/>
<path fill="#1c0838" fill-rule="evenodd" d="M695.5 329.5L696.5 328.8L698.5 328.6L730.5 328.7L733.5 329.8L735.1 331.5L735.9 333.5L736.1 431.5L734.5 435.1L731.5 436.5L728.5 436.9L706.5 436.9L702.5 436.3L698.7 432.5L692.6 423.5L691.9 418.5L691.9 335.5L693.1 331.5Z"/>
<path fill="#4c0890" fill-rule="evenodd" d="M698.5 329.5L729.5 329.5L732.7 330.5L734.5 332.3L735.4 334.5L735.4 429.5L734.5 433.4L733.5 434.5L729.5 435.3L713.5 435.6L703.5 435L700.6 432.5L693.5 422.3L692.7 415.5L692.5 336.1L693.4 332.5L694.5 331.3L695.5 330.4Z"/>
<path fill="#1020c8" fill-rule="evenodd" d="M696 333.5L698.5 333.1L730.5 333.1L732.5 333.6L733.7 335.5L734.9 348.5L733.9 380.5L733.8 424.5L733.2 429.5L732.5 430.6L731.5 431L714.5 431.9L705.5 430.7L703.5 429.1L695 417.5L694.4 411.5L694.4 372.5L693.2 348.5L694.3 336.5L694.9 334.5Z"/>
<path fill="#0040f0" fill-rule="evenodd" d="M696.3 336.5L698.5 335.7L729.5 335.7L731.5 336L732.5 337.4L733.9 347.5L733.9 353.5L732.6 380.5L733.1 403.5L732.6 422.5L732.2 425.5L731.2 427.5L719.5 429.1L713.5 429.1L707.5 427.8L705.4 426.5L696.5 415.2L695.7 409.5L695.7 372.5L694.3 353.5L694.8 343.5L695.5 338.4Z"/>
<path fill="#0078f8" fill-rule="evenodd" d="M698.2 338.5L728.5 338.2L730.5 338.6L731.7 340.5L733.1 348.5L731.4 380.5L732 403.5L731.3 420.5L730.7 423.5L729.8 424.5L719.5 426.4L713.5 426.3L709.5 425.3L706.5 422.9L697.5 411.8L696.9 406.5L696.9 372.5L695.9 366.5L695.2 348.5L696.2 341.5L697.5 338.9Z"/>
<path fill="#00b8f8" fill-rule="evenodd" d="M700.2 340.5L728.5 340.5L730.5 341.3L731.5 343.4L732.3 347.5L732.3 353.5L730.2 380.5L730.9 404.5L729.8 419.5L728.6 421.5L727.5 421.8L719.5 423.7L714.5 423.7L710.5 422.6L709.2 421.5L703.5 413.9L699.5 410.4L698.6 408.5L698.2 403.5L698.2 372.5L696.9 366.5L696 348.5L697.5 341.8L698.5 340.9Z"/>
<path fill="#00d8d8" fill-rule="evenodd" d="M699.1 342.5L701.5 342L727.5 342L729.5 342.6L730.5 343.8L731.5 347.5L731.5 353.5L729.1 380.5L729.9 403.5L728.2 417.5L727.5 418.4L720.5 420.9L714.5 421L712.6 420.5L710.5 419L706.4 412.5L700.2 406.5L699.5 401.5L699.4 372.5L697.9 366.5L697.8 360.5L696.8 353.5L697.1 346.5L698.1 343.5Z"/>
<path fill="#10f0a8" fill-rule="evenodd" d="M701.1 343.5L727.5 343.5L729.5 344.5L730.4 346.5L730.8 353.5L729.6 360.5L729.6 366.5L727.9 380.5L727.9 387.5L728.8 396.5L728.8 404.5L727.5 413.1L726.5 415.2L720.5 418.1L713.5 418L711.5 416.4L707.5 409.1L702.5 405.2L701.3 403.5L700.8 399.5L700.7 372.5L699 366.5L698.8 360.5L697.6 353.5L697.6 348.5L698.4 345.5L699.5 344Z"/>
<path fill="#50f080" fill-rule="evenodd" d="M699.9 345.5L702.5 344.8L726.5 344.8L728.5 345.4L729.5 346.8L730 353.5L728.7 360.5L728.6 366.5L727.5 374.3L726.5 376L724.4 377.5L723 380.5L723.2 388.5L724.5 390.7L726.5 392L727.5 393.7L727.7 395.5L727.5 406.2L726.5 408L725.5 408.4L723.5 410.9L722.5 414.5L720.5 415.4L714.5 415.5L713 414.5L711.3 411.5L711 388.5L709.6 385.5L706.5 382.7L705.2 380.5L705 372.5L704.2 371.5L701.5 370.5L700 366.5L699.8 360.5L698.4 353.5L698.5 348.5Z"/>
<path fill="#a0f000" fill-rule="evenodd" d="M700.8 346.5L703.5 346L725.5 346L727.5 346.4L728.5 347.2L729 348.5L729.2 353.5L727.7 360.5L727.5 367.5L726.5 369L721.5 369L719.5 368.7L718.5 368L714.5 363.5L713.5 363.5L708.5 368.7L701.5 367.5L700.9 365.5L700.9 360.5L699.3 353.5L699.4 348.5Z"/>
<path fill="#c8f800" fill-rule="evenodd" d="M701.7 347.5L724.5 347.2L727.5 348L728.4 353.5L727.5 357.7L723.8 359.5L721.5 362L720.5 362.7L719.5 362.5L716.2 359.5L713.5 358.7L711.5 359.7L708.5 362.5L707.5 362.7L704.2 359.5L701.5 358.5L700.1 353.5L700.5 348.9Z"/>
<path fill="#ffff00" fill-rule="evenodd" d="M701.9 349.5L704.5 348.5L725.5 348.7L726.5 349.3L727.1 350.5L727.6 353.5L726.5 355.5L725.5 355.6L720.5 356.8L714.5 355.6L707.5 356.8L701.5 355.5L701.1 352.5Z"/>
<path fill="none" stroke="#000" stroke-width="1.0" shape-rendering="crispEdges" d="M695.5 329.5L696.5 328.8L698.5 328.6L730.5 328.7L733.5 329.8L735.1 331.5L735.9 333.5L736.1 431.5L734.5 435.1L731.5 436.5L728.5 436.9L706.5 436.9L702.5 436.3L698.7 432.5L692.6 423.5L691.9 418.5L691.9 335.5L693.1 331.5ZM698.5 329.5L729.5 329.5L732.7 330.5L734.5 332.3L735.4 334.5L735.4 429.5L734.5 433.4L733.5 434.5L729.5 435.3L713.5 435.6L703.5 435L700.6 432.5L693.5 422.3L692.7 415.5L692.5 336.1L693.4 332.5L694.5 331.3L695.5 330.4ZM696 333.5L698.5 333.1L730.5 333.1L732.5 333.6L733.7 335.5L734.9 348.5L733.9 380.5L733.8 424.5L733.2 429.5L732.5 430.6L731.5 431L714.5 431.9L705.5 430.7L703.5 429.1L695 417.5L694.4 411.5L694.4 372.5L693.2 348.5L694.3 336.5L694.9 334.5ZM696.3 336.5L698.5 335.7L729.5 335.7L731.5 336L732.5 337.4L733.9 347.5L733.9 353.5L732.6 380.5L733.1 403.5L732.6 422.5L732.2 425.5L731.2 427.5L719.5 429.1L713.5 429.1L707.5 427.8L705.4 426.5L696.5 415.2L695.7 409.5L695.7 372.5L694.3 353.5L694.8 343.5L695.5 338.4ZM698.2 338.5L728.5 338.2L730.5 338.6L731.7 340.5L733.1 348.5L731.4 380.5L732 403.5L731.3 420.5L730.7 423.5L729.8 424.5L719.5 426.4L713.5 426.3L709.5 425.3L706.5 422.9L697.5 411.8L696.9 406.5L696.9 372.5L695.9 366.5L695.2 348.5L696.2 341.5L697.5 338.9ZM700.2 340.5L728.5 340.5L730.5 341.3L731.5 343.4L732.3 347.5L732.3 353.5L730.2 380.5L730.9 404.5L729.8 419.5L728.6 421.5L727.5 421.8L719.5 423.7L714.5 423.7L710.5 422.6L709.2 421.5L703.5 413.9L699.5 410.4L698.6 408.5L698.2 403.5L698.2 372.5L696.9 366.5L696 348.5L697.5 341.8L698.5 340.9ZM699.1 342.5L701.5 342L727.5 342L729.5 342.6L730.5 343.8L731.5 347.5L731.5 353.5L729.1 380.5L729.9 403.5L728.2 417.5L727.5 418.4L720.5 420.9L714.5 421L712.6 420.5L710.5 419L706.4 412.5L700.2 406.5L699.5 401.5L699.4 372.5L697.9 366.5L697.8 360.5L696.8 353.5L697.1 346.5L698.1 343.5ZM701.1 343.5L727.5 343.5L729.5 344.5L730.4 346.5L730.8 353.5L729.6 360.5L729.6 366.5L727.9 380.5L727.9 387.5L728.8 396.5L728.8 404.5L727.5 413.1L726.5 415.2L720.5 418.1L713.5 418L711.5 416.4L707.5 409.1L702.5 405.2L701.3 403.5L700.8 399.5L700.7 372.5L699 366.5L698.8 360.5L697.6 353.5L697.6 348.5L698.4 345.5L699.5 344ZM699.9 345.5L702.5 344.8L726.5 344.8L728.5 345.4L729.5 346.8L730 353.5L728.7 360.5L728.6 366.5L727.5 374.3L726.5 376L724.4 377.5L723 380.5L723.2 388.5L724.5 390.7L726.5 392L727.5 393.7L727.7 395.5L727.5 406.2L726.5 408L725.5 408.4L723.5 410.9L722.5 414.5L720.5 415.4L714.5 415.5L713 414.5L711.3 411.5L711 388.5L709.6 385.5L706.5 382.7L705.2 380.5L705 372.5L704.2 371.5L701.5 370.5L700 366.5L699.8 360.5L698.4 353.5L698.5 348.5ZM700.8 346.5L703.5 346L725.5 346L727.5 346.4L728.5 347.2L729 348.5L729.2 353.5L727.7 360.5L727.5 367.5L726.5 369L721.5 369L719.5 368.7L718.5 368L714.5 363.5L713.5 363.5L708.5 368.7L701.5 367.5L700.9 365.5L700.9 360.5L699.3 353.5L699.4 348.5ZM701.7 347.5L724.5 347.2L727.5 348L728.4 353.5L727.5 357.7L723.8 359.5L721.5 362L720.5 362.7L719.5 362.5L716.2 359.5L713.5 358.7L711.5 359.7L708.5 362.5L707.5 362.7L704.2 359.5L701.5 358.5L700.1 353.5L700.5 348.9ZM701.9 349.5L704.5 348.5L725.5 348.7L726.5 349.3L727.1 350.5L727.6 353.5L726.5 355.5L725.5 355.6L720.5 356.8L714.5 355.6L707.5 356.8L701.5 355.5L701.1 352.5Z"/>
<clipPath id="c3_2"><rect x="770" y="296" width="23" height="189"/></clipPath><g clip-path="url(#c3_2)">
<path fill="#1c0838" fill-rule="evenodd" d="M781.1 295.5L797.9 295.5L798.2 434.5L797.5 436.9L795.5 438L793.5 438.1L783.5 438L779.5 437L776.8 434.5L775.8 431.5L775.8 335.5L776 333.5L777 331.5L780.5 328.6L780.9 327.5Z"/>
<path fill="#4c0890" fill-rule="evenodd" d="M782.1 295.5L797.8 295.5L797.5 431.1L796.5 435.2L795.5 435.9L792.5 436.1L780.5 435.6L777.7 433.5L776.6 429.5L776.6 405.5L777.3 394.5L777.3 336.5L778.5 332.5L781.5 330.3L782.6 328.5L782.1 322.5Z"/>
<path fill="#1020c8" fill-rule="evenodd" d="M783.7 295.5L797.7 295.5L797.3 417.5L796.5 426L795.7 428.5L794.5 429.5L792.5 429.7L781.5 429.6L780.1 428.5L779.5 425.5L779.4 405.5L780.6 394.5L780.7 337.5L781 335.5L784.5 332.3L785.3 329.5L783.7 321.5Z"/>
<path fill="#0040f0" fill-rule="evenodd" d="M784.4 295.5L797.6 295.5L797.3 410.5L796.9 417.5L795.8 423.5L794.5 425.3L793.5 425.5L783.5 425.3L782.5 424.9L781.7 423.5L781.2 420.5L781.1 405.5L781.8 394.5L781.9 338.5L782.5 335.9L785.5 332.7L786.6 329.5L784.5 320.5Z"/>
<path fill="#0078f8" fill-rule="evenodd" d="M784.8 295.5L797.5 295.5L797.2 407.5L796.7 415.5L795.7 421.5L794.5 423.4L793.5 423.6L783.5 423.2L782.5 421.7L782.1 419.5L782 405.5L782.9 394.5L782.9 339.5L783.5 336.5L786.4 332.5L787.2 329.5L784.9 320.5Z"/>
<path fill="#00b8f8" fill-rule="evenodd" d="M785.2 295.5L797.4 295.5L797.2 403.5L795.9 418.5L795.5 420.2L794.5 421.5L793.5 421.8L784.5 421.5L783.5 420.4L782.9 417.5L782.8 405.5L783.8 394.5L783.8 339.5L784.1 337.5L787 332.5L787.8 329.5L785.2 319.5Z"/>
<path fill="#00d8d8" fill-rule="evenodd" d="M785.6 295.5L797.3 295.5L797.1 403.5L796.5 412.2L795.5 418.2L794.5 419.6L792.5 420L785.2 419.5L784 417.5L783.7 414.5L783.6 405.5L784.4 394.5L784.6 339.5L784.9 337.5L787.6 332.5L788.4 329.5L788.2 327.5L786.2 322.5L785.6 319.5Z"/>
<path fill="#10f0a8" fill-rule="evenodd" d="M785.9 295.5L797.2 295.5L797 402.5L795.5 416.2L794.5 417.8L792.5 418.1L787.5 418.1L785.8 417.5L784.8 415.5L784.5 413.3L785.1 339.5L785.5 337.5L788.2 332.5L789 329.5L788.8 327.5L786.5 322.1L785.9 319.5Z"/>
<path fill="#50f080" fill-rule="evenodd" d="M786.2 295.5L797 295.5L796.9 402.5L795.5 414.2L794.5 415.9L792.5 416.3L788.5 416.2L786.5 415.7L785.5 413.5L785.2 410.5L785.6 340.5L786.1 337.5L788.9 332.5L789.6 329.5L789.1 326.5L787.1 322.5L786.3 319.5Z"/>
<path fill="#a0f000" fill-rule="evenodd" d="M786.6 295.5L796.9 295.5L796.7 402.5L795.5 412.3L794.5 414L792.5 414.4L787.5 414L786.5 412.5L785.9 408.5L786 340.5L786.7 337.5L789.6 332.5L790.3 329.5L789.8 326.5L787.2 321.5L786.5 318.5Z"/>
<path fill="#c8f800" fill-rule="evenodd" d="M787 295.5L796.7 295.5L796.6 402.5L795.5 409L792.5 409L788.5 409L787.6 408.5L786.4 405.5L786.5 340.5L787.2 337.5L790.3 332.5L790.9 329.5L790.5 326.5L787.5 321.3L786.9 318.5Z"/>
<path fill="#ffff00" fill-rule="evenodd" d="M787.5 295.5L796.6 295.5L796.7 321.5L796.2 330.5L796.6 336.5L796.5 402.5L791.5 402.5L788.5 402.5L787.5 400.8L786.8 395.5L786.8 384.5L787.5 374.5L787.5 338.5L790.7 333.5L791.6 329.5L790.7 325.5L787.3 319.5Z"/>
<path fill="#ffd800" fill-rule="evenodd" d="M788.4 304.5L788.5 303.5L796.5 303.5L796.5 322.5L795.6 330.5L795.5 332.5L792.5 332.5L792 326.5L788.2 320.5L787.7 318.5L787.7 310.5ZM788.4 380.5L788.5 380L796.5 380L796.5 396.5L796.5 397.5L788.5 397.5L787.7 394.5L787.7 385.5Z"/>
<path fill="none" stroke="#000" stroke-width="1.0" shape-rendering="crispEdges" d="M781.1 295.5L797.9 295.5L798.2 434.5L797.5 436.9L795.5 438L793.5 438.1L783.5 438L779.5 437L776.8 434.5L775.8 431.5L775.8 335.5L776 333.5L777 331.5L780.5 328.6L780.9 327.5ZM782.1 295.5L797.8 295.5L797.5 431.1L796.5 435.2L795.5 435.9L792.5 436.1L780.5 435.6L777.7 433.5L776.6 429.5L776.6 405.5L777.3 394.5L777.3 336.5L778.5 332.5L781.5 330.3L782.6 328.5L782.1 322.5ZM783.7 295.5L797.7 295.5L797.3 417.5L796.5 426L795.7 428.5L794.5 429.5L792.5 429.7L781.5 429.6L780.1 428.5L779.5 425.5L779.4 405.5L780.6 394.5L780.7 337.5L781 335.5L784.5 332.3L785.3 329.5L783.7 321.5ZM784.4 295.5L797.6 295.5L797.3 410.5L796.9 417.5L795.8 423.5L794.5 425.3L793.5 425.5L783.5 425.3L782.5 424.9L781.7 423.5L781.2 420.5L781.1 405.5L781.8 394.5L781.9 338.5L782.5 335.9L785.5 332.7L786.6 329.5L784.5 320.5ZM784.8 295.5L797.5 295.5L797.2 407.5L796.7 415.5L795.7 421.5L794.5 423.4L793.5 423.6L783.5 423.2L782.5 421.7L782.1 419.5L782 405.5L782.9 394.5L782.9 339.5L783.5 336.5L786.4 332.5L787.2 329.5L784.9 320.5ZM785.2 295.5L797.4 295.5L797.2 403.5L795.9 418.5L795.5 420.2L794.5 421.5L793.5 421.8L784.5 421.5L783.5 420.4L782.9 417.5L782.8 405.5L783.8 394.5L783.8 339.5L784.1 337.5L787 332.5L787.8 329.5L785.2 319.5ZM785.6 295.5L797.3 295.5L797.1 403.5L796.5 412.2L795.5 418.2L794.5 419.6L792.5 420L785.2 419.5L784 417.5L783.7 414.5L783.6 405.5L784.4 394.5L784.6 339.5L784.9 337.5L787.6 332.5L788.4 329.5L788.2 327.5L786.2 322.5L785.6 319.5ZM785.9 295.5L797.2 295.5L797 402.5L795.5 416.2L794.5 417.8L792.5 418.1L787.5 418.1L785.8 417.5L784.8 415.5L784.5 413.3L785.1 339.5L785.5 337.5L788.2 332.5L789 329.5L788.8 327.5L786.5 322.1L785.9 319.5ZM786.2 295.5L797 295.5L796.9 402.5L795.5 414.2L794.5 415.9L792.5 416.3L788.5 416.2L786.5 415.7L785.5 413.5L785.2 410.5L785.6 340.5L786.1 337.5L788.9 332.5L789.6 329.5L789.1 326.5L787.1 322.5L786.3 319.5ZM786.6 295.5L796.9 295.5L796.7 402.5L795.5 412.3L794.5 414L792.5 414.4L787.5 414L786.5 412.5L785.9 408.5L786 340.5L786.7 337.5L789.6 332.5L790.3 329.5L789.8 326.5L787.2 321.5L786.5 318.5ZM787 295.5L796.7 295.5L796.6 402.5L795.5 409L792.5 409L788.5 409L787.6 408.5L786.4 405.5L786.5 340.5L787.2 337.5L790.3 332.5L790.9 329.5L790.5 326.5L787.5 321.3L786.9 318.5ZM787.5 295.5L796.6 295.5L796.7 321.5L796.2 330.5L796.6 336.5L796.5 402.5L791.5 402.5L788.5 402.5L787.5 400.8L786.8 395.5L786.8 384.5L787.5 374.5L787.5 338.5L790.7 333.5L791.6 329.5L790.7 325.5L787.3 319.5ZM788.4 304.5L788.5 303.5L796.5 303.5L796.5 322.5L795.6 330.5L795.5 332.5L792.5 332.5L792 326.5L788.2 320.5L787.7 318.5L787.7 310.5ZM788.4 380.5L788.5 380L796.5 380L796.5 396.5L796.5 397.5L788.5 397.5L787.7 394.5L787.7 385.5Z"/>
</g>
</g>
<rect x="547.5" y="296.5" width="269" height="189" fill="none" stroke="#000" stroke-width="1"/>
<line x1="548" y1="482.5" x2="551" y2="482.5" stroke="#000" stroke-width="1"/>
<line x1="816" y1="482.5" x2="813" y2="482.5" stroke="#000" stroke-width="1"/>
<line x1="548" y1="479.5" x2="551" y2="479.5" stroke="#000" stroke-width="1"/>
<line x1="816" y1="479.5" x2="813" y2="479.5" stroke="#000" stroke-width="1"/>
<line x1="548" y1="476.5" x2="551" y2="476.5" stroke="#000" stroke-width="1"/>
<line x1="816" y1="476.5" x2="813" y2="476.5" stroke="#000" stroke-width="1"/>
<line x1="548" y1="472.5" x2="551" y2="472.5" stroke="#000" stroke-width="1"/>
<line x1="816" y1="472.5" x2="813" y2="472.5" stroke="#000" stroke-width="1"/>
<line x1="548" y1="469.5" x2="551" y2="469.5" stroke="#000" stroke-width="1"/>
<line x1="816" y1="469.5" x2="813" y2="469.5" stroke="#000" stroke-width="1"/>
<line x1="548" y1="466.5" x2="551" y2="466.5" stroke="#000" stroke-width="1"/>
<line x1="816" y1="466.5" x2="813" y2="466.5" stroke="#000" stroke-width="1"/>
<line x1="548" y1="463.5" x2="551" y2="463.5" stroke="#000" stroke-width="1"/>
<line x1="816" y1="463.5" x2="813" y2="463.5" stroke="#000" stroke-width="1"/>
<line x1="548" y1="460.5" x2="551" y2="460.5" stroke="#000" stroke-width="1"/>
<line x1="816" y1="460.5" x2="813" y2="460.5" stroke="#000" stroke-width="1"/>
<line x1="548" y1="457.5" x2="551" y2="457.5" stroke="#000" stroke-width="1"/>
<line x1="816" y1="457.5" x2="813" y2="457.5" stroke="#000" stroke-width="1"/>
<line x1="548" y1="454.5" x2="554" y2="454.5" stroke="#000" stroke-width="1"/>
<line x1="816" y1="454.5" x2="810" y2="454.5" stroke="#000" stroke-width="1"/>
<line x1="548" y1="450.5" x2="551" y2="450.5" stroke="#000" stroke-width="1"/>
<line x1="816" y1="450.5" x2="813" y2="450.5" stroke="#000" stroke-width="1"/>
<line x1="548" y1="447.5" x2="551" y2="447.5" stroke="#000" stroke-width="1"/>
<line x1="816" y1="447.5" x2="813" y2="447.5" stroke="#000" stroke-width="1"/>
<line x1="548" y1="444.5" x2="551" y2="444.5" stroke="#000" stroke-width="1"/>
<line x1="816" y1="444.5" x2="813" y2="444.5" stroke="#000" stroke-width="1"/>
<line x1="548" y1="441.5" x2="551" y2="441.5" stroke="#000" stroke-width="1"/>
<line x1="816" y1="441.5" x2="813" y2="441.5" stroke="#000" stroke-width="1"/>
<line x1="548" y1="438.5" x2="551" y2="438.5" stroke="#000" stroke-width="1"/>
<line x1="816" y1="438.5" x2="813" y2="438.5" stroke="#000" stroke-width="1"/>
<line x1="548" y1="435.5" x2="551" y2="435.5" stroke="#000" stroke-width="1"/>
<line x1="816" y1="435.5" x2="813" y2="435.5" stroke="#000" stroke-width="1"/>
<line x1="548" y1="431.5" x2="551" y2="431.5" stroke="#000" stroke-width="1"/>
<line x1="816" y1="431.5" x2="813" y2="431.5" stroke="#000" stroke-width="1"/>
<line x1="548" y1="428.5" x2="551" y2="428.5" stroke="#000" stroke-width="1"/>
<line x1="816" y1="428.5" x2="813" y2="428.5" stroke="#000" stroke-width="1"/>
<line x1="548" y1="425.5" x2="551" y2="425.5" stroke="#000" stroke-width="1"/>
<line x1="816" y1="425.5" x2="813" y2="425.5" stroke="#000" stroke-width="1"/>
<line x1="548" y1="422.5" x2="554" y2="422.5" stroke="#000" stroke-width="1"/>
<line x1="816" y1="422.5" x2="810" y2="422.5" stroke="#000" stroke-width="1"/>
<line x1="548" y1="419.5" x2="551" y2="419.5" stroke="#000" stroke-width="1"/>
<line x1="816" y1="419.5" x2="813" y2="419.5" stroke="#000" stroke-width="1"/>
<line x1="548" y1="416.5" x2="551" y2="416.5" stroke="#000" stroke-width="1"/>
<line x1="816" y1="416.5" x2="813" y2="416.5" stroke="#000" stroke-width="1"/>
<line x1="548" y1="413.5" x2="551" y2="413.5" stroke="#000" stroke-width="1"/>
<line x1="816" y1="413.5" x2="813" y2="413.5" stroke="#000" stroke-width="1"/>
<line x1="548" y1="409.5" x2="551" y2="409.5" stroke="#000" stroke-width="1"/>
<line x1="816" y1="409.5" x2="813" y2="409.5" stroke="#000" stroke-width="1"/>
<line x1="548" y1="406.5" x2="551" y2="406.5" stroke="#000" stroke-width="1"/>
<line x1="816" y1="406.5" x2="813" y2="406.5" stroke="#000" stroke-width="1"/>
<line x1="548" y1="403.5" x2="551" y2="403.5" stroke="#000" stroke-width="1"/>
<line x1="816" y1="403.5" x2="813" y2="403.5" stroke="#000" stroke-width="1"/>
<line x1="548" y1="400.5" x2="551" y2="400.5" stroke="#000" stroke-width="1"/>
<line x1="816" y1="400.5" x2="813" y2="400.5" stroke="#000" stroke-width="1"/>
<line x1="548" y1="397.5" x2="551" y2="397.5" stroke="#000" stroke-width="1"/>
<line x1="816" y1="397.5" x2="813" y2="397.5" stroke="#000" stroke-width="1"/>
<line x1="548" y1="394.5" x2="551" y2="394.5" stroke="#000" stroke-width="1"/>
<line x1="816" y1="394.5" x2="813" y2="394.5" stroke="#000" stroke-width="1"/>
<line x1="548" y1="390.5" x2="554" y2="390.5" stroke="#000" stroke-width="1"/>
<line x1="816" y1="390.5" x2="810" y2="390.5" stroke="#000" stroke-width="1"/>
<line x1="548" y1="387.5" x2="551" y2="387.5" stroke="#000" stroke-width="1"/>
<line x1="816" y1="387.5" x2="813" y2="387.5" stroke="#000" stroke-width="1"/>
<line x1="548" y1="384.5" x2="551" y2="384.5" stroke="#000" stroke-width="1"/>
<line x1="816" y1="384.5" x2="813" y2="384.5" stroke="#000" stroke-width="1"/>
<line x1="548" y1="381.5" x2="551" y2="381.5" stroke="#000" stroke-width="1"/>
<line x1="816" y1="381.5" x2="813" y2="381.5" stroke="#000" stroke-width="1"/>
<line x1="548" y1="378.5" x2="551" y2="378.5" stroke="#000" stroke-width="1"/>
<line x1="816" y1="378.5" x2="813" y2="378.5" stroke="#000" stroke-width="1"/>
<line x1="548" y1="375.5" x2="551" y2="375.5" stroke="#000" stroke-width="1"/>
<line x1="816" y1="375.5" x2="813" y2="375.5" stroke="#000" stroke-width="1"/>
<line x1="548" y1="372.5" x2="551" y2="372.5" stroke="#000" stroke-width="1"/>
<line x1="816" y1="372.5" x2="813" y2="372.5" stroke="#000" stroke-width="1"/>
<line x1="548" y1="368.5" x2="551" y2="368.5" stroke="#000" stroke-width="1"/>
<line x1="816" y1="368.5" x2="813" y2="368.5" stroke="#000" stroke-width="1"/>
<line x1="548" y1="365.5" x2="551" y2="365.5" stroke="#000" stroke-width="1"/>
<line x1="816" y1="365.5" x2="813" y2="365.5" stroke="#000" stroke-width="1"/>
<line x1="548" y1="362.5" x2="551" y2="362.5" stroke="#000" stroke-width="1"/>
<line x1="816" y1="362.5" x2="813" y2="362.5" stroke="#000" stroke-width="1"/>
<line x1="548" y1="359.5" x2="554" y2="359.5" stroke="#000" stroke-width="1"/>
<line x1="816" y1="359.5" x2="810" y2="359.5" stroke="#000" stroke-width="1"/>
<line x1="548" y1="356.5" x2="551" y2="356.5" stroke="#000" stroke-width="1"/>
<line x1="816" y1="356.5" x2="813" y2="356.5" stroke="#000" stroke-width="1"/>
<line x1="548" y1="353.5" x2="551" y2="353.5" stroke="#000" stroke-width="1"/>
<line x1="816" y1="353.5" x2="813" y2="353.5" stroke="#000" stroke-width="1"/>
<line x1="548" y1="350.5" x2="551" y2="350.5" stroke="#000" stroke-width="1"/>
<line x1="816" y1="350.5" x2="813" y2="350.5" stroke="#000" stroke-width="1"/>
<line x1="548" y1="346.5" x2="551" y2="346.5" stroke="#000" stroke-width="1"/>
<line x1="816" y1="346.5" x2="813" y2="346.5" stroke="#000" stroke-width="1"/>
<line x1="548" y1="343.5" x2="551" y2="343.5" stroke="#000" stroke-width="1"/>
<line x1="816" y1="343.5" x2="813" y2="343.5" stroke="#000" stroke-width="1"/>
<line x1="548" y1="340.5" x2="551" y2="340.5" stroke="#000" stroke-width="1"/>
<line x1="816" y1="340.5" x2="813" y2="340.5" stroke="#000" stroke-width="1"/>
<line x1="548" y1="337.5" x2="551" y2="337.5" stroke="#000" stroke-width="1"/>
<line x1="816" y1="337.5" x2="813" y2="337.5" stroke="#000" stroke-width="1"/>
<line x1="548" y1="334.5" x2="551" y2="334.5" stroke="#000" stroke-width="1"/>
<line x1="816" y1="334.5" x2="813" y2="334.5" stroke="#000" stroke-width="1"/>
<line x1="548" y1="331.5" x2="551" y2="331.5" stroke="#000" stroke-width="1"/>
<line x1="816" y1="331.5" x2="813" y2="331.5" stroke="#000" stroke-width="1"/>
<line x1="548" y1="328.5" x2="554" y2="328.5" stroke="#000" stroke-width="1"/>
<line x1="816" y1="328.5" x2="810" y2="328.5" stroke="#000" stroke-width="1"/>
<line x1="548" y1="324.5" x2="551" y2="324.5" stroke="#000" stroke-width="1"/>
<line x1="816" y1="324.5" x2="813" y2="324.5" stroke="#000" stroke-width="1"/>
<line x1="548" y1="321.5" x2="551" y2="321.5" stroke="#000" stroke-width="1"/>
<line x1="816" y1="321.5" x2="813" y2="321.5" stroke="#000" stroke-width="1"/>
<line x1="548" y1="318.5" x2="551" y2="318.5" stroke="#000" stroke-width="1"/>
<line x1="816" y1="318.5" x2="813" y2="318.5" stroke="#000" stroke-width="1"/>
<line x1="548" y1="315.5" x2="551" y2="315.5" stroke="#000" stroke-width="1"/>
<line x1="816" y1="315.5" x2="813" y2="315.5" stroke="#000" stroke-width="1"/>
<line x1="548" y1="312.5" x2="551" y2="312.5" stroke="#000" stroke-width="1"/>
<line x1="816" y1="312.5" x2="813" y2="312.5" stroke="#000" stroke-width="1"/>
<line x1="548" y1="309.5" x2="551" y2="309.5" stroke="#000" stroke-width="1"/>
<line x1="816" y1="309.5" x2="813" y2="309.5" stroke="#000" stroke-width="1"/>
<line x1="548" y1="305.5" x2="551" y2="305.5" stroke="#000" stroke-width="1"/>
<line x1="816" y1="305.5" x2="813" y2="305.5" stroke="#000" stroke-width="1"/>
<line x1="548" y1="302.5" x2="551" y2="302.5" stroke="#000" stroke-width="1"/>
<line x1="816" y1="302.5" x2="813" y2="302.5" stroke="#000" stroke-width="1"/>
<line x1="548" y1="299.5" x2="551" y2="299.5" stroke="#000" stroke-width="1"/>
<line x1="816" y1="299.5" x2="813" y2="299.5" stroke="#000" stroke-width="1"/>
<line x1="614.5" y1="485" x2="614.5" y2="481" stroke="#000" stroke-width="1"/>
<line x1="614.5" y1="297" x2="614.5" y2="301" stroke="#000" stroke-width="1"/>
<line x1="682.5" y1="485" x2="682.5" y2="481" stroke="#000" stroke-width="1"/>
<line x1="682.5" y1="297" x2="682.5" y2="301" stroke="#000" stroke-width="1"/>
<line x1="749.5" y1="485" x2="749.5" y2="481" stroke="#000" stroke-width="1"/>
<line x1="749.5" y1="297" x2="749.5" y2="301" stroke="#000" stroke-width="1"/>
<text x="531.00" y="485.00" font-size="13.0" textLength="12.00" lengthAdjust="spacingAndGlyphs">60</text>
<text x="531.00" y="456.50" font-size="13.0" textLength="12.00" lengthAdjust="spacingAndGlyphs">70</text>
<text x="531.00" y="426.00" font-size="13.0" textLength="12.00" lengthAdjust="spacingAndGlyphs">80</text>
<text x="531.00" y="394.50" font-size="13.0" textLength="12.00" lengthAdjust="spacingAndGlyphs">90</text>
<text x="525.00" y="363.00" font-size="13.0" textLength="18.00" lengthAdjust="spacingAndGlyphs">100</text>
<text x="525.00" y="331.50" font-size="13.0" textLength="18.00" lengthAdjust="spacingAndGlyphs">110</text>
<text x="525.00" y="303.00" font-size="13.0" textLength="18.00" lengthAdjust="spacingAndGlyphs">120</text>
<text x="538.50" y="500.00" font-size="13.0" textLength="18.00" lengthAdjust="spacingAndGlyphs">-90</text>
<text x="611.75" y="500.00" font-size="13.0" textLength="6.00" lengthAdjust="spacingAndGlyphs">0</text>
<text x="676.00" y="500.00" font-size="13.0" textLength="12.00" lengthAdjust="spacingAndGlyphs">90</text>
<text x="746.25" y="500.00" font-size="13.0" textLength="6.00" lengthAdjust="spacingAndGlyphs">0</text>
<text x="807.50" y="500.00" font-size="13.0" textLength="18.00" lengthAdjust="spacingAndGlyphs">-90</text>
<text class="m" x="655.00" y="512.00" font-size="13.0" textLength="54.00" lengthAdjust="spacingAndGlyphs">Lat (deg)</text>
<text class="m" x="516.00" y="325.00" font-size="13.0" text-anchor="middle">A</text>
<text class="m" x="516.00" y="335.00" font-size="13.0" text-anchor="middle">l</text>
<text class="m" x="516.00" y="345.00" font-size="13.0" text-anchor="middle">t</text>
<text class="m" x="516.00" y="355.00" font-size="13.0" text-anchor="middle">i</text>
<text class="m" x="516.00" y="365.00" font-size="13.0" text-anchor="middle">t</text>
<text class="m" x="516.00" y="375.00" font-size="13.0" text-anchor="middle">u</text>
<text class="m" x="516.00" y="385.00" font-size="13.0" text-anchor="middle">d</text>
<text class="m" x="516.00" y="395.00" font-size="13.0" text-anchor="middle">e</text>
<text class="m" x="516.00" y="415.00" font-size="13.0" text-anchor="middle">(</text>
<text class="m" x="516.00" y="425.00" font-size="13.0" text-anchor="middle">k</text>
<text class="m" x="516.00" y="435.00" font-size="13.0" text-anchor="middle">m</text>
<text class="m" x="516.00" y="445.00" font-size="13.0" text-anchor="middle">)</text>
<text class="m" x="589.00" y="290.00" font-size="13.0" textLength="186.00" lengthAdjust="spacingAndGlyphs">Inverted Winds Zonal (warmside)</text>
<rect x="845" y="475.60" width="29" height="9.70" fill="#1c0838"/>
<rect x="845" y="466.20" width="29" height="9.70" fill="#4c0890"/>
<rect x="845" y="456.80" width="29" height="9.70" fill="#1020c8"/>
<rect x="845" y="447.40" width="29" height="9.70" fill="#0040f0"/>
<rect x="845" y="438.00" width="29" height="9.70" fill="#0078f8"/>
<rect x="845" y="428.60" width="29" height="9.70" fill="#00b8f8"/>
<rect x="845" y="419.20" width="29" height="9.70" fill="#00d8d8"/>
<rect x="845" y="409.80" width="29" height="9.70" fill="#10f0a8"/>
<rect x="845" y="400.40" width="29" height="9.70" fill="#50f080"/>
<rect x="845" y="391.00" width="29" height="9.70" fill="#a0f000"/>
<rect x="845" y="381.60" width="29" height="9.70" fill="#c8f800"/>
<rect x="845" y="372.20" width="29" height="9.70" fill="#ffff00"/>
<rect x="845" y="362.80" width="29" height="9.70" fill="#ffd800"/>
<rect x="845" y="353.40" width="29" height="9.70" fill="#ffa800"/>
<rect x="845" y="344.00" width="29" height="9.70" fill="#e07828"/>
<rect x="845" y="334.60" width="29" height="9.70" fill="#c84848"/>
<rect x="845" y="325.20" width="29" height="9.70" fill="#d82c60"/>
<rect x="845" y="315.80" width="29" height="9.70" fill="#ff0060"/>
<rect x="845" y="306.40" width="29" height="9.70" fill="#f030a8"/>
<rect x="845" y="297.00" width="29" height="9.70" fill="#f860f8"/>
<rect x="845.5" y="297.5" width="28" height="188" fill="none" stroke="#000"/>
<line x1="866" y1="320.5" x2="873" y2="320.5" stroke="#000" stroke-width="1"/>
<line x1="866" y1="344.5" x2="873" y2="344.5" stroke="#000" stroke-width="1"/>
<line x1="866" y1="368.5" x2="873" y2="368.5" stroke="#000" stroke-width="1"/>
<line x1="866" y1="391.5" x2="873" y2="391.5" stroke="#000" stroke-width="1"/>
<line x1="866" y1="414.5" x2="873" y2="414.5" stroke="#000" stroke-width="1"/>
<line x1="866" y1="438.5" x2="873" y2="438.5" stroke="#000" stroke-width="1"/>
<line x1="866" y1="462.5" x2="873" y2="462.5" stroke="#000" stroke-width="1"/>
<text x="884.00" y="299.00" font-size="13.0" textLength="30.00" lengthAdjust="spacingAndGlyphs">200.0</text>
<text x="884.00" y="322.50" font-size="13.0" textLength="30.00" lengthAdjust="spacingAndGlyphs">150.0</text>
<text x="884.00" y="346.00" font-size="13.0" textLength="30.00" lengthAdjust="spacingAndGlyphs">100.0</text>
<text x="890.00" y="369.50" font-size="13.0" textLength="24.00" lengthAdjust="spacingAndGlyphs">50.0</text>
<text x="896.00" y="393.00" font-size="13.0" textLength="18.00" lengthAdjust="spacingAndGlyphs">0.0</text>
<text x="884.00" y="416.50" font-size="13.0" textLength="30.00" lengthAdjust="spacingAndGlyphs">-50.0</text>
<text x="878.00" y="440.00" font-size="13.0" textLength="36.00" lengthAdjust="spacingAndGlyphs">-100.0</text>
<text x="878.00" y="463.50" font-size="13.0" textLength="36.00" lengthAdjust="spacingAndGlyphs">-150.0</text>
<text x="878.00" y="487.00" font-size="13.0" textLength="36.00" lengthAdjust="spacingAndGlyphs">-200.0</text>
<text x="577.00" y="525.00" font-size="13.0" textLength="210.00" lengthAdjust="spacingAndGlyphs">2009360v01 Wed Aug 10 08:58:14 2016</text>
</svg>
</body></html>
